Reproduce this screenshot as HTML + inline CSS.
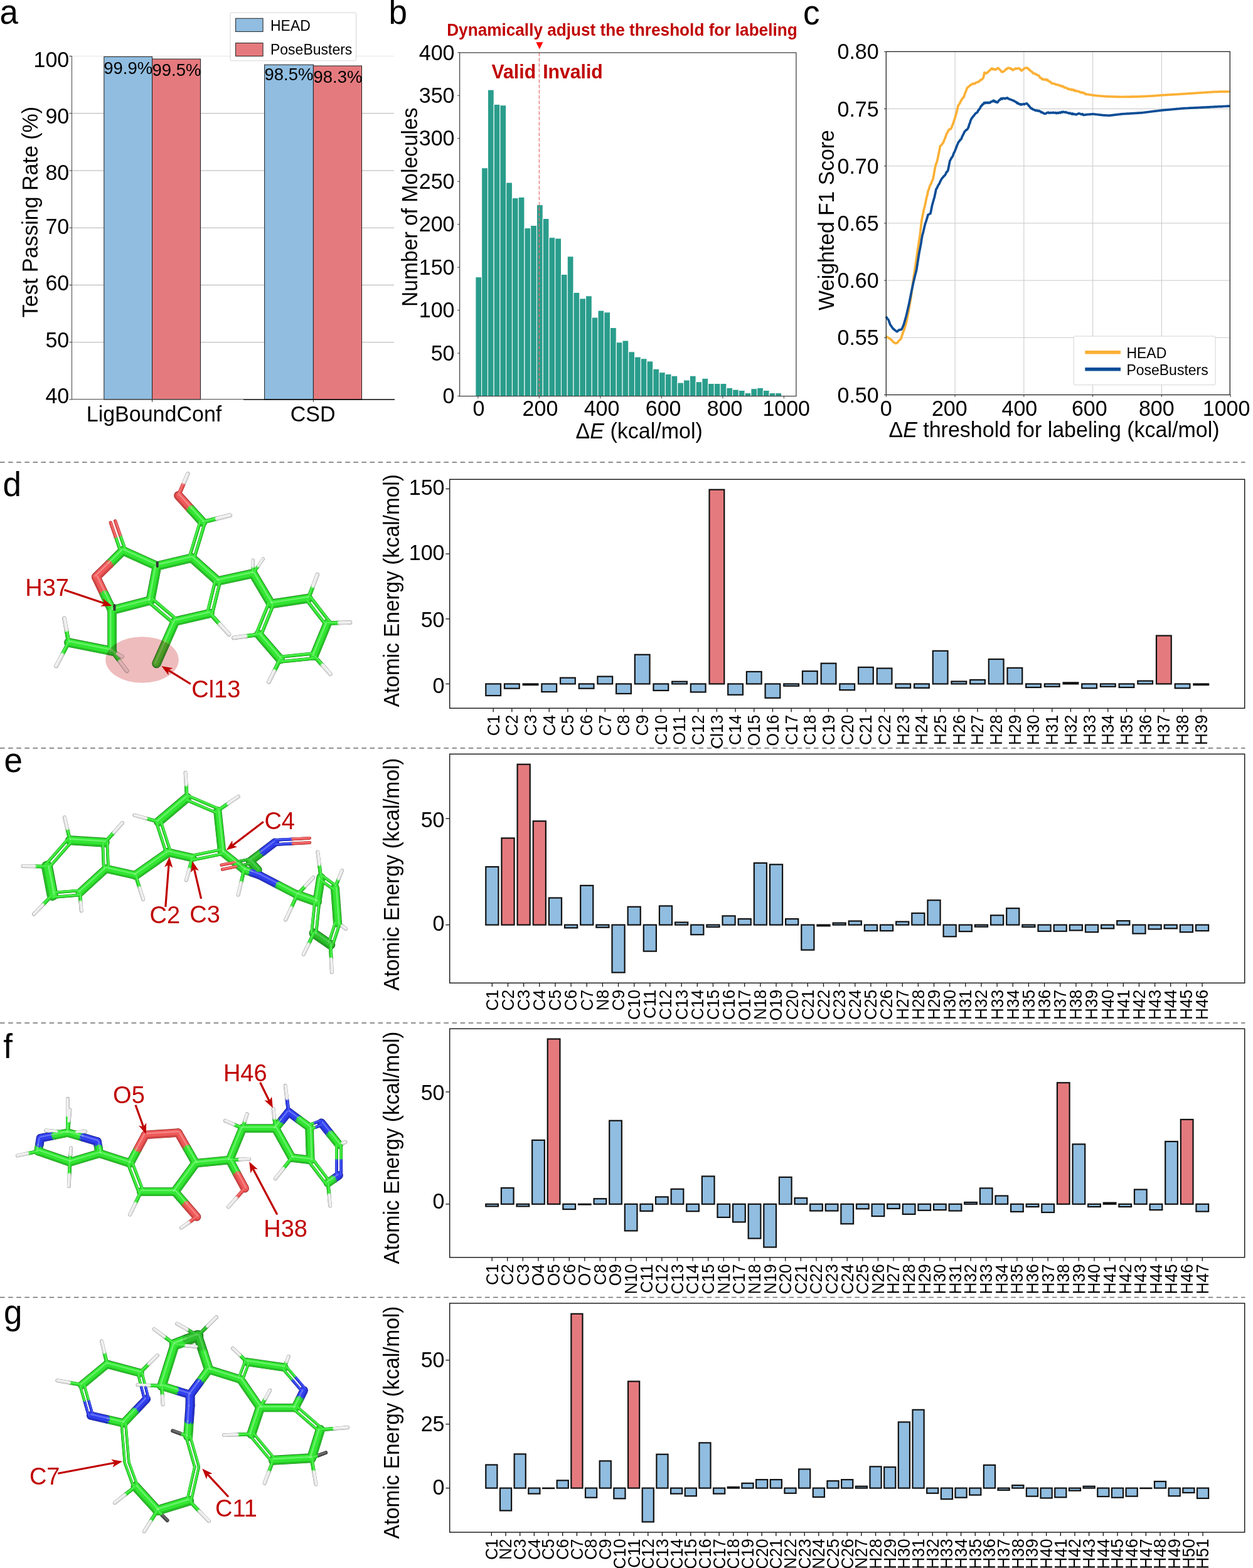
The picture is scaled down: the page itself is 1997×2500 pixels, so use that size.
<!DOCTYPE html>
<html><head><meta charset="utf-8"><style>html,body{margin:0;padding:0;background:#fff;overflow:hidden;}svg{display:block;}</style></head>
<body><svg width="1997" height="2500" viewBox="0 0 1997 2500" font-family='"Liberation Sans", Arial, sans-serif'>
<rect width="1997" height="2500" fill="#fff"/>
<g stroke-linecap="round" fill="none"><line x1="299.3" y1="755.5" x2="291.9" y2="772.9" stroke="#858585" stroke-width="6.5"/>
<line x1="291.9" y1="772.9" x2="284.4" y2="790.2" stroke="#9a2626" stroke-width="6.5"/>
<line x1="284.4" y1="790.2" x2="303.6" y2="811.4" stroke="#9a2626" stroke-width="14.5"/>
<line x1="303.6" y1="811.4" x2="322.9" y2="832.5" stroke="#137e13" stroke-width="14.5"/>
<line x1="322.9" y1="832.5" x2="344.9" y2="827.0" stroke="#137e13" stroke-width="6.5"/>
<line x1="344.9" y1="827.0" x2="366.8" y2="821.5" stroke="#858585" stroke-width="6.5"/>
<line x1="326.6" y1="833.6" x2="309.3" y2="890.6" stroke="#137e13" stroke-width="5.2"/>
<line x1="319.2" y1="831.4" x2="301.9" y2="888.4" stroke="#137e13" stroke-width="5.2"/>
<line x1="305.6" y1="889.5" x2="250.2" y2="902.5" stroke="#137e13" stroke-width="14.5"/>
<line x1="305.6" y1="889.5" x2="347.0" y2="926.5" stroke="#137e13" stroke-width="14.5"/>
<line x1="250.2" y1="902.5" x2="195.9" y2="878.0" stroke="#137e13" stroke-width="14.5"/>
<line x1="192.2" y1="879.3" x2="184.3" y2="856.3" stroke="#137e13" stroke-width="5.2"/>
<line x1="184.3" y1="856.3" x2="176.3" y2="833.3" stroke="#9a2626" stroke-width="5.2"/>
<line x1="199.6" y1="876.7" x2="191.6" y2="853.7" stroke="#137e13" stroke-width="5.2"/>
<line x1="191.6" y1="853.7" x2="183.7" y2="830.7" stroke="#9a2626" stroke-width="5.2"/>
<line x1="195.9" y1="878.0" x2="174.6" y2="899.0" stroke="#137e13" stroke-width="14.5"/>
<line x1="174.6" y1="899.0" x2="153.2" y2="920.0" stroke="#9a2626" stroke-width="14.5"/>
<line x1="153.2" y1="920.0" x2="165.8" y2="946.5" stroke="#9a2626" stroke-width="14.5"/>
<line x1="165.8" y1="946.5" x2="178.5" y2="973.0" stroke="#137e13" stroke-width="14.5"/>
<line x1="178.5" y1="973.0" x2="239.7" y2="957.3" stroke="#137e13" stroke-width="14.5"/>
<line x1="239.7" y1="957.3" x2="250.2" y2="902.5" stroke="#137e13" stroke-width="14.5"/>
<line x1="242.2" y1="954.3" x2="281.7" y2="987.8" stroke="#137e13" stroke-width="5.2"/>
<line x1="237.2" y1="960.3" x2="276.7" y2="993.8" stroke="#137e13" stroke-width="5.2"/>
<line x1="279.2" y1="990.8" x2="334.4" y2="978.0" stroke="#137e13" stroke-width="14.5"/>
<line x1="330.6" y1="977.1" x2="343.2" y2="925.6" stroke="#137e13" stroke-width="5.2"/>
<line x1="338.2" y1="978.9" x2="350.8" y2="927.4" stroke="#137e13" stroke-width="5.2"/>
<line x1="279.2" y1="990.8" x2="264.4" y2="1024.4" stroke="#137e13" stroke-width="14.5"/>
<line x1="264.4" y1="1024.4" x2="249.5" y2="1058.0" stroke="#1c6e12" stroke-width="14.5"/>
<line x1="178.5" y1="973.0" x2="178.5" y2="1038.2" stroke="#137e13" stroke-width="14.5"/>
<line x1="178.5" y1="1038.2" x2="109.4" y2="1024.4" stroke="#137e13" stroke-width="14.5"/>
<line x1="109.4" y1="1024.4" x2="105.9" y2="1005.2" stroke="#137e13" stroke-width="6.5"/>
<line x1="105.9" y1="1005.2" x2="102.4" y2="985.9" stroke="#858585" stroke-width="6.5"/>
<line x1="109.4" y1="1024.4" x2="99.5" y2="1043.2" stroke="#137e13" stroke-width="6.5"/>
<line x1="99.5" y1="1043.2" x2="89.6" y2="1061.9" stroke="#858585" stroke-width="6.5"/>
<line x1="178.5" y1="1038.2" x2="190.3" y2="1054.0" stroke="#137e13" stroke-width="6.5"/>
<line x1="190.3" y1="1054.0" x2="202.2" y2="1069.8" stroke="#858585" stroke-width="6.5"/>
<line x1="178.5" y1="1038.2" x2="186.4" y2="1042.7" stroke="#137e13" stroke-width="6.5"/>
<line x1="186.4" y1="1042.7" x2="194.3" y2="1047.1" stroke="#858585" stroke-width="6.5"/>
<line x1="334.4" y1="978.0" x2="349.7" y2="994.8" stroke="#137e13" stroke-width="6.5"/>
<line x1="349.7" y1="994.8" x2="365.0" y2="1011.5" stroke="#858585" stroke-width="6.5"/>
<line x1="347.0" y1="926.5" x2="403.2" y2="914.4" stroke="#137e13" stroke-width="14.5"/>
<line x1="403.2" y1="914.4" x2="403.2" y2="903.7" stroke="#137e13" stroke-width="5.0"/>
<line x1="403.2" y1="903.7" x2="403.2" y2="893.0" stroke="#858585" stroke-width="5.0"/>
<line x1="403.2" y1="914.4" x2="411.4" y2="902.7" stroke="#137e13" stroke-width="5.0"/>
<line x1="411.4" y1="902.7" x2="419.5" y2="891.0" stroke="#858585" stroke-width="5.0"/>
<line x1="403.2" y1="914.4" x2="432.0" y2="963.0" stroke="#137e13" stroke-width="14.5"/>
<line x1="432.0" y1="963.0" x2="491.5" y2="954.0" stroke="#137e13" stroke-width="14.5"/>
<line x1="494.6" y1="951.6" x2="525.1" y2="991.2" stroke="#137e13" stroke-width="5.2"/>
<line x1="488.4" y1="956.4" x2="518.9" y2="996.0" stroke="#137e13" stroke-width="5.2"/>
<line x1="522.0" y1="993.6" x2="500.5" y2="1045.8" stroke="#137e13" stroke-width="14.0"/>
<line x1="500.9" y1="1049.7" x2="446.9" y2="1055.1" stroke="#137e13" stroke-width="5.2"/>
<line x1="500.1" y1="1041.9" x2="446.1" y2="1047.3" stroke="#137e13" stroke-width="5.2"/>
<line x1="446.5" y1="1051.2" x2="412.3" y2="1011.6" stroke="#137e13" stroke-width="14.5"/>
<line x1="408.7" y1="1010.1" x2="428.4" y2="961.5" stroke="#137e13" stroke-width="5.2"/>
<line x1="415.9" y1="1013.1" x2="435.6" y2="964.5" stroke="#137e13" stroke-width="5.2"/>
<line x1="491.5" y1="954.0" x2="498.7" y2="935.1" stroke="#137e13" stroke-width="6.5"/>
<line x1="498.7" y1="935.1" x2="505.9" y2="916.2" stroke="#858585" stroke-width="6.5"/>
<line x1="522.0" y1="993.6" x2="540.0" y2="993.1" stroke="#137e13" stroke-width="6.5"/>
<line x1="540.0" y1="993.1" x2="558.0" y2="992.6" stroke="#858585" stroke-width="6.5"/>
<line x1="500.5" y1="1045.8" x2="513.5" y2="1060.2" stroke="#137e13" stroke-width="6.5"/>
<line x1="513.5" y1="1060.2" x2="526.4" y2="1074.6" stroke="#858585" stroke-width="6.5"/>
<line x1="446.5" y1="1051.2" x2="437.5" y2="1069.2" stroke="#137e13" stroke-width="6.5"/>
<line x1="437.5" y1="1069.2" x2="428.5" y2="1087.3" stroke="#858585" stroke-width="6.5"/>
<line x1="412.3" y1="1011.6" x2="392.5" y2="1014.3" stroke="#137e13" stroke-width="6.5"/>
<line x1="392.5" y1="1014.3" x2="372.6" y2="1017.0" stroke="#858585" stroke-width="6.5"/>
<line x1="299.4" y1="755.6" x2="292.0" y2="772.9" stroke="#cfcfcf" stroke-width="5.9"/>
<line x1="292.0" y1="772.9" x2="284.5" y2="790.3" stroke="#d04444" stroke-width="5.9"/>
<line x1="284.2" y1="790.4" x2="303.4" y2="811.5" stroke="#d04444" stroke-width="13.1"/>
<line x1="303.4" y1="811.5" x2="322.7" y2="832.7" stroke="#27c027" stroke-width="13.1"/>
<line x1="322.9" y1="832.6" x2="344.9" y2="827.1" stroke="#27c027" stroke-width="5.9"/>
<line x1="344.9" y1="827.1" x2="366.8" y2="821.6" stroke="#cfcfcf" stroke-width="5.9"/>
<line x1="326.7" y1="833.7" x2="309.4" y2="890.7" stroke="#27c027" stroke-width="4.7"/>
<line x1="319.3" y1="831.4" x2="302.0" y2="888.4" stroke="#27c027" stroke-width="4.7"/>
<line x1="305.7" y1="889.8" x2="250.3" y2="902.8" stroke="#27c027" stroke-width="13.1"/>
<line x1="305.4" y1="889.7" x2="346.8" y2="926.7" stroke="#27c027" stroke-width="13.1"/>
<line x1="250.1" y1="902.8" x2="195.8" y2="878.3" stroke="#27c027" stroke-width="13.1"/>
<line x1="192.1" y1="879.3" x2="184.2" y2="856.3" stroke="#27c027" stroke-width="4.7"/>
<line x1="184.2" y1="856.3" x2="176.2" y2="833.3" stroke="#d04444" stroke-width="4.7"/>
<line x1="199.5" y1="876.8" x2="191.5" y2="853.8" stroke="#27c027" stroke-width="4.7"/>
<line x1="191.5" y1="853.8" x2="183.6" y2="830.8" stroke="#d04444" stroke-width="4.7"/>
<line x1="196.1" y1="878.2" x2="174.8" y2="899.2" stroke="#27c027" stroke-width="13.1"/>
<line x1="174.8" y1="899.2" x2="153.4" y2="920.2" stroke="#d04444" stroke-width="13.1"/>
<line x1="152.9" y1="920.1" x2="165.6" y2="946.6" stroke="#d04444" stroke-width="13.1"/>
<line x1="165.6" y1="946.6" x2="178.2" y2="973.1" stroke="#27c027" stroke-width="13.1"/>
<line x1="178.6" y1="973.3" x2="239.8" y2="957.6" stroke="#27c027" stroke-width="13.1"/>
<line x1="240.0" y1="957.4" x2="250.5" y2="902.6" stroke="#27c027" stroke-width="13.1"/>
<line x1="242.2" y1="954.4" x2="281.7" y2="987.9" stroke="#27c027" stroke-width="4.7"/>
<line x1="237.1" y1="960.4" x2="276.6" y2="993.9" stroke="#27c027" stroke-width="4.7"/>
<line x1="279.3" y1="991.1" x2="334.5" y2="978.3" stroke="#27c027" stroke-width="13.1"/>
<line x1="330.7" y1="977.1" x2="343.3" y2="925.6" stroke="#27c027" stroke-width="4.7"/>
<line x1="338.3" y1="979.0" x2="350.9" y2="927.5" stroke="#27c027" stroke-width="4.7"/>
<line x1="279.5" y1="990.9" x2="264.6" y2="1024.5" stroke="#27c027" stroke-width="13.1"/>
<line x1="264.6" y1="1024.5" x2="249.8" y2="1058.1" stroke="#3cb02a" stroke-width="13.1"/>
<line x1="178.8" y1="973.0" x2="178.8" y2="1038.2" stroke="#27c027" stroke-width="13.1"/>
<line x1="178.4" y1="1038.5" x2="109.3" y2="1024.7" stroke="#27c027" stroke-width="13.1"/>
<line x1="109.3" y1="1024.4" x2="105.8" y2="1005.2" stroke="#27c027" stroke-width="5.9"/>
<line x1="105.8" y1="1005.2" x2="102.3" y2="985.9" stroke="#cfcfcf" stroke-width="5.9"/>
<line x1="109.5" y1="1024.5" x2="99.6" y2="1043.2" stroke="#27c027" stroke-width="5.9"/>
<line x1="99.6" y1="1043.2" x2="89.7" y2="1062.0" stroke="#cfcfcf" stroke-width="5.9"/>
<line x1="178.4" y1="1038.3" x2="190.2" y2="1054.1" stroke="#27c027" stroke-width="5.9"/>
<line x1="190.2" y1="1054.1" x2="202.1" y2="1069.9" stroke="#cfcfcf" stroke-width="5.9"/>
<line x1="178.4" y1="1038.3" x2="186.3" y2="1042.8" stroke="#27c027" stroke-width="5.9"/>
<line x1="186.3" y1="1042.8" x2="194.2" y2="1047.2" stroke="#cfcfcf" stroke-width="5.9"/>
<line x1="334.3" y1="978.1" x2="349.6" y2="994.8" stroke="#27c027" stroke-width="5.9"/>
<line x1="349.6" y1="994.8" x2="364.9" y2="1011.6" stroke="#cfcfcf" stroke-width="5.9"/>
<line x1="347.1" y1="926.8" x2="403.3" y2="914.7" stroke="#27c027" stroke-width="13.1"/>
<line x1="403.3" y1="914.4" x2="403.3" y2="903.7" stroke="#27c027" stroke-width="4.5"/>
<line x1="403.3" y1="903.7" x2="403.3" y2="893.0" stroke="#cfcfcf" stroke-width="4.5"/>
<line x1="403.3" y1="914.5" x2="411.4" y2="902.8" stroke="#27c027" stroke-width="4.5"/>
<line x1="411.4" y1="902.8" x2="419.6" y2="891.1" stroke="#cfcfcf" stroke-width="4.5"/>
<line x1="403.0" y1="914.5" x2="431.8" y2="963.1" stroke="#27c027" stroke-width="13.1"/>
<line x1="432.0" y1="963.3" x2="491.5" y2="954.3" stroke="#27c027" stroke-width="13.1"/>
<line x1="494.5" y1="951.7" x2="525.0" y2="991.3" stroke="#27c027" stroke-width="4.7"/>
<line x1="488.3" y1="956.4" x2="518.8" y2="996.0" stroke="#27c027" stroke-width="4.7"/>
<line x1="522.3" y1="993.7" x2="500.8" y2="1045.9" stroke="#27c027" stroke-width="12.6"/>
<line x1="500.9" y1="1049.8" x2="446.9" y2="1055.2" stroke="#27c027" stroke-width="4.7"/>
<line x1="500.1" y1="1042.0" x2="446.1" y2="1047.4" stroke="#27c027" stroke-width="4.7"/>
<line x1="446.3" y1="1051.4" x2="412.1" y2="1011.8" stroke="#27c027" stroke-width="13.1"/>
<line x1="408.8" y1="1010.2" x2="428.5" y2="961.6" stroke="#27c027" stroke-width="4.7"/>
<line x1="416.0" y1="1013.1" x2="435.7" y2="964.5" stroke="#27c027" stroke-width="4.7"/>
<line x1="491.6" y1="954.0" x2="498.8" y2="935.1" stroke="#27c027" stroke-width="5.9"/>
<line x1="498.8" y1="935.1" x2="506.0" y2="916.2" stroke="#cfcfcf" stroke-width="5.9"/>
<line x1="522.0" y1="993.7" x2="540.0" y2="993.2" stroke="#27c027" stroke-width="5.9"/>
<line x1="540.0" y1="993.2" x2="558.0" y2="992.7" stroke="#cfcfcf" stroke-width="5.9"/>
<line x1="500.4" y1="1045.9" x2="513.4" y2="1060.3" stroke="#27c027" stroke-width="5.9"/>
<line x1="513.4" y1="1060.3" x2="526.3" y2="1074.7" stroke="#cfcfcf" stroke-width="5.9"/>
<line x1="446.6" y1="1051.3" x2="437.6" y2="1069.3" stroke="#27c027" stroke-width="5.9"/>
<line x1="437.6" y1="1069.3" x2="428.6" y2="1087.4" stroke="#cfcfcf" stroke-width="5.9"/>
<line x1="412.3" y1="1011.7" x2="392.5" y2="1014.4" stroke="#27c027" stroke-width="5.9"/>
<line x1="392.5" y1="1014.4" x2="372.6" y2="1017.1" stroke="#cfcfcf" stroke-width="5.9"/>
<line x1="298.8" y1="755.3" x2="291.4" y2="772.6" stroke="#ececec" stroke-width="4.4"/>
<line x1="291.4" y1="772.6" x2="283.9" y2="790.0" stroke="#ee5a5a" stroke-width="4.4"/>
<line x1="285.3" y1="789.4" x2="304.5" y2="810.6" stroke="#ee5a5a" stroke-width="9.9"/>
<line x1="304.5" y1="810.6" x2="323.8" y2="831.7" stroke="#32e632" stroke-width="9.9"/>
<line x1="322.8" y1="832.0" x2="344.7" y2="826.5" stroke="#32e632" stroke-width="4.4"/>
<line x1="344.7" y1="826.5" x2="366.7" y2="821.0" stroke="#ececec" stroke-width="4.4"/>
<line x1="326.2" y1="833.5" x2="308.9" y2="890.5" stroke="#32e632" stroke-width="3.5"/>
<line x1="318.8" y1="831.2" x2="301.5" y2="888.2" stroke="#32e632" stroke-width="3.5"/>
<line x1="305.3" y1="888.4" x2="249.9" y2="901.4" stroke="#32e632" stroke-width="9.9"/>
<line x1="306.4" y1="888.6" x2="347.8" y2="925.6" stroke="#32e632" stroke-width="9.9"/>
<line x1="250.7" y1="901.4" x2="196.4" y2="876.9" stroke="#32e632" stroke-width="9.9"/>
<line x1="192.6" y1="879.1" x2="184.7" y2="856.1" stroke="#32e632" stroke-width="3.5"/>
<line x1="184.7" y1="856.1" x2="176.7" y2="833.1" stroke="#ee5a5a" stroke-width="3.5"/>
<line x1="200.0" y1="876.6" x2="192.0" y2="853.6" stroke="#32e632" stroke-width="3.5"/>
<line x1="192.0" y1="853.6" x2="184.1" y2="830.6" stroke="#ee5a5a" stroke-width="3.5"/>
<line x1="195.1" y1="877.2" x2="173.7" y2="898.2" stroke="#32e632" stroke-width="9.9"/>
<line x1="173.7" y1="898.2" x2="152.4" y2="919.2" stroke="#ee5a5a" stroke-width="9.9"/>
<line x1="154.2" y1="919.5" x2="166.9" y2="946.0" stroke="#ee5a5a" stroke-width="9.9"/>
<line x1="166.9" y1="946.0" x2="179.5" y2="972.5" stroke="#32e632" stroke-width="9.9"/>
<line x1="178.2" y1="971.9" x2="239.4" y2="956.2" stroke="#32e632" stroke-width="9.9"/>
<line x1="238.6" y1="957.1" x2="249.1" y2="902.3" stroke="#32e632" stroke-width="9.9"/>
<line x1="242.5" y1="954.0" x2="282.0" y2="987.5" stroke="#32e632" stroke-width="3.5"/>
<line x1="237.4" y1="960.0" x2="276.9" y2="993.5" stroke="#32e632" stroke-width="3.5"/>
<line x1="278.9" y1="989.7" x2="334.1" y2="976.9" stroke="#32e632" stroke-width="9.9"/>
<line x1="330.2" y1="977.0" x2="342.8" y2="925.5" stroke="#32e632" stroke-width="3.5"/>
<line x1="337.8" y1="978.8" x2="350.4" y2="927.3" stroke="#32e632" stroke-width="3.5"/>
<line x1="278.1" y1="990.3" x2="263.3" y2="1023.9" stroke="#32e632" stroke-width="9.9"/>
<line x1="263.3" y1="1023.9" x2="248.4" y2="1057.5" stroke="#50d233" stroke-width="9.9"/>
<line x1="177.3" y1="973.0" x2="177.3" y2="1038.2" stroke="#32e632" stroke-width="9.9"/>
<line x1="178.7" y1="1037.1" x2="109.6" y2="1023.3" stroke="#32e632" stroke-width="9.9"/>
<line x1="109.9" y1="1024.3" x2="106.4" y2="1005.1" stroke="#32e632" stroke-width="4.4"/>
<line x1="106.4" y1="1005.1" x2="102.9" y2="985.8" stroke="#ececec" stroke-width="4.4"/>
<line x1="108.9" y1="1024.2" x2="99.0" y2="1042.9" stroke="#32e632" stroke-width="4.4"/>
<line x1="99.0" y1="1042.9" x2="89.1" y2="1061.7" stroke="#ececec" stroke-width="4.4"/>
<line x1="178.9" y1="1037.9" x2="190.8" y2="1053.7" stroke="#32e632" stroke-width="4.4"/>
<line x1="190.8" y1="1053.7" x2="202.6" y2="1069.5" stroke="#ececec" stroke-width="4.4"/>
<line x1="178.8" y1="1037.7" x2="186.7" y2="1042.2" stroke="#32e632" stroke-width="4.4"/>
<line x1="186.7" y1="1042.2" x2="194.6" y2="1046.6" stroke="#ececec" stroke-width="4.4"/>
<line x1="334.8" y1="977.6" x2="350.1" y2="994.4" stroke="#32e632" stroke-width="4.4"/>
<line x1="350.1" y1="994.4" x2="365.4" y2="1011.1" stroke="#ececec" stroke-width="4.4"/>
<line x1="346.8" y1="925.4" x2="403.0" y2="913.3" stroke="#32e632" stroke-width="9.9"/>
<line x1="402.8" y1="914.4" x2="402.8" y2="903.7" stroke="#32e632" stroke-width="3.4"/>
<line x1="402.8" y1="903.7" x2="402.8" y2="893.0" stroke="#ececec" stroke-width="3.4"/>
<line x1="402.9" y1="914.2" x2="411.0" y2="902.5" stroke="#32e632" stroke-width="3.4"/>
<line x1="411.0" y1="902.5" x2="419.2" y2="890.8" stroke="#ececec" stroke-width="3.4"/>
<line x1="404.2" y1="913.8" x2="433.0" y2="962.4" stroke="#32e632" stroke-width="9.9"/>
<line x1="431.8" y1="961.9" x2="491.3" y2="952.9" stroke="#32e632" stroke-width="9.9"/>
<line x1="494.9" y1="951.4" x2="525.4" y2="991.0" stroke="#32e632" stroke-width="3.5"/>
<line x1="488.7" y1="956.1" x2="519.2" y2="995.7" stroke="#32e632" stroke-width="3.5"/>
<line x1="521.0" y1="993.2" x2="499.5" y2="1045.4" stroke="#32e632" stroke-width="9.5"/>
<line x1="500.8" y1="1049.3" x2="446.8" y2="1054.7" stroke="#32e632" stroke-width="3.5"/>
<line x1="500.1" y1="1041.5" x2="446.1" y2="1046.9" stroke="#32e632" stroke-width="3.5"/>
<line x1="447.4" y1="1050.4" x2="413.2" y2="1010.8" stroke="#32e632" stroke-width="9.9"/>
<line x1="408.3" y1="1010.0" x2="428.0" y2="961.4" stroke="#32e632" stroke-width="3.5"/>
<line x1="415.5" y1="1012.9" x2="435.2" y2="964.3" stroke="#32e632" stroke-width="3.5"/>
<line x1="491.0" y1="953.8" x2="498.2" y2="934.9" stroke="#32e632" stroke-width="4.4"/>
<line x1="498.2" y1="934.9" x2="505.4" y2="916.0" stroke="#ececec" stroke-width="4.4"/>
<line x1="522.0" y1="993.1" x2="540.0" y2="992.6" stroke="#32e632" stroke-width="4.4"/>
<line x1="540.0" y1="992.6" x2="558.0" y2="992.1" stroke="#ececec" stroke-width="4.4"/>
<line x1="500.9" y1="1045.5" x2="513.8" y2="1059.9" stroke="#32e632" stroke-width="4.4"/>
<line x1="513.8" y1="1059.9" x2="526.8" y2="1074.3" stroke="#ececec" stroke-width="4.4"/>
<line x1="446.0" y1="1051.0" x2="437.0" y2="1069.0" stroke="#32e632" stroke-width="4.4"/>
<line x1="437.0" y1="1069.0" x2="428.0" y2="1087.1" stroke="#ececec" stroke-width="4.4"/>
<line x1="412.2" y1="1011.1" x2="392.4" y2="1013.8" stroke="#32e632" stroke-width="4.4"/>
<line x1="392.4" y1="1013.8" x2="372.5" y2="1016.5" stroke="#ececec" stroke-width="4.4"/>
<line x1="298.4" y1="755.1" x2="291.0" y2="772.5" stroke="#ffffff" stroke-width="1.2" opacity="0.5"/>
<line x1="291.0" y1="772.5" x2="283.5" y2="789.8" stroke="#ffb0b0" stroke-width="1.2" opacity="0.5"/>
<line x1="286.0" y1="788.7" x2="305.3" y2="809.9" stroke="#ffb0b0" stroke-width="2.6" opacity="0.5"/>
<line x1="305.3" y1="809.9" x2="324.5" y2="831.0" stroke="#9cff9c" stroke-width="2.6" opacity="0.5"/>
<line x1="322.7" y1="831.6" x2="344.6" y2="826.1" stroke="#9cff9c" stroke-width="1.2" opacity="0.5"/>
<line x1="344.6" y1="826.1" x2="366.6" y2="820.6" stroke="#ffffff" stroke-width="1.2" opacity="0.5"/>
<line x1="325.9" y1="833.4" x2="308.6" y2="890.4" stroke="#9cff9c" stroke-width="0.9" opacity="0.5"/>
<line x1="318.4" y1="831.1" x2="301.1" y2="888.1" stroke="#9cff9c" stroke-width="0.9" opacity="0.5"/>
<line x1="305.1" y1="887.4" x2="249.7" y2="900.4" stroke="#9cff9c" stroke-width="2.6" opacity="0.5"/>
<line x1="307.0" y1="887.9" x2="348.4" y2="924.9" stroke="#9cff9c" stroke-width="2.6" opacity="0.5"/>
<line x1="251.1" y1="900.5" x2="196.8" y2="876.0" stroke="#9cff9c" stroke-width="2.6" opacity="0.5"/>
<line x1="193.0" y1="879.0" x2="185.0" y2="856.0" stroke="#9cff9c" stroke-width="0.9" opacity="0.5"/>
<line x1="185.0" y1="856.0" x2="177.1" y2="833.0" stroke="#ffb0b0" stroke-width="0.9" opacity="0.5"/>
<line x1="200.3" y1="876.5" x2="192.4" y2="853.5" stroke="#9cff9c" stroke-width="0.9" opacity="0.5"/>
<line x1="192.4" y1="853.5" x2="184.4" y2="830.5" stroke="#ffb0b0" stroke-width="0.9" opacity="0.5"/>
<line x1="194.4" y1="876.4" x2="173.0" y2="897.4" stroke="#9cff9c" stroke-width="2.6" opacity="0.5"/>
<line x1="173.0" y1="897.4" x2="151.7" y2="918.4" stroke="#ffb0b0" stroke-width="2.6" opacity="0.5"/>
<line x1="155.2" y1="919.1" x2="167.8" y2="945.6" stroke="#ffb0b0" stroke-width="2.6" opacity="0.5"/>
<line x1="167.8" y1="945.6" x2="180.5" y2="972.1" stroke="#9cff9c" stroke-width="2.6" opacity="0.5"/>
<line x1="178.0" y1="970.9" x2="239.2" y2="955.2" stroke="#9cff9c" stroke-width="2.6" opacity="0.5"/>
<line x1="237.6" y1="956.9" x2="248.1" y2="902.1" stroke="#9cff9c" stroke-width="2.6" opacity="0.5"/>
<line x1="242.7" y1="953.7" x2="282.2" y2="987.2" stroke="#9cff9c" stroke-width="0.9" opacity="0.5"/>
<line x1="237.7" y1="959.7" x2="277.2" y2="993.2" stroke="#9cff9c" stroke-width="0.9" opacity="0.5"/>
<line x1="278.7" y1="988.7" x2="333.9" y2="975.9" stroke="#9cff9c" stroke-width="2.6" opacity="0.5"/>
<line x1="329.9" y1="976.9" x2="342.5" y2="925.4" stroke="#9cff9c" stroke-width="0.9" opacity="0.5"/>
<line x1="337.4" y1="978.7" x2="350.0" y2="927.2" stroke="#9cff9c" stroke-width="0.9" opacity="0.5"/>
<line x1="277.2" y1="989.9" x2="262.4" y2="1023.5" stroke="#9cff9c" stroke-width="2.6" opacity="0.5"/>
<line x1="262.4" y1="1023.5" x2="247.5" y2="1057.1" stroke="#a0f090" stroke-width="2.6" opacity="0.5"/>
<line x1="176.3" y1="973.0" x2="176.3" y2="1038.2" stroke="#9cff9c" stroke-width="2.6" opacity="0.5"/>
<line x1="178.9" y1="1036.1" x2="109.8" y2="1022.3" stroke="#9cff9c" stroke-width="2.6" opacity="0.5"/>
<line x1="110.4" y1="1024.2" x2="106.9" y2="1005.0" stroke="#9cff9c" stroke-width="1.2" opacity="0.5"/>
<line x1="106.9" y1="1005.0" x2="103.4" y2="985.7" stroke="#ffffff" stroke-width="1.2" opacity="0.5"/>
<line x1="108.5" y1="1023.9" x2="98.6" y2="1042.7" stroke="#9cff9c" stroke-width="1.2" opacity="0.5"/>
<line x1="98.6" y1="1042.7" x2="88.7" y2="1061.4" stroke="#ffffff" stroke-width="1.2" opacity="0.5"/>
<line x1="179.3" y1="1037.6" x2="191.1" y2="1053.4" stroke="#9cff9c" stroke-width="1.2" opacity="0.5"/>
<line x1="191.1" y1="1053.4" x2="203.0" y2="1069.2" stroke="#ffffff" stroke-width="1.2" opacity="0.5"/>
<line x1="179.0" y1="1037.4" x2="186.9" y2="1041.8" stroke="#9cff9c" stroke-width="1.2" opacity="0.5"/>
<line x1="186.9" y1="1041.8" x2="194.8" y2="1046.3" stroke="#ffffff" stroke-width="1.2" opacity="0.5"/>
<line x1="335.1" y1="977.3" x2="350.4" y2="994.1" stroke="#9cff9c" stroke-width="1.2" opacity="0.5"/>
<line x1="350.4" y1="994.1" x2="365.7" y2="1010.8" stroke="#ffffff" stroke-width="1.2" opacity="0.5"/>
<line x1="346.5" y1="924.4" x2="402.7" y2="912.3" stroke="#9cff9c" stroke-width="2.6" opacity="0.5"/>
<line x1="402.4" y1="914.4" x2="402.4" y2="903.7" stroke="#9cff9c" stroke-width="0.9" opacity="0.5"/>
<line x1="402.4" y1="903.7" x2="402.4" y2="893.0" stroke="#ffffff" stroke-width="0.9" opacity="0.5"/>
<line x1="402.6" y1="914.0" x2="410.7" y2="902.3" stroke="#9cff9c" stroke-width="0.9" opacity="0.5"/>
<line x1="410.7" y1="902.3" x2="418.9" y2="890.6" stroke="#ffffff" stroke-width="0.9" opacity="0.5"/>
<line x1="405.1" y1="913.3" x2="433.9" y2="961.9" stroke="#9cff9c" stroke-width="2.6" opacity="0.5"/>
<line x1="431.7" y1="960.8" x2="491.2" y2="951.8" stroke="#9cff9c" stroke-width="2.6" opacity="0.5"/>
<line x1="495.2" y1="951.1" x2="525.7" y2="990.7" stroke="#9cff9c" stroke-width="0.9" opacity="0.5"/>
<line x1="489.0" y1="955.9" x2="519.5" y2="995.5" stroke="#9cff9c" stroke-width="0.9" opacity="0.5"/>
<line x1="520.1" y1="992.8" x2="498.6" y2="1045.0" stroke="#9cff9c" stroke-width="2.5" opacity="0.5"/>
<line x1="500.8" y1="1048.9" x2="446.8" y2="1054.3" stroke="#9cff9c" stroke-width="0.9" opacity="0.5"/>
<line x1="500.0" y1="1041.1" x2="446.0" y2="1046.5" stroke="#9cff9c" stroke-width="0.9" opacity="0.5"/>
<line x1="448.1" y1="1049.8" x2="413.9" y2="1010.2" stroke="#9cff9c" stroke-width="2.6" opacity="0.5"/>
<line x1="408.0" y1="1009.8" x2="427.7" y2="961.2" stroke="#9cff9c" stroke-width="0.9" opacity="0.5"/>
<line x1="415.2" y1="1012.8" x2="434.9" y2="964.2" stroke="#9cff9c" stroke-width="0.9" opacity="0.5"/>
<line x1="490.6" y1="953.7" x2="497.8" y2="934.8" stroke="#9cff9c" stroke-width="1.2" opacity="0.5"/>
<line x1="497.8" y1="934.8" x2="505.0" y2="915.9" stroke="#ffffff" stroke-width="1.2" opacity="0.5"/>
<line x1="522.0" y1="992.6" x2="540.0" y2="992.1" stroke="#9cff9c" stroke-width="1.2" opacity="0.5"/>
<line x1="540.0" y1="992.1" x2="558.0" y2="991.6" stroke="#ffffff" stroke-width="1.2" opacity="0.5"/>
<line x1="501.2" y1="1045.1" x2="514.2" y2="1059.5" stroke="#9cff9c" stroke-width="1.2" opacity="0.5"/>
<line x1="514.2" y1="1059.5" x2="527.1" y2="1073.9" stroke="#ffffff" stroke-width="1.2" opacity="0.5"/>
<line x1="445.6" y1="1050.8" x2="436.6" y2="1068.8" stroke="#9cff9c" stroke-width="1.2" opacity="0.5"/>
<line x1="436.6" y1="1068.8" x2="427.6" y2="1086.9" stroke="#ffffff" stroke-width="1.2" opacity="0.5"/>
<line x1="412.2" y1="1010.6" x2="392.3" y2="1013.3" stroke="#9cff9c" stroke-width="1.2" opacity="0.5"/>
<line x1="392.3" y1="1013.3" x2="372.5" y2="1016.0" stroke="#ffffff" stroke-width="1.2" opacity="0.5"/></g><g stroke-linecap="round"><line x1="182.4" y1="965" x2="182.4" y2="972" stroke="#333" stroke-width="4"/><line x1="250.7" y1="897" x2="250.7" y2="903" stroke="#333" stroke-width="4"/></g><ellipse cx="226.5" cy="1052" rx="58.3" ry="36.8" fill="#eebcbd" style="mix-blend-mode:multiply"/><text transform="translate(40.2,950.4) scale(1,1.035)" font-size="38" fill="#c00000">H37</text><line x1="102.4" y1="940.5" x2="166.4" y2="962.0" stroke="#c00000" stroke-width="3.2"/><polygon points="178.5,966.1 160.3,966.8 166.4,962.0 164.5,954.5" fill="#c00000"/><text transform="translate(305.2,1111.9) scale(1,1.035)" font-size="38" fill="#c00000">Cl13</text><line x1="303.8" y1="1090.5" x2="268.3" y2="1068.6" stroke="#c00000" stroke-width="3.2"/><polygon points="257.4,1061.9 275.3,1065.3 268.3,1068.6 268.5,1076.4" fill="#c00000"/><g stroke-linecap="round" fill="none"><line x1="111.5" y1="1339.8" x2="167.2" y2="1343.3" stroke="#137e13" stroke-width="15.0"/>
<line x1="170.8" y1="1343.1" x2="172.6" y2="1384.9" stroke="#137e13" stroke-width="4.8"/>
<line x1="163.6" y1="1343.5" x2="165.4" y2="1385.3" stroke="#137e13" stroke-width="4.8"/>
<line x1="169.0" y1="1385.1" x2="127.2" y2="1423.4" stroke="#137e13" stroke-width="13.2"/>
<line x1="127.5" y1="1427.0" x2="83.9" y2="1430.5" stroke="#137e13" stroke-width="4.8"/>
<line x1="126.9" y1="1419.8" x2="83.3" y2="1423.3" stroke="#137e13" stroke-width="4.8"/>
<line x1="83.6" y1="1426.9" x2="74.9" y2="1381.6" stroke="#137e13" stroke-width="18.0"/>
<line x1="72.2" y1="1379.2" x2="108.8" y2="1337.4" stroke="#137e13" stroke-width="4.8"/>
<line x1="77.6" y1="1384.0" x2="114.2" y2="1342.2" stroke="#137e13" stroke-width="4.8"/>
<line x1="111.5" y1="1339.8" x2="107.2" y2="1321.5" stroke="#137e13" stroke-width="5.8"/>
<line x1="107.2" y1="1321.5" x2="102.8" y2="1303.2" stroke="#858585" stroke-width="5.8"/>
<line x1="167.2" y1="1343.3" x2="181.1" y2="1327.7" stroke="#137e13" stroke-width="5.8"/>
<line x1="181.1" y1="1327.7" x2="195.1" y2="1312.0" stroke="#858585" stroke-width="5.8"/>
<line x1="74.9" y1="1381.6" x2="55.8" y2="1381.3" stroke="#137e13" stroke-width="5.8"/>
<line x1="55.8" y1="1381.3" x2="36.6" y2="1381.0" stroke="#858585" stroke-width="5.8"/>
<line x1="83.6" y1="1426.9" x2="68.8" y2="1442.2" stroke="#137e13" stroke-width="5.8"/>
<line x1="68.8" y1="1442.2" x2="54.0" y2="1457.6" stroke="#858585" stroke-width="5.8"/>
<line x1="127.2" y1="1423.4" x2="128.4" y2="1437.7" stroke="#137e13" stroke-width="5.8"/>
<line x1="128.4" y1="1437.7" x2="129.6" y2="1452.0" stroke="#858585" stroke-width="5.8"/>
<line x1="169.0" y1="1385.1" x2="216.0" y2="1395.6" stroke="#137e13" stroke-width="13.2"/>
<line x1="216.0" y1="1395.6" x2="222.1" y2="1414.8" stroke="#137e13" stroke-width="5.8"/>
<line x1="222.1" y1="1414.8" x2="228.2" y2="1434.0" stroke="#858585" stroke-width="5.8"/>
<line x1="216.0" y1="1395.6" x2="268.3" y2="1359.0" stroke="#137e13" stroke-width="14.5"/>
<line x1="264.9" y1="1360.1" x2="249.2" y2="1311.3" stroke="#137e13" stroke-width="4.8"/>
<line x1="271.7" y1="1357.9" x2="256.0" y2="1309.1" stroke="#137e13" stroke-width="4.8"/>
<line x1="252.6" y1="1310.2" x2="297.9" y2="1271.9" stroke="#137e13" stroke-width="15.0"/>
<line x1="299.3" y1="1268.6" x2="348.1" y2="1289.5" stroke="#137e13" stroke-width="4.8"/>
<line x1="296.5" y1="1275.2" x2="345.3" y2="1296.1" stroke="#137e13" stroke-width="4.8"/>
<line x1="346.7" y1="1292.8" x2="353.7" y2="1358.0" stroke="#137e13" stroke-width="13.2"/>
<line x1="354.4" y1="1361.5" x2="307.3" y2="1371.2" stroke="#137e13" stroke-width="4.8"/>
<line x1="353.0" y1="1354.5" x2="305.9" y2="1364.2" stroke="#137e13" stroke-width="4.8"/>
<line x1="306.6" y1="1367.7" x2="268.3" y2="1359.0" stroke="#137e13" stroke-width="13.2"/>
<line x1="252.6" y1="1310.2" x2="233.4" y2="1305.0" stroke="#137e13" stroke-width="5.8"/>
<line x1="233.4" y1="1305.0" x2="214.3" y2="1299.8" stroke="#858585" stroke-width="5.8"/>
<line x1="297.9" y1="1271.9" x2="296.7" y2="1251.8" stroke="#137e13" stroke-width="5.8"/>
<line x1="296.7" y1="1251.8" x2="295.5" y2="1231.8" stroke="#858585" stroke-width="5.8"/>
<line x1="346.7" y1="1292.8" x2="363.2" y2="1281.4" stroke="#137e13" stroke-width="5.8"/>
<line x1="363.2" y1="1281.4" x2="379.8" y2="1270.1" stroke="#858585" stroke-width="5.8"/>
<line x1="306.6" y1="1367.7" x2="301.8" y2="1385.5" stroke="#137e13" stroke-width="5.8"/>
<line x1="301.8" y1="1385.5" x2="296.9" y2="1403.2" stroke="#858585" stroke-width="5.8"/>
<line x1="353.7" y1="1358.0" x2="389.1" y2="1386.9" stroke="#137e13" stroke-width="13.2"/>
<line x1="389.1" y1="1386.9" x2="384.4" y2="1406.8" stroke="#137e13" stroke-width="5.8"/>
<line x1="384.4" y1="1406.8" x2="379.7" y2="1426.6" stroke="#858585" stroke-width="5.8"/>
<line x1="389.1" y1="1386.9" x2="401.1" y2="1391.1" stroke="#137e13" stroke-width="13.2"/>
<line x1="401.1" y1="1391.1" x2="413.2" y2="1395.3" stroke="#141a80" stroke-width="13.2"/>
<line x1="399.2" y1="1376.8" x2="376.8" y2="1381.5" stroke="#0f650f" stroke-width="4.8"/>
<line x1="376.8" y1="1381.5" x2="354.3" y2="1386.2" stroke="#9a2626" stroke-width="4.8"/>
<line x1="397.8" y1="1369.8" x2="375.3" y2="1374.5" stroke="#0f650f" stroke-width="4.8"/>
<line x1="375.3" y1="1374.5" x2="352.9" y2="1379.2" stroke="#9a2626" stroke-width="4.8"/>
<line x1="398.5" y1="1373.3" x2="418.4" y2="1358.2" stroke="#0f650f" stroke-width="13.2"/>
<line x1="418.4" y1="1358.2" x2="438.3" y2="1343.0" stroke="#141a80" stroke-width="13.2"/>
<line x1="438.1" y1="1339.4" x2="465.8" y2="1337.9" stroke="#141a80" stroke-width="4.8"/>
<line x1="465.8" y1="1337.9" x2="493.5" y2="1336.3" stroke="#9a2626" stroke-width="4.8"/>
<line x1="438.5" y1="1346.6" x2="466.2" y2="1345.0" stroke="#141a80" stroke-width="4.8"/>
<line x1="466.2" y1="1345.0" x2="493.9" y2="1343.5" stroke="#9a2626" stroke-width="4.8"/>
<line x1="398.5" y1="1373.3" x2="411.1" y2="1386.9" stroke="#0f650f" stroke-width="13.2"/>
<line x1="413.2" y1="1395.3" x2="443.4" y2="1411.0" stroke="#141a80" stroke-width="13.0"/>
<line x1="443.4" y1="1411.0" x2="473.7" y2="1426.7" stroke="#137e13" stroke-width="13.0"/>
<line x1="473.7" y1="1426.7" x2="486.4" y2="1413.0" stroke="#137e13" stroke-width="5.8"/>
<line x1="486.4" y1="1413.0" x2="499.2" y2="1399.2" stroke="#858585" stroke-width="5.8"/>
<line x1="473.7" y1="1426.7" x2="464.5" y2="1446.6" stroke="#137e13" stroke-width="5.8"/>
<line x1="464.5" y1="1446.6" x2="455.3" y2="1466.5" stroke="#858585" stroke-width="5.8"/>
<line x1="473.7" y1="1426.7" x2="505.3" y2="1438.0" stroke="#137e13" stroke-width="15.0"/>
<line x1="505.3" y1="1438.0" x2="511.4" y2="1399.2" stroke="#137e13" stroke-width="14.0"/>
<line x1="513.5" y1="1396.3" x2="536.0" y2="1412.6" stroke="#137e13" stroke-width="4.8"/>
<line x1="509.3" y1="1402.1" x2="531.8" y2="1418.4" stroke="#137e13" stroke-width="4.8"/>
<line x1="533.9" y1="1415.5" x2="538.0" y2="1471.6" stroke="#137e13" stroke-width="14.0"/>
<line x1="541.4" y1="1472.7" x2="530.1" y2="1507.4" stroke="#137e13" stroke-width="4.8"/>
<line x1="534.6" y1="1470.5" x2="523.3" y2="1505.2" stroke="#137e13" stroke-width="4.8"/>
<line x1="526.7" y1="1506.3" x2="500.2" y2="1488.0" stroke="#0f650f" stroke-width="15.0"/>
<line x1="496.6" y1="1487.6" x2="501.7" y2="1437.6" stroke="#137e13" stroke-width="4.8"/>
<line x1="503.8" y1="1488.4" x2="508.9" y2="1438.4" stroke="#137e13" stroke-width="4.8"/>
<line x1="511.4" y1="1399.2" x2="508.9" y2="1378.8" stroke="#137e13" stroke-width="5.8"/>
<line x1="508.9" y1="1378.8" x2="506.3" y2="1358.4" stroke="#858585" stroke-width="5.8"/>
<line x1="533.9" y1="1415.5" x2="539.5" y2="1401.8" stroke="#137e13" stroke-width="5.8"/>
<line x1="539.5" y1="1401.8" x2="545.1" y2="1388.0" stroke="#858585" stroke-width="5.8"/>
<line x1="538.0" y1="1471.6" x2="544.6" y2="1476.2" stroke="#137e13" stroke-width="5.8"/>
<line x1="544.6" y1="1476.2" x2="551.2" y2="1480.8" stroke="#858585" stroke-width="5.8"/>
<line x1="526.7" y1="1506.3" x2="527.8" y2="1528.2" stroke="#137e13" stroke-width="5.8"/>
<line x1="527.8" y1="1528.2" x2="528.8" y2="1550.2" stroke="#858585" stroke-width="5.8"/>
<line x1="500.2" y1="1488.0" x2="492.0" y2="1504.8" stroke="#137e13" stroke-width="5.8"/>
<line x1="492.0" y1="1504.8" x2="483.9" y2="1521.6" stroke="#858585" stroke-width="5.8"/>
<line x1="111.5" y1="1340.1" x2="167.2" y2="1343.6" stroke="#27c027" stroke-width="13.5"/>
<line x1="170.7" y1="1343.1" x2="172.5" y2="1384.9" stroke="#27c027" stroke-width="4.3"/>
<line x1="163.5" y1="1343.5" x2="165.3" y2="1385.3" stroke="#27c027" stroke-width="4.3"/>
<line x1="169.2" y1="1385.3" x2="127.4" y2="1423.6" stroke="#27c027" stroke-width="11.9"/>
<line x1="127.5" y1="1427.1" x2="83.9" y2="1430.6" stroke="#27c027" stroke-width="4.3"/>
<line x1="126.9" y1="1419.9" x2="83.3" y2="1423.4" stroke="#27c027" stroke-width="4.3"/>
<line x1="83.2" y1="1427.0" x2="74.5" y2="1381.7" stroke="#27c027" stroke-width="16.2"/>
<line x1="72.3" y1="1379.3" x2="108.9" y2="1337.5" stroke="#27c027" stroke-width="4.3"/>
<line x1="77.7" y1="1384.0" x2="114.3" y2="1342.2" stroke="#27c027" stroke-width="4.3"/>
<line x1="111.4" y1="1339.8" x2="107.0" y2="1321.5" stroke="#27c027" stroke-width="5.2"/>
<line x1="107.0" y1="1321.5" x2="102.7" y2="1303.2" stroke="#cfcfcf" stroke-width="5.2"/>
<line x1="167.3" y1="1343.4" x2="181.2" y2="1327.7" stroke="#27c027" stroke-width="5.2"/>
<line x1="181.2" y1="1327.7" x2="195.2" y2="1312.1" stroke="#cfcfcf" stroke-width="5.2"/>
<line x1="74.9" y1="1381.7" x2="55.7" y2="1381.4" stroke="#27c027" stroke-width="5.2"/>
<line x1="55.7" y1="1381.4" x2="36.6" y2="1381.1" stroke="#cfcfcf" stroke-width="5.2"/>
<line x1="83.7" y1="1427.0" x2="68.9" y2="1442.3" stroke="#27c027" stroke-width="5.2"/>
<line x1="68.9" y1="1442.3" x2="54.1" y2="1457.7" stroke="#cfcfcf" stroke-width="5.2"/>
<line x1="127.1" y1="1423.4" x2="128.3" y2="1437.7" stroke="#27c027" stroke-width="5.2"/>
<line x1="128.3" y1="1437.7" x2="129.5" y2="1452.0" stroke="#cfcfcf" stroke-width="5.2"/>
<line x1="168.9" y1="1385.4" x2="215.9" y2="1395.9" stroke="#27c027" stroke-width="11.9"/>
<line x1="215.9" y1="1395.6" x2="222.0" y2="1414.8" stroke="#27c027" stroke-width="5.2"/>
<line x1="222.0" y1="1414.8" x2="228.1" y2="1434.0" stroke="#cfcfcf" stroke-width="5.2"/>
<line x1="216.2" y1="1395.8" x2="268.5" y2="1359.2" stroke="#27c027" stroke-width="13.1"/>
<line x1="264.8" y1="1360.1" x2="249.1" y2="1311.3" stroke="#27c027" stroke-width="4.3"/>
<line x1="271.6" y1="1357.9" x2="255.9" y2="1309.1" stroke="#27c027" stroke-width="4.3"/>
<line x1="252.8" y1="1310.4" x2="298.1" y2="1272.1" stroke="#27c027" stroke-width="13.5"/>
<line x1="299.3" y1="1268.7" x2="348.1" y2="1289.6" stroke="#27c027" stroke-width="4.3"/>
<line x1="296.4" y1="1275.3" x2="345.2" y2="1296.2" stroke="#27c027" stroke-width="4.3"/>
<line x1="346.4" y1="1292.8" x2="353.4" y2="1358.0" stroke="#27c027" stroke-width="11.9"/>
<line x1="354.4" y1="1361.6" x2="307.3" y2="1371.3" stroke="#27c027" stroke-width="4.3"/>
<line x1="353.0" y1="1354.6" x2="305.9" y2="1364.3" stroke="#27c027" stroke-width="4.3"/>
<line x1="306.5" y1="1368.0" x2="268.2" y2="1359.3" stroke="#27c027" stroke-width="11.9"/>
<line x1="252.6" y1="1310.3" x2="233.4" y2="1305.1" stroke="#27c027" stroke-width="5.2"/>
<line x1="233.4" y1="1305.1" x2="214.3" y2="1299.9" stroke="#cfcfcf" stroke-width="5.2"/>
<line x1="297.8" y1="1271.9" x2="296.6" y2="1251.9" stroke="#27c027" stroke-width="5.2"/>
<line x1="296.6" y1="1251.9" x2="295.4" y2="1231.8" stroke="#cfcfcf" stroke-width="5.2"/>
<line x1="346.8" y1="1292.9" x2="363.3" y2="1281.5" stroke="#27c027" stroke-width="5.2"/>
<line x1="363.3" y1="1281.5" x2="379.9" y2="1270.2" stroke="#cfcfcf" stroke-width="5.2"/>
<line x1="306.7" y1="1367.7" x2="301.9" y2="1385.5" stroke="#27c027" stroke-width="5.2"/>
<line x1="301.9" y1="1385.5" x2="297.0" y2="1403.2" stroke="#cfcfcf" stroke-width="5.2"/>
<line x1="353.5" y1="1358.2" x2="388.9" y2="1387.1" stroke="#27c027" stroke-width="11.9"/>
<line x1="389.2" y1="1386.9" x2="384.5" y2="1406.8" stroke="#27c027" stroke-width="5.2"/>
<line x1="384.5" y1="1406.8" x2="379.8" y2="1426.6" stroke="#cfcfcf" stroke-width="5.2"/>
<line x1="389.0" y1="1387.1" x2="401.1" y2="1391.3" stroke="#27c027" stroke-width="11.9"/>
<line x1="401.1" y1="1391.3" x2="413.1" y2="1395.5" stroke="#2530c8" stroke-width="11.9"/>
<line x1="399.3" y1="1376.9" x2="376.8" y2="1381.6" stroke="#22a022" stroke-width="4.3"/>
<line x1="376.8" y1="1381.6" x2="354.4" y2="1386.3" stroke="#d04444" stroke-width="4.3"/>
<line x1="397.8" y1="1369.9" x2="375.3" y2="1374.6" stroke="#22a022" stroke-width="4.3"/>
<line x1="375.3" y1="1374.6" x2="352.9" y2="1379.3" stroke="#d04444" stroke-width="4.3"/>
<line x1="398.7" y1="1373.5" x2="418.6" y2="1358.4" stroke="#22a022" stroke-width="11.9"/>
<line x1="418.6" y1="1358.4" x2="438.5" y2="1343.2" stroke="#2530c8" stroke-width="11.9"/>
<line x1="438.1" y1="1339.5" x2="465.8" y2="1338.0" stroke="#2530c8" stroke-width="4.3"/>
<line x1="465.8" y1="1338.0" x2="493.5" y2="1336.4" stroke="#d04444" stroke-width="4.3"/>
<line x1="438.5" y1="1346.7" x2="466.2" y2="1345.1" stroke="#2530c8" stroke-width="4.3"/>
<line x1="466.2" y1="1345.1" x2="493.9" y2="1343.6" stroke="#d04444" stroke-width="4.3"/>
<line x1="398.3" y1="1373.5" x2="410.9" y2="1387.1" stroke="#22a022" stroke-width="11.9"/>
<line x1="413.1" y1="1395.5" x2="443.3" y2="1411.2" stroke="#2530c8" stroke-width="11.7"/>
<line x1="443.3" y1="1411.2" x2="473.6" y2="1426.9" stroke="#27c027" stroke-width="11.7"/>
<line x1="473.8" y1="1426.8" x2="486.5" y2="1413.0" stroke="#27c027" stroke-width="5.2"/>
<line x1="486.5" y1="1413.0" x2="499.3" y2="1399.3" stroke="#cfcfcf" stroke-width="5.2"/>
<line x1="473.8" y1="1426.7" x2="464.6" y2="1446.6" stroke="#27c027" stroke-width="5.2"/>
<line x1="464.6" y1="1446.6" x2="455.4" y2="1466.5" stroke="#cfcfcf" stroke-width="5.2"/>
<line x1="473.6" y1="1427.0" x2="505.2" y2="1438.3" stroke="#27c027" stroke-width="13.5"/>
<line x1="505.6" y1="1438.0" x2="511.7" y2="1399.2" stroke="#27c027" stroke-width="12.6"/>
<line x1="513.5" y1="1396.4" x2="536.0" y2="1412.7" stroke="#27c027" stroke-width="4.3"/>
<line x1="509.2" y1="1402.2" x2="531.7" y2="1418.5" stroke="#27c027" stroke-width="4.3"/>
<line x1="533.6" y1="1415.5" x2="537.7" y2="1471.6" stroke="#27c027" stroke-width="12.6"/>
<line x1="541.5" y1="1472.7" x2="530.2" y2="1507.4" stroke="#27c027" stroke-width="4.3"/>
<line x1="534.7" y1="1470.5" x2="523.4" y2="1505.2" stroke="#27c027" stroke-width="4.3"/>
<line x1="526.5" y1="1506.5" x2="500.0" y2="1488.2" stroke="#22a022" stroke-width="13.5"/>
<line x1="496.7" y1="1487.6" x2="501.8" y2="1437.6" stroke="#27c027" stroke-width="4.3"/>
<line x1="503.9" y1="1488.4" x2="509.0" y2="1438.4" stroke="#27c027" stroke-width="4.3"/>
<line x1="511.3" y1="1399.2" x2="508.7" y2="1378.8" stroke="#27c027" stroke-width="5.2"/>
<line x1="508.7" y1="1378.8" x2="506.2" y2="1358.4" stroke="#cfcfcf" stroke-width="5.2"/>
<line x1="534.0" y1="1415.5" x2="539.6" y2="1401.8" stroke="#27c027" stroke-width="5.2"/>
<line x1="539.6" y1="1401.8" x2="545.2" y2="1388.0" stroke="#cfcfcf" stroke-width="5.2"/>
<line x1="537.9" y1="1471.7" x2="544.5" y2="1476.3" stroke="#27c027" stroke-width="5.2"/>
<line x1="544.5" y1="1476.3" x2="551.1" y2="1480.9" stroke="#cfcfcf" stroke-width="5.2"/>
<line x1="526.6" y1="1506.3" x2="527.6" y2="1528.3" stroke="#27c027" stroke-width="5.2"/>
<line x1="527.6" y1="1528.3" x2="528.7" y2="1550.2" stroke="#cfcfcf" stroke-width="5.2"/>
<line x1="500.3" y1="1488.1" x2="492.2" y2="1504.9" stroke="#27c027" stroke-width="5.2"/>
<line x1="492.2" y1="1504.9" x2="484.0" y2="1521.7" stroke="#cfcfcf" stroke-width="5.2"/>
<line x1="111.6" y1="1338.6" x2="167.3" y2="1342.1" stroke="#32e632" stroke-width="10.2"/>
<line x1="171.2" y1="1343.1" x2="173.0" y2="1384.9" stroke="#32e632" stroke-width="3.3"/>
<line x1="164.0" y1="1343.4" x2="165.8" y2="1385.2" stroke="#32e632" stroke-width="3.3"/>
<line x1="168.3" y1="1384.3" x2="126.5" y2="1422.6" stroke="#32e632" stroke-width="9.0"/>
<line x1="127.5" y1="1426.6" x2="83.9" y2="1430.1" stroke="#32e632" stroke-width="3.3"/>
<line x1="126.9" y1="1419.4" x2="83.3" y2="1422.9" stroke="#32e632" stroke-width="3.3"/>
<line x1="85.0" y1="1426.6" x2="76.3" y2="1381.3" stroke="#32e632" stroke-width="12.2"/>
<line x1="71.9" y1="1379.0" x2="108.5" y2="1337.2" stroke="#32e632" stroke-width="3.3"/>
<line x1="77.3" y1="1383.7" x2="113.9" y2="1341.9" stroke="#32e632" stroke-width="3.3"/>
<line x1="112.0" y1="1339.7" x2="107.6" y2="1321.4" stroke="#32e632" stroke-width="3.9"/>
<line x1="107.6" y1="1321.4" x2="103.3" y2="1303.1" stroke="#ececec" stroke-width="3.9"/>
<line x1="166.9" y1="1343.0" x2="180.8" y2="1327.3" stroke="#32e632" stroke-width="3.9"/>
<line x1="180.8" y1="1327.3" x2="194.8" y2="1311.7" stroke="#ececec" stroke-width="3.9"/>
<line x1="74.9" y1="1381.1" x2="55.8" y2="1380.8" stroke="#32e632" stroke-width="3.9"/>
<line x1="55.8" y1="1380.8" x2="36.6" y2="1380.5" stroke="#ececec" stroke-width="3.9"/>
<line x1="83.3" y1="1426.6" x2="68.5" y2="1441.9" stroke="#32e632" stroke-width="3.9"/>
<line x1="68.5" y1="1441.9" x2="53.7" y2="1457.3" stroke="#ececec" stroke-width="3.9"/>
<line x1="127.7" y1="1423.4" x2="128.9" y2="1437.7" stroke="#32e632" stroke-width="3.9"/>
<line x1="128.9" y1="1437.7" x2="130.1" y2="1452.0" stroke="#ececec" stroke-width="3.9"/>
<line x1="169.2" y1="1384.1" x2="216.2" y2="1394.6" stroke="#32e632" stroke-width="9.0"/>
<line x1="216.4" y1="1395.5" x2="222.5" y2="1414.7" stroke="#32e632" stroke-width="3.9"/>
<line x1="222.5" y1="1414.7" x2="228.6" y2="1433.9" stroke="#ececec" stroke-width="3.9"/>
<line x1="215.3" y1="1394.6" x2="267.6" y2="1358.0" stroke="#32e632" stroke-width="9.9"/>
<line x1="265.2" y1="1360.0" x2="249.5" y2="1311.2" stroke="#32e632" stroke-width="3.3"/>
<line x1="272.1" y1="1357.8" x2="256.4" y2="1309.0" stroke="#32e632" stroke-width="3.3"/>
<line x1="251.8" y1="1309.3" x2="297.1" y2="1271.0" stroke="#32e632" stroke-width="10.2"/>
<line x1="299.5" y1="1268.2" x2="348.3" y2="1289.1" stroke="#32e632" stroke-width="3.3"/>
<line x1="296.6" y1="1274.9" x2="345.4" y2="1295.8" stroke="#32e632" stroke-width="3.3"/>
<line x1="347.7" y1="1292.7" x2="354.7" y2="1357.9" stroke="#32e632" stroke-width="9.0"/>
<line x1="354.3" y1="1361.1" x2="307.2" y2="1370.8" stroke="#32e632" stroke-width="3.3"/>
<line x1="352.9" y1="1354.1" x2="305.8" y2="1363.8" stroke="#32e632" stroke-width="3.3"/>
<line x1="306.8" y1="1366.7" x2="268.5" y2="1358.0" stroke="#32e632" stroke-width="9.0"/>
<line x1="252.7" y1="1309.8" x2="233.6" y2="1304.6" stroke="#32e632" stroke-width="3.9"/>
<line x1="233.6" y1="1304.6" x2="214.4" y2="1299.4" stroke="#ececec" stroke-width="3.9"/>
<line x1="298.4" y1="1271.9" x2="297.2" y2="1251.8" stroke="#32e632" stroke-width="3.9"/>
<line x1="297.2" y1="1251.8" x2="296.0" y2="1231.8" stroke="#ececec" stroke-width="3.9"/>
<line x1="346.4" y1="1292.4" x2="363.0" y2="1281.1" stroke="#32e632" stroke-width="3.9"/>
<line x1="363.0" y1="1281.1" x2="379.5" y2="1269.7" stroke="#ececec" stroke-width="3.9"/>
<line x1="306.2" y1="1367.6" x2="301.3" y2="1385.3" stroke="#32e632" stroke-width="3.9"/>
<line x1="301.3" y1="1385.3" x2="296.5" y2="1403.1" stroke="#ececec" stroke-width="3.9"/>
<line x1="354.4" y1="1357.2" x2="389.8" y2="1386.1" stroke="#32e632" stroke-width="9.0"/>
<line x1="388.6" y1="1386.8" x2="383.9" y2="1406.6" stroke="#32e632" stroke-width="3.9"/>
<line x1="383.9" y1="1406.6" x2="379.2" y2="1426.5" stroke="#ececec" stroke-width="3.9"/>
<line x1="389.4" y1="1385.9" x2="401.5" y2="1390.1" stroke="#32e632" stroke-width="9.0"/>
<line x1="401.5" y1="1390.1" x2="413.5" y2="1394.3" stroke="#3040ee" stroke-width="9.0"/>
<line x1="399.2" y1="1376.4" x2="376.7" y2="1381.1" stroke="#2cbf2c" stroke-width="3.3"/>
<line x1="376.7" y1="1381.1" x2="354.3" y2="1385.8" stroke="#ee5a5a" stroke-width="3.3"/>
<line x1="397.7" y1="1369.4" x2="375.2" y2="1374.1" stroke="#2cbf2c" stroke-width="3.3"/>
<line x1="375.2" y1="1374.1" x2="352.8" y2="1378.8" stroke="#ee5a5a" stroke-width="3.3"/>
<line x1="397.9" y1="1372.5" x2="417.8" y2="1357.3" stroke="#2cbf2c" stroke-width="9.0"/>
<line x1="417.8" y1="1357.3" x2="437.7" y2="1342.2" stroke="#3040ee" stroke-width="9.0"/>
<line x1="438.1" y1="1339.0" x2="465.8" y2="1337.5" stroke="#3040ee" stroke-width="3.3"/>
<line x1="465.8" y1="1337.5" x2="493.5" y2="1335.9" stroke="#ee5a5a" stroke-width="3.3"/>
<line x1="438.5" y1="1346.2" x2="466.2" y2="1344.7" stroke="#3040ee" stroke-width="3.3"/>
<line x1="466.2" y1="1344.7" x2="493.9" y2="1343.1" stroke="#ee5a5a" stroke-width="3.3"/>
<line x1="399.3" y1="1372.6" x2="411.9" y2="1386.2" stroke="#2cbf2c" stroke-width="9.0"/>
<line x1="413.7" y1="1394.4" x2="443.9" y2="1410.1" stroke="#3040ee" stroke-width="8.8"/>
<line x1="443.9" y1="1410.1" x2="474.2" y2="1425.8" stroke="#32e632" stroke-width="8.8"/>
<line x1="473.4" y1="1426.4" x2="486.1" y2="1412.6" stroke="#32e632" stroke-width="3.9"/>
<line x1="486.1" y1="1412.6" x2="498.9" y2="1398.9" stroke="#ececec" stroke-width="3.9"/>
<line x1="473.3" y1="1426.5" x2="464.1" y2="1446.4" stroke="#32e632" stroke-width="3.9"/>
<line x1="464.1" y1="1446.4" x2="454.9" y2="1466.3" stroke="#ececec" stroke-width="3.9"/>
<line x1="474.1" y1="1425.6" x2="505.7" y2="1436.9" stroke="#32e632" stroke-width="10.2"/>
<line x1="504.2" y1="1437.8" x2="510.3" y2="1399.0" stroke="#32e632" stroke-width="9.5"/>
<line x1="513.7" y1="1396.0" x2="536.2" y2="1412.3" stroke="#32e632" stroke-width="3.3"/>
<line x1="509.5" y1="1401.8" x2="532.0" y2="1418.1" stroke="#32e632" stroke-width="3.3"/>
<line x1="535.0" y1="1415.4" x2="539.1" y2="1471.5" stroke="#32e632" stroke-width="9.5"/>
<line x1="541.1" y1="1472.6" x2="529.8" y2="1507.3" stroke="#32e632" stroke-width="3.3"/>
<line x1="534.2" y1="1470.4" x2="522.9" y2="1505.1" stroke="#32e632" stroke-width="3.3"/>
<line x1="527.4" y1="1505.3" x2="500.9" y2="1487.0" stroke="#2cbf2c" stroke-width="10.2"/>
<line x1="496.2" y1="1487.6" x2="501.3" y2="1437.6" stroke="#32e632" stroke-width="3.3"/>
<line x1="503.4" y1="1488.3" x2="508.5" y2="1438.3" stroke="#32e632" stroke-width="3.3"/>
<line x1="511.9" y1="1399.1" x2="509.3" y2="1378.7" stroke="#32e632" stroke-width="3.9"/>
<line x1="509.3" y1="1378.7" x2="506.8" y2="1358.3" stroke="#ececec" stroke-width="3.9"/>
<line x1="533.5" y1="1415.3" x2="539.1" y2="1401.6" stroke="#32e632" stroke-width="3.9"/>
<line x1="539.1" y1="1401.6" x2="544.7" y2="1387.8" stroke="#ececec" stroke-width="3.9"/>
<line x1="538.3" y1="1471.2" x2="544.9" y2="1475.8" stroke="#32e632" stroke-width="3.9"/>
<line x1="544.9" y1="1475.8" x2="551.5" y2="1480.4" stroke="#ececec" stroke-width="3.9"/>
<line x1="527.2" y1="1506.3" x2="528.2" y2="1528.2" stroke="#32e632" stroke-width="3.9"/>
<line x1="528.2" y1="1528.2" x2="529.3" y2="1550.2" stroke="#ececec" stroke-width="3.9"/>
<line x1="499.8" y1="1487.8" x2="491.6" y2="1504.6" stroke="#32e632" stroke-width="3.9"/>
<line x1="491.6" y1="1504.6" x2="483.5" y2="1521.4" stroke="#ececec" stroke-width="3.9"/>
<line x1="111.6" y1="1337.6" x2="167.3" y2="1341.1" stroke="#9cff9c" stroke-width="2.7" opacity="0.5"/>
<line x1="171.5" y1="1343.1" x2="173.3" y2="1384.9" stroke="#9cff9c" stroke-width="0.9" opacity="0.5"/>
<line x1="164.3" y1="1343.4" x2="166.1" y2="1385.2" stroke="#9cff9c" stroke-width="0.9" opacity="0.5"/>
<line x1="167.7" y1="1383.6" x2="125.9" y2="1421.9" stroke="#9cff9c" stroke-width="2.4" opacity="0.5"/>
<line x1="127.4" y1="1426.3" x2="83.8" y2="1429.8" stroke="#9cff9c" stroke-width="0.9" opacity="0.5"/>
<line x1="126.9" y1="1419.1" x2="83.3" y2="1422.6" stroke="#9cff9c" stroke-width="0.9" opacity="0.5"/>
<line x1="86.3" y1="1426.4" x2="77.6" y2="1381.1" stroke="#9cff9c" stroke-width="3.2" opacity="0.5"/>
<line x1="71.6" y1="1378.8" x2="108.2" y2="1337.0" stroke="#9cff9c" stroke-width="0.9" opacity="0.5"/>
<line x1="77.1" y1="1383.5" x2="113.7" y2="1341.7" stroke="#9cff9c" stroke-width="0.9" opacity="0.5"/>
<line x1="112.3" y1="1339.6" x2="108.0" y2="1321.3" stroke="#9cff9c" stroke-width="1.0" opacity="0.5"/>
<line x1="108.0" y1="1321.3" x2="103.6" y2="1303.0" stroke="#ffffff" stroke-width="1.0" opacity="0.5"/>
<line x1="166.6" y1="1342.7" x2="180.5" y2="1327.1" stroke="#9cff9c" stroke-width="1.0" opacity="0.5"/>
<line x1="180.5" y1="1327.1" x2="194.5" y2="1311.4" stroke="#ffffff" stroke-width="1.0" opacity="0.5"/>
<line x1="74.9" y1="1380.7" x2="55.8" y2="1380.4" stroke="#9cff9c" stroke-width="1.0" opacity="0.5"/>
<line x1="55.8" y1="1380.4" x2="36.6" y2="1380.1" stroke="#ffffff" stroke-width="1.0" opacity="0.5"/>
<line x1="83.0" y1="1426.3" x2="68.2" y2="1441.6" stroke="#9cff9c" stroke-width="1.0" opacity="0.5"/>
<line x1="68.2" y1="1441.6" x2="53.4" y2="1457.0" stroke="#ffffff" stroke-width="1.0" opacity="0.5"/>
<line x1="128.1" y1="1423.3" x2="129.3" y2="1437.6" stroke="#9cff9c" stroke-width="1.0" opacity="0.5"/>
<line x1="129.3" y1="1437.6" x2="130.5" y2="1451.9" stroke="#ffffff" stroke-width="1.0" opacity="0.5"/>
<line x1="169.4" y1="1383.2" x2="216.4" y2="1393.7" stroke="#9cff9c" stroke-width="2.4" opacity="0.5"/>
<line x1="216.8" y1="1395.3" x2="222.9" y2="1414.5" stroke="#9cff9c" stroke-width="1.0" opacity="0.5"/>
<line x1="222.9" y1="1414.5" x2="229.0" y2="1433.7" stroke="#ffffff" stroke-width="1.0" opacity="0.5"/>
<line x1="214.8" y1="1393.8" x2="267.1" y2="1357.2" stroke="#9cff9c" stroke-width="2.6" opacity="0.5"/>
<line x1="265.6" y1="1359.9" x2="249.9" y2="1311.1" stroke="#9cff9c" stroke-width="0.9" opacity="0.5"/>
<line x1="272.4" y1="1357.7" x2="256.7" y2="1308.9" stroke="#9cff9c" stroke-width="0.9" opacity="0.5"/>
<line x1="251.1" y1="1308.5" x2="296.4" y2="1270.2" stroke="#9cff9c" stroke-width="2.7" opacity="0.5"/>
<line x1="299.6" y1="1267.9" x2="348.4" y2="1288.8" stroke="#9cff9c" stroke-width="0.9" opacity="0.5"/>
<line x1="296.8" y1="1274.5" x2="345.6" y2="1295.4" stroke="#9cff9c" stroke-width="0.9" opacity="0.5"/>
<line x1="348.7" y1="1292.6" x2="355.7" y2="1357.8" stroke="#9cff9c" stroke-width="2.4" opacity="0.5"/>
<line x1="354.3" y1="1360.8" x2="307.2" y2="1370.5" stroke="#9cff9c" stroke-width="0.9" opacity="0.5"/>
<line x1="352.8" y1="1353.8" x2="305.7" y2="1363.5" stroke="#9cff9c" stroke-width="0.9" opacity="0.5"/>
<line x1="307.0" y1="1365.8" x2="268.7" y2="1357.1" stroke="#9cff9c" stroke-width="2.4" opacity="0.5"/>
<line x1="252.8" y1="1309.4" x2="233.7" y2="1304.2" stroke="#9cff9c" stroke-width="1.0" opacity="0.5"/>
<line x1="233.7" y1="1304.2" x2="214.5" y2="1299.0" stroke="#ffffff" stroke-width="1.0" opacity="0.5"/>
<line x1="298.8" y1="1271.8" x2="297.6" y2="1251.8" stroke="#9cff9c" stroke-width="1.0" opacity="0.5"/>
<line x1="297.6" y1="1251.8" x2="296.4" y2="1231.7" stroke="#ffffff" stroke-width="1.0" opacity="0.5"/>
<line x1="346.2" y1="1292.1" x2="362.8" y2="1280.7" stroke="#9cff9c" stroke-width="1.0" opacity="0.5"/>
<line x1="362.8" y1="1280.7" x2="379.3" y2="1269.4" stroke="#ffffff" stroke-width="1.0" opacity="0.5"/>
<line x1="305.8" y1="1367.5" x2="300.9" y2="1385.2" stroke="#9cff9c" stroke-width="1.0" opacity="0.5"/>
<line x1="300.9" y1="1385.2" x2="296.1" y2="1403.0" stroke="#ffffff" stroke-width="1.0" opacity="0.5"/>
<line x1="355.0" y1="1356.5" x2="390.4" y2="1385.4" stroke="#9cff9c" stroke-width="2.4" opacity="0.5"/>
<line x1="388.3" y1="1386.7" x2="383.6" y2="1406.5" stroke="#9cff9c" stroke-width="1.0" opacity="0.5"/>
<line x1="383.6" y1="1406.5" x2="378.9" y2="1426.4" stroke="#ffffff" stroke-width="1.0" opacity="0.5"/>
<line x1="389.8" y1="1385.0" x2="401.8" y2="1389.2" stroke="#9cff9c" stroke-width="2.4" opacity="0.5"/>
<line x1="401.8" y1="1389.2" x2="413.9" y2="1393.4" stroke="#98a0ff" stroke-width="2.4" opacity="0.5"/>
<line x1="399.1" y1="1376.1" x2="376.6" y2="1380.8" stroke="#6fe06f" stroke-width="0.9" opacity="0.5"/>
<line x1="376.6" y1="1380.8" x2="354.2" y2="1385.5" stroke="#ffb0b0" stroke-width="0.9" opacity="0.5"/>
<line x1="397.6" y1="1369.1" x2="375.2" y2="1373.8" stroke="#6fe06f" stroke-width="0.9" opacity="0.5"/>
<line x1="375.2" y1="1373.8" x2="352.7" y2="1378.5" stroke="#ffb0b0" stroke-width="0.9" opacity="0.5"/>
<line x1="397.3" y1="1371.7" x2="417.2" y2="1356.6" stroke="#6fe06f" stroke-width="2.4" opacity="0.5"/>
<line x1="417.2" y1="1356.6" x2="437.1" y2="1341.4" stroke="#98a0ff" stroke-width="2.4" opacity="0.5"/>
<line x1="438.1" y1="1338.7" x2="465.8" y2="1337.1" stroke="#98a0ff" stroke-width="0.9" opacity="0.5"/>
<line x1="465.8" y1="1337.1" x2="493.5" y2="1335.6" stroke="#ffb0b0" stroke-width="0.9" opacity="0.5"/>
<line x1="438.5" y1="1345.9" x2="466.2" y2="1344.3" stroke="#98a0ff" stroke-width="0.9" opacity="0.5"/>
<line x1="466.2" y1="1344.3" x2="493.9" y2="1342.8" stroke="#ffb0b0" stroke-width="0.9" opacity="0.5"/>
<line x1="400.0" y1="1372.0" x2="412.6" y2="1385.6" stroke="#6fe06f" stroke-width="2.4" opacity="0.5"/>
<line x1="414.1" y1="1393.6" x2="444.3" y2="1409.3" stroke="#98a0ff" stroke-width="2.3" opacity="0.5"/>
<line x1="444.3" y1="1409.3" x2="474.6" y2="1425.0" stroke="#9cff9c" stroke-width="2.3" opacity="0.5"/>
<line x1="473.1" y1="1426.1" x2="485.8" y2="1412.4" stroke="#9cff9c" stroke-width="1.0" opacity="0.5"/>
<line x1="485.8" y1="1412.4" x2="498.6" y2="1398.6" stroke="#ffffff" stroke-width="1.0" opacity="0.5"/>
<line x1="472.9" y1="1426.3" x2="463.7" y2="1446.2" stroke="#9cff9c" stroke-width="1.0" opacity="0.5"/>
<line x1="463.7" y1="1446.2" x2="454.5" y2="1466.1" stroke="#ffffff" stroke-width="1.0" opacity="0.5"/>
<line x1="474.5" y1="1424.6" x2="506.1" y2="1435.9" stroke="#9cff9c" stroke-width="2.7" opacity="0.5"/>
<line x1="503.2" y1="1437.7" x2="509.3" y2="1398.9" stroke="#9cff9c" stroke-width="2.5" opacity="0.5"/>
<line x1="513.9" y1="1395.7" x2="536.4" y2="1412.0" stroke="#9cff9c" stroke-width="0.9" opacity="0.5"/>
<line x1="509.7" y1="1401.5" x2="532.2" y2="1417.8" stroke="#9cff9c" stroke-width="0.9" opacity="0.5"/>
<line x1="536.0" y1="1415.3" x2="540.1" y2="1471.4" stroke="#9cff9c" stroke-width="2.5" opacity="0.5"/>
<line x1="540.7" y1="1472.5" x2="529.4" y2="1507.2" stroke="#9cff9c" stroke-width="0.9" opacity="0.5"/>
<line x1="533.9" y1="1470.3" x2="522.6" y2="1505.0" stroke="#9cff9c" stroke-width="0.9" opacity="0.5"/>
<line x1="528.0" y1="1504.4" x2="501.5" y2="1486.1" stroke="#6fe06f" stroke-width="2.7" opacity="0.5"/>
<line x1="495.9" y1="1487.6" x2="501.0" y2="1437.6" stroke="#9cff9c" stroke-width="0.9" opacity="0.5"/>
<line x1="503.1" y1="1488.3" x2="508.2" y2="1438.3" stroke="#9cff9c" stroke-width="0.9" opacity="0.5"/>
<line x1="512.3" y1="1399.1" x2="509.7" y2="1378.7" stroke="#9cff9c" stroke-width="1.0" opacity="0.5"/>
<line x1="509.7" y1="1378.7" x2="507.2" y2="1358.3" stroke="#ffffff" stroke-width="1.0" opacity="0.5"/>
<line x1="533.1" y1="1415.2" x2="538.7" y2="1401.4" stroke="#9cff9c" stroke-width="1.0" opacity="0.5"/>
<line x1="538.7" y1="1401.4" x2="544.3" y2="1387.7" stroke="#ffffff" stroke-width="1.0" opacity="0.5"/>
<line x1="538.5" y1="1470.9" x2="545.1" y2="1475.5" stroke="#9cff9c" stroke-width="1.0" opacity="0.5"/>
<line x1="545.1" y1="1475.5" x2="551.7" y2="1480.1" stroke="#ffffff" stroke-width="1.0" opacity="0.5"/>
<line x1="527.6" y1="1506.3" x2="528.6" y2="1528.2" stroke="#9cff9c" stroke-width="1.0" opacity="0.5"/>
<line x1="528.6" y1="1528.2" x2="529.7" y2="1550.2" stroke="#ffffff" stroke-width="1.0" opacity="0.5"/>
<line x1="499.4" y1="1487.6" x2="491.3" y2="1504.4" stroke="#9cff9c" stroke-width="1.0" opacity="0.5"/>
<line x1="491.3" y1="1504.4" x2="483.1" y2="1521.2" stroke="#ffffff" stroke-width="1.0" opacity="0.5"/></g><text transform="translate(421.4,1321.7) scale(1,1.035)" font-size="38" fill="#c00000">C4</text><line x1="419.9" y1="1310.2" x2="370.7" y2="1347.8" stroke="#c00000" stroke-width="3.2"/><polygon points="360.6,1355.5 370.2,1340.0 370.7,1347.8 378.1,1350.3" fill="#c00000"/><text transform="translate(238.5,1472.2) scale(1,1.035)" font-size="38" fill="#c00000">C2</text><line x1="263.8" y1="1446.0" x2="269.0" y2="1378.7" stroke="#c00000" stroke-width="3.2"/><polygon points="270.0,1366.0 275.2,1383.5 269.0,1378.7 262.2,1382.4" fill="#c00000"/><text transform="translate(302.3,1470.5) scale(1,1.035)" font-size="38" fill="#c00000">C3</text><line x1="320.6" y1="1432.9" x2="309.5" y2="1385.4" stroke="#c00000" stroke-width="3.2"/><polygon points="306.6,1373.0 316.8,1388.1 309.5,1385.4 304.1,1391.0" fill="#c00000"/><g stroke-linecap="round" fill="none"><line x1="64.5" y1="1814.7" x2="86.2" y2="1810.3" stroke="#141a80" stroke-width="13.5"/>
<line x1="86.2" y1="1810.3" x2="108.0" y2="1806.0" stroke="#137e13" stroke-width="13.5"/>
<line x1="108.0" y1="1806.0" x2="131.5" y2="1813.0" stroke="#137e13" stroke-width="13.5"/>
<line x1="131.5" y1="1813.0" x2="155.0" y2="1819.9" stroke="#141a80" stroke-width="13.5"/>
<line x1="155.0" y1="1819.9" x2="156.8" y2="1829.5" stroke="#141a80" stroke-width="13.5"/>
<line x1="156.8" y1="1829.5" x2="158.5" y2="1839.0" stroke="#137e13" stroke-width="13.5"/>
<line x1="158.5" y1="1839.0" x2="111.5" y2="1853.0" stroke="#137e13" stroke-width="13.5"/>
<line x1="111.5" y1="1853.0" x2="61.0" y2="1835.6" stroke="#137e13" stroke-width="13.5"/>
<line x1="61.0" y1="1835.6" x2="62.8" y2="1825.2" stroke="#137e13" stroke-width="13.5"/>
<line x1="62.8" y1="1825.2" x2="64.5" y2="1814.7" stroke="#141a80" stroke-width="13.5"/>
<line x1="108.0" y1="1806.0" x2="108.0" y2="1779.0" stroke="#137e13" stroke-width="5.8"/>
<line x1="108.0" y1="1779.0" x2="108.0" y2="1752.0" stroke="#858585" stroke-width="5.8"/>
<line x1="108.0" y1="1806.0" x2="109.8" y2="1787.7" stroke="#137e13" stroke-width="5.8"/>
<line x1="109.8" y1="1787.7" x2="111.5" y2="1769.4" stroke="#858585" stroke-width="5.8"/>
<line x1="108.0" y1="1806.0" x2="90.6" y2="1804.2" stroke="#137e13" stroke-width="5.8"/>
<line x1="90.6" y1="1804.2" x2="73.2" y2="1802.5" stroke="#858585" stroke-width="5.8"/>
<line x1="108.0" y1="1806.0" x2="122.0" y2="1805.1" stroke="#137e13" stroke-width="5.8"/>
<line x1="122.0" y1="1805.1" x2="135.9" y2="1804.2" stroke="#858585" stroke-width="5.8"/>
<line x1="111.5" y1="1853.0" x2="110.7" y2="1872.2" stroke="#137e13" stroke-width="5.8"/>
<line x1="110.7" y1="1872.2" x2="109.8" y2="1891.3" stroke="#858585" stroke-width="5.8"/>
<line x1="111.5" y1="1853.0" x2="112.3" y2="1841.7" stroke="#137e13" stroke-width="5.8"/>
<line x1="112.3" y1="1841.7" x2="113.2" y2="1830.3" stroke="#858585" stroke-width="5.8"/>
<line x1="61.0" y1="1835.6" x2="44.5" y2="1839.0" stroke="#137e13" stroke-width="5.8"/>
<line x1="44.5" y1="1839.0" x2="27.9" y2="1842.5" stroke="#858585" stroke-width="5.8"/>
<line x1="158.5" y1="1839.0" x2="207.3" y2="1854.7" stroke="#137e13" stroke-width="13.5"/>
<line x1="207.3" y1="1854.7" x2="219.5" y2="1832.1" stroke="#137e13" stroke-width="13.5"/>
<line x1="219.5" y1="1832.1" x2="231.7" y2="1809.4" stroke="#9a2626" stroke-width="13.5"/>
<line x1="231.7" y1="1809.4" x2="284.0" y2="1806.0" stroke="#9a2626" stroke-width="13.5"/>
<line x1="284.0" y1="1806.0" x2="297.9" y2="1830.3" stroke="#9a2626" stroke-width="13.5"/>
<line x1="297.9" y1="1830.3" x2="311.8" y2="1854.7" stroke="#137e13" stroke-width="13.5"/>
<line x1="311.8" y1="1854.7" x2="278.7" y2="1900.0" stroke="#137e13" stroke-width="14.5"/>
<line x1="278.7" y1="1900.0" x2="224.7" y2="1900.0" stroke="#137e13" stroke-width="13.5"/>
<line x1="221.3" y1="1901.3" x2="203.9" y2="1856.0" stroke="#137e13" stroke-width="4.8"/>
<line x1="228.1" y1="1898.7" x2="210.7" y2="1853.4" stroke="#137e13" stroke-width="4.8"/>
<line x1="224.7" y1="1900.0" x2="216.0" y2="1918.3" stroke="#137e13" stroke-width="5.8"/>
<line x1="216.0" y1="1918.3" x2="207.3" y2="1936.6" stroke="#858585" stroke-width="5.8"/>
<line x1="278.7" y1="1900.0" x2="296.1" y2="1920.0" stroke="#137e13" stroke-width="13.5"/>
<line x1="296.1" y1="1920.0" x2="313.6" y2="1940.1" stroke="#9a2626" stroke-width="13.5"/>
<line x1="313.6" y1="1940.1" x2="301.4" y2="1948.8" stroke="#9a2626" stroke-width="5.8"/>
<line x1="301.4" y1="1948.8" x2="289.2" y2="1957.5" stroke="#858585" stroke-width="5.8"/>
<line x1="311.8" y1="1854.7" x2="365.9" y2="1849.5" stroke="#137e13" stroke-width="13.5"/>
<line x1="365.9" y1="1849.5" x2="378.0" y2="1872.2" stroke="#137e13" stroke-width="13.5"/>
<line x1="378.0" y1="1872.2" x2="390.2" y2="1894.8" stroke="#9a2626" stroke-width="13.5"/>
<line x1="390.2" y1="1894.8" x2="377.1" y2="1909.6" stroke="#9a2626" stroke-width="5.8"/>
<line x1="377.1" y1="1909.6" x2="364.1" y2="1924.4" stroke="#858585" stroke-width="5.8"/>
<line x1="365.9" y1="1849.5" x2="381.5" y2="1848.7" stroke="#137e13" stroke-width="5.8"/>
<line x1="381.5" y1="1848.7" x2="397.2" y2="1847.8" stroke="#858585" stroke-width="5.8"/>
<line x1="365.9" y1="1849.5" x2="386.8" y2="1799.0" stroke="#137e13" stroke-width="13.5"/>
<line x1="386.8" y1="1799.0" x2="372.9" y2="1792.9" stroke="#137e13" stroke-width="5.8"/>
<line x1="372.9" y1="1792.9" x2="358.9" y2="1786.8" stroke="#858585" stroke-width="5.8"/>
<line x1="386.8" y1="1799.0" x2="390.2" y2="1787.7" stroke="#137e13" stroke-width="5.8"/>
<line x1="390.2" y1="1787.7" x2="393.7" y2="1776.3" stroke="#858585" stroke-width="5.8"/>
<line x1="386.8" y1="1799.0" x2="439.0" y2="1799.0" stroke="#137e13" stroke-width="13.5"/>
<line x1="439.0" y1="1799.0" x2="437.2" y2="1783.3" stroke="#137e13" stroke-width="5.8"/>
<line x1="437.2" y1="1783.3" x2="435.5" y2="1767.6" stroke="#858585" stroke-width="5.8"/>
<line x1="439.0" y1="1799.0" x2="449.4" y2="1786.0" stroke="#137e13" stroke-width="13.5"/>
<line x1="449.4" y1="1786.0" x2="459.9" y2="1772.9" stroke="#141a80" stroke-width="13.5"/>
<line x1="459.9" y1="1772.9" x2="457.3" y2="1752.0" stroke="#141a80" stroke-width="5.8"/>
<line x1="457.3" y1="1752.0" x2="454.7" y2="1731.0" stroke="#858585" stroke-width="5.8"/>
<line x1="459.9" y1="1772.9" x2="476.4" y2="1785.1" stroke="#141a80" stroke-width="13.5"/>
<line x1="476.4" y1="1785.1" x2="493.0" y2="1797.2" stroke="#137e13" stroke-width="13.5"/>
<line x1="439.0" y1="1799.0" x2="465.2" y2="1846.0" stroke="#137e13" stroke-width="13.5"/>
<line x1="465.2" y1="1846.0" x2="452.1" y2="1862.5" stroke="#137e13" stroke-width="5.8"/>
<line x1="452.1" y1="1862.5" x2="439.0" y2="1879.1" stroke="#858585" stroke-width="5.8"/>
<line x1="465.2" y1="1846.0" x2="494.8" y2="1849.5" stroke="#137e13" stroke-width="13.5"/>
<line x1="493.0" y1="1797.2" x2="494.8" y2="1849.5" stroke="#137e13" stroke-width="13.5"/>
<line x1="491.8" y1="1793.8" x2="501.4" y2="1790.4" stroke="#137e13" stroke-width="4.8"/>
<line x1="501.4" y1="1790.4" x2="511.0" y2="1786.9" stroke="#141a80" stroke-width="4.8"/>
<line x1="494.2" y1="1800.6" x2="503.8" y2="1797.1" stroke="#137e13" stroke-width="4.8"/>
<line x1="503.8" y1="1797.1" x2="513.4" y2="1793.7" stroke="#141a80" stroke-width="4.8"/>
<line x1="512.2" y1="1790.3" x2="526.2" y2="1807.7" stroke="#141a80" stroke-width="13.5"/>
<line x1="526.2" y1="1807.7" x2="540.1" y2="1825.1" stroke="#137e13" stroke-width="13.5"/>
<line x1="540.1" y1="1825.1" x2="545.3" y2="1823.0" stroke="#137e13" stroke-width="5.8"/>
<line x1="545.3" y1="1823.0" x2="550.5" y2="1821.0" stroke="#858585" stroke-width="5.8"/>
<line x1="543.7" y1="1825.1" x2="543.7" y2="1849.5" stroke="#137e13" stroke-width="4.8"/>
<line x1="543.7" y1="1849.5" x2="543.7" y2="1873.9" stroke="#141a80" stroke-width="4.8"/>
<line x1="536.5" y1="1825.1" x2="536.5" y2="1849.5" stroke="#137e13" stroke-width="4.8"/>
<line x1="536.5" y1="1849.5" x2="536.5" y2="1873.9" stroke="#141a80" stroke-width="4.8"/>
<line x1="540.1" y1="1873.9" x2="531.4" y2="1880.0" stroke="#141a80" stroke-width="13.5"/>
<line x1="531.4" y1="1880.0" x2="522.6" y2="1886.1" stroke="#137e13" stroke-width="13.5"/>
<line x1="522.6" y1="1886.1" x2="524.4" y2="1904.4" stroke="#137e13" stroke-width="5.8"/>
<line x1="524.4" y1="1904.4" x2="526.1" y2="1922.7" stroke="#858585" stroke-width="5.8"/>
<line x1="519.7" y1="1888.3" x2="491.9" y2="1851.7" stroke="#137e13" stroke-width="4.8"/>
<line x1="525.5" y1="1883.9" x2="497.7" y2="1847.3" stroke="#137e13" stroke-width="4.8"/>
<line x1="64.6" y1="1815.0" x2="86.3" y2="1810.6" stroke="#2530c8" stroke-width="12.2"/>
<line x1="86.3" y1="1810.6" x2="108.1" y2="1806.3" stroke="#27c027" stroke-width="12.2"/>
<line x1="107.9" y1="1806.3" x2="131.4" y2="1813.2" stroke="#27c027" stroke-width="12.2"/>
<line x1="131.4" y1="1813.2" x2="154.9" y2="1820.2" stroke="#2530c8" stroke-width="12.2"/>
<line x1="154.7" y1="1819.9" x2="156.5" y2="1829.5" stroke="#2530c8" stroke-width="12.2"/>
<line x1="156.5" y1="1829.5" x2="158.2" y2="1839.0" stroke="#27c027" stroke-width="12.2"/>
<line x1="158.6" y1="1839.3" x2="111.6" y2="1853.3" stroke="#27c027" stroke-width="12.2"/>
<line x1="111.4" y1="1853.3" x2="60.9" y2="1835.9" stroke="#27c027" stroke-width="12.2"/>
<line x1="61.3" y1="1835.6" x2="63.0" y2="1825.2" stroke="#27c027" stroke-width="12.2"/>
<line x1="63.0" y1="1825.2" x2="64.8" y2="1814.7" stroke="#2530c8" stroke-width="12.2"/>
<line x1="108.1" y1="1806.0" x2="108.1" y2="1779.0" stroke="#27c027" stroke-width="5.2"/>
<line x1="108.1" y1="1779.0" x2="108.1" y2="1752.0" stroke="#cfcfcf" stroke-width="5.2"/>
<line x1="108.1" y1="1806.0" x2="109.9" y2="1787.7" stroke="#27c027" stroke-width="5.2"/>
<line x1="109.9" y1="1787.7" x2="111.6" y2="1769.4" stroke="#cfcfcf" stroke-width="5.2"/>
<line x1="108.0" y1="1806.1" x2="90.6" y2="1804.4" stroke="#27c027" stroke-width="5.2"/>
<line x1="90.6" y1="1804.4" x2="73.2" y2="1802.6" stroke="#cfcfcf" stroke-width="5.2"/>
<line x1="108.0" y1="1806.1" x2="122.0" y2="1805.2" stroke="#27c027" stroke-width="5.2"/>
<line x1="122.0" y1="1805.2" x2="135.9" y2="1804.3" stroke="#cfcfcf" stroke-width="5.2"/>
<line x1="111.6" y1="1853.0" x2="110.8" y2="1872.2" stroke="#27c027" stroke-width="5.2"/>
<line x1="110.8" y1="1872.2" x2="109.9" y2="1891.3" stroke="#cfcfcf" stroke-width="5.2"/>
<line x1="111.6" y1="1853.0" x2="112.5" y2="1841.7" stroke="#27c027" stroke-width="5.2"/>
<line x1="112.5" y1="1841.7" x2="113.3" y2="1830.3" stroke="#cfcfcf" stroke-width="5.2"/>
<line x1="61.0" y1="1835.7" x2="44.5" y2="1839.2" stroke="#27c027" stroke-width="5.2"/>
<line x1="44.5" y1="1839.2" x2="27.9" y2="1842.6" stroke="#cfcfcf" stroke-width="5.2"/>
<line x1="158.4" y1="1839.3" x2="207.2" y2="1855.0" stroke="#27c027" stroke-width="12.2"/>
<line x1="207.5" y1="1854.8" x2="219.7" y2="1832.2" stroke="#27c027" stroke-width="12.2"/>
<line x1="219.7" y1="1832.2" x2="231.9" y2="1809.5" stroke="#d04444" stroke-width="12.2"/>
<line x1="231.7" y1="1809.7" x2="284.0" y2="1806.3" stroke="#d04444" stroke-width="12.2"/>
<line x1="283.8" y1="1806.1" x2="297.7" y2="1830.5" stroke="#d04444" stroke-width="12.2"/>
<line x1="297.7" y1="1830.5" x2="311.6" y2="1854.8" stroke="#27c027" stroke-width="12.2"/>
<line x1="312.0" y1="1854.9" x2="278.9" y2="1900.2" stroke="#27c027" stroke-width="13.1"/>
<line x1="278.7" y1="1900.3" x2="224.7" y2="1900.3" stroke="#27c027" stroke-width="12.2"/>
<line x1="221.2" y1="1901.3" x2="203.8" y2="1856.0" stroke="#27c027" stroke-width="4.3"/>
<line x1="228.0" y1="1898.7" x2="210.6" y2="1853.4" stroke="#27c027" stroke-width="4.3"/>
<line x1="224.8" y1="1900.0" x2="216.1" y2="1918.3" stroke="#27c027" stroke-width="5.2"/>
<line x1="216.1" y1="1918.3" x2="207.4" y2="1936.6" stroke="#cfcfcf" stroke-width="5.2"/>
<line x1="278.5" y1="1900.2" x2="295.9" y2="1920.2" stroke="#27c027" stroke-width="12.2"/>
<line x1="295.9" y1="1920.2" x2="313.4" y2="1940.3" stroke="#d04444" stroke-width="12.2"/>
<line x1="313.7" y1="1940.2" x2="301.5" y2="1948.9" stroke="#d04444" stroke-width="5.2"/>
<line x1="301.5" y1="1948.9" x2="289.3" y2="1957.6" stroke="#cfcfcf" stroke-width="5.2"/>
<line x1="311.8" y1="1855.0" x2="365.9" y2="1849.8" stroke="#27c027" stroke-width="12.2"/>
<line x1="365.7" y1="1849.6" x2="377.8" y2="1872.3" stroke="#27c027" stroke-width="12.2"/>
<line x1="377.8" y1="1872.3" x2="390.0" y2="1894.9" stroke="#d04444" stroke-width="12.2"/>
<line x1="390.3" y1="1894.9" x2="377.2" y2="1909.7" stroke="#d04444" stroke-width="5.2"/>
<line x1="377.2" y1="1909.7" x2="364.2" y2="1924.5" stroke="#cfcfcf" stroke-width="5.2"/>
<line x1="365.9" y1="1849.6" x2="381.6" y2="1848.8" stroke="#27c027" stroke-width="5.2"/>
<line x1="381.6" y1="1848.8" x2="397.2" y2="1847.9" stroke="#cfcfcf" stroke-width="5.2"/>
<line x1="366.1" y1="1849.6" x2="387.0" y2="1799.1" stroke="#27c027" stroke-width="12.2"/>
<line x1="386.8" y1="1799.1" x2="372.8" y2="1793.0" stroke="#27c027" stroke-width="5.2"/>
<line x1="372.8" y1="1793.0" x2="358.9" y2="1786.9" stroke="#cfcfcf" stroke-width="5.2"/>
<line x1="386.9" y1="1799.0" x2="390.4" y2="1787.7" stroke="#27c027" stroke-width="5.2"/>
<line x1="390.4" y1="1787.7" x2="393.8" y2="1776.3" stroke="#cfcfcf" stroke-width="5.2"/>
<line x1="386.8" y1="1799.3" x2="439.0" y2="1799.3" stroke="#27c027" stroke-width="12.2"/>
<line x1="438.9" y1="1799.0" x2="437.1" y2="1783.3" stroke="#27c027" stroke-width="5.2"/>
<line x1="437.1" y1="1783.3" x2="435.4" y2="1767.6" stroke="#cfcfcf" stroke-width="5.2"/>
<line x1="439.2" y1="1799.2" x2="449.7" y2="1786.1" stroke="#27c027" stroke-width="12.2"/>
<line x1="449.7" y1="1786.1" x2="460.1" y2="1773.1" stroke="#2530c8" stroke-width="12.2"/>
<line x1="459.8" y1="1772.9" x2="457.2" y2="1752.0" stroke="#2530c8" stroke-width="5.2"/>
<line x1="457.2" y1="1752.0" x2="454.6" y2="1731.0" stroke="#cfcfcf" stroke-width="5.2"/>
<line x1="459.7" y1="1773.1" x2="476.3" y2="1785.3" stroke="#2530c8" stroke-width="12.2"/>
<line x1="476.3" y1="1785.3" x2="492.8" y2="1797.4" stroke="#27c027" stroke-width="12.2"/>
<line x1="438.8" y1="1799.1" x2="465.0" y2="1846.1" stroke="#27c027" stroke-width="12.2"/>
<line x1="465.3" y1="1846.1" x2="452.2" y2="1862.6" stroke="#27c027" stroke-width="5.2"/>
<line x1="452.2" y1="1862.6" x2="439.1" y2="1879.2" stroke="#cfcfcf" stroke-width="5.2"/>
<line x1="465.2" y1="1846.3" x2="494.8" y2="1849.8" stroke="#27c027" stroke-width="12.2"/>
<line x1="492.7" y1="1797.2" x2="494.5" y2="1849.5" stroke="#27c027" stroke-width="12.2"/>
<line x1="491.8" y1="1793.9" x2="501.4" y2="1790.5" stroke="#27c027" stroke-width="4.3"/>
<line x1="501.4" y1="1790.5" x2="511.0" y2="1787.0" stroke="#2530c8" stroke-width="4.3"/>
<line x1="494.2" y1="1800.7" x2="503.8" y2="1797.2" stroke="#27c027" stroke-width="4.3"/>
<line x1="503.8" y1="1797.2" x2="513.4" y2="1793.8" stroke="#2530c8" stroke-width="4.3"/>
<line x1="512.0" y1="1790.5" x2="525.9" y2="1807.9" stroke="#2530c8" stroke-width="12.2"/>
<line x1="525.9" y1="1807.9" x2="539.9" y2="1825.3" stroke="#27c027" stroke-width="12.2"/>
<line x1="540.1" y1="1825.2" x2="545.3" y2="1823.2" stroke="#27c027" stroke-width="5.2"/>
<line x1="545.3" y1="1823.2" x2="550.5" y2="1821.1" stroke="#cfcfcf" stroke-width="5.2"/>
<line x1="543.8" y1="1825.1" x2="543.8" y2="1849.5" stroke="#27c027" stroke-width="4.3"/>
<line x1="543.8" y1="1849.5" x2="543.8" y2="1873.9" stroke="#2530c8" stroke-width="4.3"/>
<line x1="536.6" y1="1825.1" x2="536.6" y2="1849.5" stroke="#27c027" stroke-width="4.3"/>
<line x1="536.6" y1="1849.5" x2="536.6" y2="1873.9" stroke="#2530c8" stroke-width="4.3"/>
<line x1="540.3" y1="1874.1" x2="531.5" y2="1880.2" stroke="#2530c8" stroke-width="12.2"/>
<line x1="531.5" y1="1880.2" x2="522.8" y2="1886.3" stroke="#27c027" stroke-width="12.2"/>
<line x1="522.5" y1="1886.1" x2="524.2" y2="1904.4" stroke="#27c027" stroke-width="5.2"/>
<line x1="524.2" y1="1904.4" x2="526.0" y2="1922.7" stroke="#cfcfcf" stroke-width="5.2"/>
<line x1="519.7" y1="1888.3" x2="491.9" y2="1851.7" stroke="#27c027" stroke-width="4.3"/>
<line x1="525.4" y1="1884.0" x2="497.6" y2="1847.4" stroke="#27c027" stroke-width="4.3"/>
<line x1="64.3" y1="1813.6" x2="86.0" y2="1809.3" stroke="#3040ee" stroke-width="9.2"/>
<line x1="86.0" y1="1809.3" x2="107.8" y2="1804.9" stroke="#32e632" stroke-width="9.2"/>
<line x1="108.3" y1="1805.0" x2="131.8" y2="1811.9" stroke="#32e632" stroke-width="9.2"/>
<line x1="131.8" y1="1811.9" x2="155.3" y2="1818.9" stroke="#3040ee" stroke-width="9.2"/>
<line x1="156.1" y1="1819.7" x2="157.8" y2="1829.3" stroke="#3040ee" stroke-width="9.2"/>
<line x1="157.8" y1="1829.3" x2="159.6" y2="1838.8" stroke="#32e632" stroke-width="9.2"/>
<line x1="158.2" y1="1838.0" x2="111.2" y2="1852.0" stroke="#32e632" stroke-width="9.2"/>
<line x1="111.9" y1="1852.0" x2="61.4" y2="1834.6" stroke="#32e632" stroke-width="9.2"/>
<line x1="59.9" y1="1835.4" x2="61.7" y2="1825.0" stroke="#32e632" stroke-width="9.2"/>
<line x1="61.7" y1="1825.0" x2="63.4" y2="1814.5" stroke="#3040ee" stroke-width="9.2"/>
<line x1="107.5" y1="1806.0" x2="107.5" y2="1779.0" stroke="#32e632" stroke-width="3.9"/>
<line x1="107.5" y1="1779.0" x2="107.5" y2="1752.0" stroke="#ececec" stroke-width="3.9"/>
<line x1="107.5" y1="1806.0" x2="109.3" y2="1787.7" stroke="#32e632" stroke-width="3.9"/>
<line x1="109.3" y1="1787.7" x2="111.0" y2="1769.4" stroke="#ececec" stroke-width="3.9"/>
<line x1="108.0" y1="1805.5" x2="90.6" y2="1803.8" stroke="#32e632" stroke-width="3.9"/>
<line x1="90.6" y1="1803.8" x2="73.2" y2="1802.0" stroke="#ececec" stroke-width="3.9"/>
<line x1="108.0" y1="1805.5" x2="121.9" y2="1804.6" stroke="#32e632" stroke-width="3.9"/>
<line x1="121.9" y1="1804.6" x2="135.9" y2="1803.7" stroke="#ececec" stroke-width="3.9"/>
<line x1="111.0" y1="1853.0" x2="110.2" y2="1872.1" stroke="#32e632" stroke-width="3.9"/>
<line x1="110.2" y1="1872.1" x2="109.3" y2="1891.3" stroke="#ececec" stroke-width="3.9"/>
<line x1="111.0" y1="1853.0" x2="111.9" y2="1841.6" stroke="#32e632" stroke-width="3.9"/>
<line x1="111.9" y1="1841.6" x2="112.7" y2="1830.3" stroke="#ececec" stroke-width="3.9"/>
<line x1="60.9" y1="1835.1" x2="44.4" y2="1838.6" stroke="#32e632" stroke-width="3.9"/>
<line x1="44.4" y1="1838.6" x2="27.8" y2="1842.0" stroke="#ececec" stroke-width="3.9"/>
<line x1="158.8" y1="1838.0" x2="207.6" y2="1853.7" stroke="#32e632" stroke-width="9.2"/>
<line x1="206.3" y1="1854.2" x2="218.5" y2="1831.5" stroke="#32e632" stroke-width="9.2"/>
<line x1="218.5" y1="1831.5" x2="230.7" y2="1808.9" stroke="#ee5a5a" stroke-width="9.2"/>
<line x1="231.6" y1="1808.3" x2="283.9" y2="1804.9" stroke="#ee5a5a" stroke-width="9.2"/>
<line x1="284.9" y1="1805.5" x2="298.8" y2="1829.8" stroke="#ee5a5a" stroke-width="9.2"/>
<line x1="298.8" y1="1829.8" x2="312.7" y2="1854.2" stroke="#32e632" stroke-width="9.2"/>
<line x1="310.9" y1="1854.0" x2="277.8" y2="1899.3" stroke="#32e632" stroke-width="9.9"/>
<line x1="278.7" y1="1898.9" x2="224.7" y2="1898.9" stroke="#32e632" stroke-width="9.2"/>
<line x1="221.7" y1="1901.2" x2="204.3" y2="1855.9" stroke="#32e632" stroke-width="3.3"/>
<line x1="228.4" y1="1898.6" x2="211.0" y2="1853.3" stroke="#32e632" stroke-width="3.3"/>
<line x1="224.3" y1="1899.8" x2="215.6" y2="1918.1" stroke="#32e632" stroke-width="3.9"/>
<line x1="215.6" y1="1918.1" x2="206.9" y2="1936.4" stroke="#ececec" stroke-width="3.9"/>
<line x1="279.5" y1="1899.3" x2="297.0" y2="1919.3" stroke="#32e632" stroke-width="9.2"/>
<line x1="297.0" y1="1919.3" x2="314.4" y2="1939.4" stroke="#ee5a5a" stroke-width="9.2"/>
<line x1="313.3" y1="1939.7" x2="301.1" y2="1948.4" stroke="#ee5a5a" stroke-width="3.9"/>
<line x1="301.1" y1="1948.4" x2="288.9" y2="1957.1" stroke="#ececec" stroke-width="3.9"/>
<line x1="311.7" y1="1853.6" x2="365.8" y2="1848.4" stroke="#32e632" stroke-width="9.2"/>
<line x1="366.9" y1="1849.0" x2="379.0" y2="1871.6" stroke="#32e632" stroke-width="9.2"/>
<line x1="379.0" y1="1871.6" x2="391.2" y2="1894.3" stroke="#ee5a5a" stroke-width="9.2"/>
<line x1="389.9" y1="1894.5" x2="376.8" y2="1909.3" stroke="#ee5a5a" stroke-width="3.9"/>
<line x1="376.8" y1="1909.3" x2="363.8" y2="1924.1" stroke="#ececec" stroke-width="3.9"/>
<line x1="365.9" y1="1849.0" x2="381.5" y2="1848.2" stroke="#32e632" stroke-width="3.9"/>
<line x1="381.5" y1="1848.2" x2="397.2" y2="1847.3" stroke="#ececec" stroke-width="3.9"/>
<line x1="364.9" y1="1849.1" x2="385.8" y2="1798.6" stroke="#32e632" stroke-width="9.2"/>
<line x1="387.0" y1="1798.6" x2="373.0" y2="1792.5" stroke="#32e632" stroke-width="3.9"/>
<line x1="373.0" y1="1792.5" x2="359.1" y2="1786.4" stroke="#ececec" stroke-width="3.9"/>
<line x1="386.4" y1="1798.9" x2="389.8" y2="1787.5" stroke="#32e632" stroke-width="3.9"/>
<line x1="389.8" y1="1787.5" x2="393.3" y2="1776.2" stroke="#ececec" stroke-width="3.9"/>
<line x1="386.8" y1="1797.9" x2="439.0" y2="1797.9" stroke="#32e632" stroke-width="9.2"/>
<line x1="439.5" y1="1798.9" x2="437.7" y2="1783.2" stroke="#32e632" stroke-width="3.9"/>
<line x1="437.7" y1="1783.2" x2="436.0" y2="1767.5" stroke="#ececec" stroke-width="3.9"/>
<line x1="438.2" y1="1798.3" x2="448.6" y2="1785.3" stroke="#32e632" stroke-width="9.2"/>
<line x1="448.6" y1="1785.3" x2="459.1" y2="1772.2" stroke="#3040ee" stroke-width="9.2"/>
<line x1="460.4" y1="1772.8" x2="457.8" y2="1751.9" stroke="#3040ee" stroke-width="3.9"/>
<line x1="457.8" y1="1751.9" x2="455.2" y2="1730.9" stroke="#ececec" stroke-width="3.9"/>
<line x1="460.5" y1="1772.0" x2="477.1" y2="1784.2" stroke="#3040ee" stroke-width="9.2"/>
<line x1="477.1" y1="1784.2" x2="493.6" y2="1796.3" stroke="#32e632" stroke-width="9.2"/>
<line x1="439.9" y1="1798.5" x2="466.1" y2="1845.5" stroke="#32e632" stroke-width="9.2"/>
<line x1="464.8" y1="1845.7" x2="451.7" y2="1862.3" stroke="#32e632" stroke-width="3.9"/>
<line x1="451.7" y1="1862.3" x2="438.6" y2="1878.8" stroke="#ececec" stroke-width="3.9"/>
<line x1="465.3" y1="1844.9" x2="494.9" y2="1848.4" stroke="#32e632" stroke-width="9.2"/>
<line x1="494.1" y1="1797.2" x2="495.9" y2="1849.5" stroke="#32e632" stroke-width="9.2"/>
<line x1="491.7" y1="1793.5" x2="501.3" y2="1790.0" stroke="#32e632" stroke-width="3.3"/>
<line x1="501.3" y1="1790.0" x2="510.9" y2="1786.6" stroke="#3040ee" stroke-width="3.3"/>
<line x1="494.1" y1="1800.2" x2="503.7" y2="1796.8" stroke="#32e632" stroke-width="3.3"/>
<line x1="503.7" y1="1796.8" x2="513.3" y2="1793.3" stroke="#3040ee" stroke-width="3.3"/>
<line x1="513.0" y1="1789.6" x2="527.0" y2="1807.0" stroke="#3040ee" stroke-width="9.2"/>
<line x1="527.0" y1="1807.0" x2="540.9" y2="1824.4" stroke="#32e632" stroke-width="9.2"/>
<line x1="539.9" y1="1824.7" x2="545.1" y2="1822.6" stroke="#32e632" stroke-width="3.9"/>
<line x1="545.1" y1="1822.6" x2="550.3" y2="1820.6" stroke="#ececec" stroke-width="3.9"/>
<line x1="543.3" y1="1825.1" x2="543.3" y2="1849.5" stroke="#32e632" stroke-width="3.3"/>
<line x1="543.3" y1="1849.5" x2="543.3" y2="1873.9" stroke="#3040ee" stroke-width="3.3"/>
<line x1="536.1" y1="1825.1" x2="536.1" y2="1849.5" stroke="#32e632" stroke-width="3.3"/>
<line x1="536.1" y1="1849.5" x2="536.1" y2="1873.9" stroke="#3040ee" stroke-width="3.3"/>
<line x1="539.5" y1="1873.0" x2="530.7" y2="1879.1" stroke="#3040ee" stroke-width="9.2"/>
<line x1="530.7" y1="1879.1" x2="522.0" y2="1885.2" stroke="#32e632" stroke-width="9.2"/>
<line x1="523.1" y1="1886.1" x2="524.8" y2="1904.4" stroke="#32e632" stroke-width="3.9"/>
<line x1="524.8" y1="1904.4" x2="526.6" y2="1922.7" stroke="#ececec" stroke-width="3.9"/>
<line x1="520.0" y1="1888.0" x2="492.2" y2="1851.4" stroke="#32e632" stroke-width="3.3"/>
<line x1="525.8" y1="1883.7" x2="498.0" y2="1847.1" stroke="#32e632" stroke-width="3.3"/>
<line x1="64.1" y1="1812.7" x2="85.9" y2="1808.4" stroke="#98a0ff" stroke-width="2.4" opacity="0.5"/>
<line x1="85.9" y1="1808.4" x2="107.6" y2="1804.0" stroke="#9cff9c" stroke-width="2.4" opacity="0.5"/>
<line x1="108.6" y1="1804.1" x2="132.1" y2="1811.0" stroke="#9cff9c" stroke-width="2.4" opacity="0.5"/>
<line x1="132.1" y1="1811.0" x2="155.6" y2="1818.0" stroke="#98a0ff" stroke-width="2.4" opacity="0.5"/>
<line x1="157.0" y1="1819.5" x2="158.7" y2="1829.1" stroke="#98a0ff" stroke-width="2.4" opacity="0.5"/>
<line x1="158.7" y1="1829.1" x2="160.5" y2="1838.6" stroke="#9cff9c" stroke-width="2.4" opacity="0.5"/>
<line x1="157.9" y1="1837.1" x2="110.9" y2="1851.1" stroke="#9cff9c" stroke-width="2.4" opacity="0.5"/>
<line x1="112.2" y1="1851.1" x2="61.7" y2="1833.7" stroke="#9cff9c" stroke-width="2.4" opacity="0.5"/>
<line x1="59.0" y1="1835.3" x2="60.8" y2="1824.8" stroke="#9cff9c" stroke-width="2.4" opacity="0.5"/>
<line x1="60.8" y1="1824.8" x2="62.5" y2="1814.4" stroke="#98a0ff" stroke-width="2.4" opacity="0.5"/>
<line x1="107.1" y1="1806.0" x2="107.1" y2="1779.0" stroke="#9cff9c" stroke-width="1.0" opacity="0.5"/>
<line x1="107.1" y1="1779.0" x2="107.1" y2="1752.0" stroke="#ffffff" stroke-width="1.0" opacity="0.5"/>
<line x1="107.1" y1="1805.9" x2="108.9" y2="1787.6" stroke="#9cff9c" stroke-width="1.0" opacity="0.5"/>
<line x1="108.9" y1="1787.6" x2="110.6" y2="1769.3" stroke="#ffffff" stroke-width="1.0" opacity="0.5"/>
<line x1="108.1" y1="1805.1" x2="90.7" y2="1803.4" stroke="#9cff9c" stroke-width="1.0" opacity="0.5"/>
<line x1="90.7" y1="1803.4" x2="73.3" y2="1801.6" stroke="#ffffff" stroke-width="1.0" opacity="0.5"/>
<line x1="107.9" y1="1805.1" x2="121.9" y2="1804.2" stroke="#9cff9c" stroke-width="1.0" opacity="0.5"/>
<line x1="121.9" y1="1804.2" x2="135.8" y2="1803.3" stroke="#ffffff" stroke-width="1.0" opacity="0.5"/>
<line x1="110.6" y1="1853.0" x2="109.8" y2="1872.1" stroke="#9cff9c" stroke-width="1.0" opacity="0.5"/>
<line x1="109.8" y1="1872.1" x2="108.9" y2="1891.3" stroke="#ffffff" stroke-width="1.0" opacity="0.5"/>
<line x1="110.6" y1="1852.9" x2="111.5" y2="1841.6" stroke="#9cff9c" stroke-width="1.0" opacity="0.5"/>
<line x1="111.5" y1="1841.6" x2="112.3" y2="1830.2" stroke="#ffffff" stroke-width="1.0" opacity="0.5"/>
<line x1="60.8" y1="1834.7" x2="44.3" y2="1838.2" stroke="#9cff9c" stroke-width="1.0" opacity="0.5"/>
<line x1="44.3" y1="1838.2" x2="27.7" y2="1841.6" stroke="#ffffff" stroke-width="1.0" opacity="0.5"/>
<line x1="159.1" y1="1837.1" x2="207.9" y2="1852.8" stroke="#9cff9c" stroke-width="2.4" opacity="0.5"/>
<line x1="205.5" y1="1853.7" x2="217.7" y2="1831.1" stroke="#9cff9c" stroke-width="2.4" opacity="0.5"/>
<line x1="217.7" y1="1831.1" x2="229.9" y2="1808.4" stroke="#ffb0b0" stroke-width="2.4" opacity="0.5"/>
<line x1="231.6" y1="1807.4" x2="283.9" y2="1804.0" stroke="#ffb0b0" stroke-width="2.4" opacity="0.5"/>
<line x1="285.8" y1="1805.0" x2="299.7" y2="1829.3" stroke="#ffb0b0" stroke-width="2.4" opacity="0.5"/>
<line x1="299.7" y1="1829.3" x2="313.6" y2="1853.7" stroke="#9cff9c" stroke-width="2.4" opacity="0.5"/>
<line x1="310.0" y1="1853.4" x2="276.9" y2="1898.7" stroke="#9cff9c" stroke-width="2.6" opacity="0.5"/>
<line x1="278.7" y1="1898.0" x2="224.7" y2="1898.0" stroke="#9cff9c" stroke-width="2.4" opacity="0.5"/>
<line x1="222.0" y1="1901.0" x2="204.6" y2="1855.7" stroke="#9cff9c" stroke-width="0.9" opacity="0.5"/>
<line x1="228.7" y1="1898.5" x2="211.3" y2="1853.2" stroke="#9cff9c" stroke-width="0.9" opacity="0.5"/>
<line x1="223.9" y1="1899.6" x2="215.2" y2="1917.9" stroke="#9cff9c" stroke-width="1.0" opacity="0.5"/>
<line x1="215.2" y1="1917.9" x2="206.5" y2="1936.2" stroke="#ffffff" stroke-width="1.0" opacity="0.5"/>
<line x1="280.2" y1="1898.7" x2="297.7" y2="1918.7" stroke="#9cff9c" stroke-width="2.4" opacity="0.5"/>
<line x1="297.7" y1="1918.7" x2="315.1" y2="1938.8" stroke="#ffb0b0" stroke-width="2.4" opacity="0.5"/>
<line x1="313.1" y1="1939.4" x2="300.9" y2="1948.1" stroke="#ffb0b0" stroke-width="1.0" opacity="0.5"/>
<line x1="300.9" y1="1948.1" x2="288.7" y2="1956.8" stroke="#ffffff" stroke-width="1.0" opacity="0.5"/>
<line x1="311.6" y1="1852.7" x2="365.7" y2="1847.5" stroke="#9cff9c" stroke-width="2.4" opacity="0.5"/>
<line x1="367.7" y1="1848.5" x2="379.8" y2="1871.2" stroke="#9cff9c" stroke-width="2.4" opacity="0.5"/>
<line x1="379.8" y1="1871.2" x2="392.0" y2="1893.8" stroke="#ffb0b0" stroke-width="2.4" opacity="0.5"/>
<line x1="389.5" y1="1894.2" x2="376.5" y2="1909.0" stroke="#ffb0b0" stroke-width="1.0" opacity="0.5"/>
<line x1="376.5" y1="1909.0" x2="363.4" y2="1923.8" stroke="#ffffff" stroke-width="1.0" opacity="0.5"/>
<line x1="365.9" y1="1848.6" x2="381.5" y2="1847.8" stroke="#9cff9c" stroke-width="1.0" opacity="0.5"/>
<line x1="381.5" y1="1847.8" x2="397.2" y2="1846.9" stroke="#ffffff" stroke-width="1.0" opacity="0.5"/>
<line x1="364.0" y1="1848.7" x2="384.9" y2="1798.2" stroke="#9cff9c" stroke-width="2.4" opacity="0.5"/>
<line x1="387.1" y1="1798.2" x2="373.2" y2="1792.1" stroke="#9cff9c" stroke-width="1.0" opacity="0.5"/>
<line x1="373.2" y1="1792.1" x2="359.2" y2="1786.0" stroke="#ffffff" stroke-width="1.0" opacity="0.5"/>
<line x1="386.0" y1="1798.7" x2="389.4" y2="1787.4" stroke="#9cff9c" stroke-width="1.0" opacity="0.5"/>
<line x1="389.4" y1="1787.4" x2="392.9" y2="1776.0" stroke="#ffffff" stroke-width="1.0" opacity="0.5"/>
<line x1="386.8" y1="1797.0" x2="439.0" y2="1797.0" stroke="#9cff9c" stroke-width="2.4" opacity="0.5"/>
<line x1="439.9" y1="1798.9" x2="438.1" y2="1783.2" stroke="#9cff9c" stroke-width="1.0" opacity="0.5"/>
<line x1="438.1" y1="1783.2" x2="436.4" y2="1767.5" stroke="#ffffff" stroke-width="1.0" opacity="0.5"/>
<line x1="437.4" y1="1797.7" x2="447.9" y2="1784.7" stroke="#9cff9c" stroke-width="2.4" opacity="0.5"/>
<line x1="447.9" y1="1784.7" x2="458.3" y2="1771.6" stroke="#98a0ff" stroke-width="2.4" opacity="0.5"/>
<line x1="460.8" y1="1772.8" x2="458.2" y2="1751.8" stroke="#98a0ff" stroke-width="1.0" opacity="0.5"/>
<line x1="458.2" y1="1751.8" x2="455.6" y2="1730.9" stroke="#ffffff" stroke-width="1.0" opacity="0.5"/>
<line x1="461.1" y1="1771.3" x2="477.6" y2="1783.4" stroke="#98a0ff" stroke-width="2.4" opacity="0.5"/>
<line x1="477.6" y1="1783.4" x2="494.2" y2="1795.6" stroke="#9cff9c" stroke-width="2.4" opacity="0.5"/>
<line x1="440.8" y1="1798.0" x2="467.0" y2="1845.0" stroke="#9cff9c" stroke-width="2.4" opacity="0.5"/>
<line x1="464.5" y1="1845.5" x2="451.4" y2="1862.0" stroke="#9cff9c" stroke-width="1.0" opacity="0.5"/>
<line x1="451.4" y1="1862.0" x2="438.3" y2="1878.6" stroke="#ffffff" stroke-width="1.0" opacity="0.5"/>
<line x1="465.4" y1="1844.0" x2="495.0" y2="1847.5" stroke="#9cff9c" stroke-width="2.4" opacity="0.5"/>
<line x1="495.0" y1="1797.1" x2="496.8" y2="1849.4" stroke="#9cff9c" stroke-width="2.4" opacity="0.5"/>
<line x1="491.5" y1="1793.1" x2="501.1" y2="1789.7" stroke="#9cff9c" stroke-width="0.9" opacity="0.5"/>
<line x1="501.1" y1="1789.7" x2="510.7" y2="1786.2" stroke="#98a0ff" stroke-width="0.9" opacity="0.5"/>
<line x1="494.0" y1="1799.9" x2="503.6" y2="1796.5" stroke="#9cff9c" stroke-width="0.9" opacity="0.5"/>
<line x1="503.6" y1="1796.5" x2="513.2" y2="1793.0" stroke="#98a0ff" stroke-width="0.9" opacity="0.5"/>
<line x1="513.8" y1="1789.0" x2="527.7" y2="1806.4" stroke="#98a0ff" stroke-width="2.4" opacity="0.5"/>
<line x1="527.7" y1="1806.4" x2="541.7" y2="1823.8" stroke="#9cff9c" stroke-width="2.4" opacity="0.5"/>
<line x1="539.8" y1="1824.3" x2="545.0" y2="1822.2" stroke="#9cff9c" stroke-width="1.0" opacity="0.5"/>
<line x1="545.0" y1="1822.2" x2="550.2" y2="1820.2" stroke="#ffffff" stroke-width="1.0" opacity="0.5"/>
<line x1="543.0" y1="1825.1" x2="543.0" y2="1849.5" stroke="#9cff9c" stroke-width="0.9" opacity="0.5"/>
<line x1="543.0" y1="1849.5" x2="543.0" y2="1873.9" stroke="#98a0ff" stroke-width="0.9" opacity="0.5"/>
<line x1="535.8" y1="1825.1" x2="535.8" y2="1849.5" stroke="#9cff9c" stroke-width="0.9" opacity="0.5"/>
<line x1="535.8" y1="1849.5" x2="535.8" y2="1873.9" stroke="#98a0ff" stroke-width="0.9" opacity="0.5"/>
<line x1="538.9" y1="1872.2" x2="530.2" y2="1878.3" stroke="#98a0ff" stroke-width="2.4" opacity="0.5"/>
<line x1="530.2" y1="1878.3" x2="521.4" y2="1884.4" stroke="#9cff9c" stroke-width="2.4" opacity="0.5"/>
<line x1="523.5" y1="1886.0" x2="525.2" y2="1904.3" stroke="#9cff9c" stroke-width="1.0" opacity="0.5"/>
<line x1="525.2" y1="1904.3" x2="527.0" y2="1922.6" stroke="#ffffff" stroke-width="1.0" opacity="0.5"/>
<line x1="520.3" y1="1887.8" x2="492.5" y2="1851.2" stroke="#9cff9c" stroke-width="0.9" opacity="0.5"/>
<line x1="526.0" y1="1883.5" x2="498.2" y2="1846.9" stroke="#9cff9c" stroke-width="0.9" opacity="0.5"/></g><text transform="translate(180.1,1758.9) scale(1,1.035)" font-size="38" fill="#c00000">O5</text><line x1="216.0" y1="1761.7" x2="228.5" y2="1796.4" stroke="#c00000" stroke-width="3.2"/><polygon points="232.8,1808.4 220.9,1794.6 228.5,1796.4 233.2,1790.2" fill="#c00000"/><text transform="translate(355.9,1724.1) scale(1,1.035)" font-size="38" fill="#c00000">H46</text><line x1="414.6" y1="1725.8" x2="429.1" y2="1755.2" stroke="#c00000" stroke-width="3.2"/><polygon points="434.8,1766.6 421.4,1754.2 429.1,1755.2 433.1,1748.5" fill="#c00000"/><text transform="translate(420.3,1971.5) scale(1,1.035)" font-size="38" fill="#c00000">H38</text><line x1="441.8" y1="1936.6" x2="403.2" y2="1863.6" stroke="#c00000" stroke-width="3.2"/><polygon points="397.2,1852.3 410.9,1864.3 403.2,1863.6 399.4,1870.4" fill="#c00000"/><g stroke-linecap="round" fill="none"><line x1="170.7" y1="2175.0" x2="223.0" y2="2188.9" stroke="#137e13" stroke-width="13.3"/>
<line x1="226.2" y1="2188.1" x2="231.4" y2="2209.0" stroke="#137e13" stroke-width="4.4"/>
<line x1="231.4" y1="2209.0" x2="236.6" y2="2229.9" stroke="#141a80" stroke-width="4.4"/>
<line x1="219.8" y1="2189.7" x2="225.0" y2="2210.6" stroke="#137e13" stroke-width="4.4"/>
<line x1="225.0" y1="2210.6" x2="230.2" y2="2231.5" stroke="#141a80" stroke-width="4.4"/>
<line x1="233.4" y1="2230.7" x2="215.2" y2="2249.9" stroke="#141a80" stroke-width="13.3"/>
<line x1="215.2" y1="2249.9" x2="196.9" y2="2269.1" stroke="#137e13" stroke-width="13.3"/>
<line x1="196.9" y1="2269.1" x2="170.8" y2="2263.0" stroke="#137e13" stroke-width="13.3"/>
<line x1="170.8" y1="2263.0" x2="144.6" y2="2256.9" stroke="#141a80" stroke-width="13.3"/>
<line x1="141.4" y1="2257.8" x2="134.5" y2="2233.4" stroke="#141a80" stroke-width="4.4"/>
<line x1="134.5" y1="2233.4" x2="127.5" y2="2209.0" stroke="#137e13" stroke-width="4.4"/>
<line x1="147.8" y1="2256.0" x2="140.8" y2="2231.6" stroke="#141a80" stroke-width="4.4"/>
<line x1="140.8" y1="2231.6" x2="133.9" y2="2207.2" stroke="#137e13" stroke-width="4.4"/>
<line x1="130.7" y1="2208.1" x2="170.7" y2="2175.0" stroke="#137e13" stroke-width="13.3"/>
<line x1="170.7" y1="2175.0" x2="166.3" y2="2156.7" stroke="#137e13" stroke-width="5.8"/>
<line x1="166.3" y1="2156.7" x2="162.0" y2="2138.4" stroke="#858585" stroke-width="5.8"/>
<line x1="223.0" y1="2188.9" x2="236.9" y2="2174.9" stroke="#137e13" stroke-width="5.8"/>
<line x1="236.9" y1="2174.9" x2="250.9" y2="2161.0" stroke="#858585" stroke-width="5.8"/>
<line x1="130.7" y1="2208.1" x2="111.0" y2="2204.6" stroke="#137e13" stroke-width="5.8"/>
<line x1="111.0" y1="2204.6" x2="91.3" y2="2201.1" stroke="#858585" stroke-width="5.8"/>
<line x1="200.2" y1="2268.8" x2="205.4" y2="2331.5" stroke="#137e13" stroke-width="4.4"/>
<line x1="193.6" y1="2269.4" x2="198.8" y2="2332.1" stroke="#137e13" stroke-width="4.4"/>
<line x1="205.2" y1="2330.7" x2="219.1" y2="2369.0" stroke="#137e13" stroke-width="4.4"/>
<line x1="199.0" y1="2332.9" x2="212.9" y2="2371.2" stroke="#137e13" stroke-width="4.4"/>
<line x1="216.0" y1="2370.1" x2="250.9" y2="2408.4" stroke="#137e13" stroke-width="15.0"/>
<line x1="250.9" y1="2408.4" x2="301.4" y2="2392.8" stroke="#137e13" stroke-width="15.5"/>
<line x1="298.2" y1="2392.1" x2="310.4" y2="2338.0" stroke="#137e13" stroke-width="4.4"/>
<line x1="304.6" y1="2393.5" x2="316.8" y2="2339.4" stroke="#137e13" stroke-width="4.4"/>
<line x1="310.4" y1="2339.6" x2="296.5" y2="2290.9" stroke="#137e13" stroke-width="4.4"/>
<line x1="316.8" y1="2337.8" x2="302.9" y2="2289.1" stroke="#137e13" stroke-width="4.4"/>
<line x1="299.7" y1="2290.0" x2="301.4" y2="2265.6" stroke="#137e13" stroke-width="15.0"/>
<line x1="301.4" y1="2265.6" x2="303.1" y2="2241.2" stroke="#141a80" stroke-width="15.0"/>
<line x1="299.7" y1="2290.0" x2="287.5" y2="2285.7" stroke="#137e13" stroke-width="5.8"/>
<line x1="287.5" y1="2285.7" x2="275.3" y2="2281.3" stroke="#1c1c1c" stroke-width="5.8"/>
<line x1="216.0" y1="2370.1" x2="199.4" y2="2383.1" stroke="#137e13" stroke-width="5.8"/>
<line x1="199.4" y1="2383.1" x2="182.9" y2="2396.2" stroke="#858585" stroke-width="5.8"/>
<line x1="250.9" y1="2408.4" x2="240.4" y2="2424.9" stroke="#137e13" stroke-width="5.8"/>
<line x1="240.4" y1="2424.9" x2="230.0" y2="2441.5" stroke="#858585" stroke-width="5.8"/>
<line x1="250.9" y1="2408.4" x2="258.8" y2="2416.2" stroke="#137e13" stroke-width="5.8"/>
<line x1="258.8" y1="2416.2" x2="266.6" y2="2424.1" stroke="#1c1c1c" stroke-width="5.8"/>
<line x1="301.4" y1="2392.8" x2="317.1" y2="2409.0" stroke="#137e13" stroke-width="5.8"/>
<line x1="317.1" y1="2409.0" x2="332.8" y2="2425.2" stroke="#858585" stroke-width="5.8"/>
<line x1="303.1" y1="2223.8" x2="303.1" y2="2241.2" stroke="#141a80" stroke-width="15.0"/>
<line x1="303.1" y1="2223.8" x2="280.5" y2="2216.8" stroke="#141a80" stroke-width="13.3"/>
<line x1="280.5" y1="2216.8" x2="257.8" y2="2209.8" stroke="#137e13" stroke-width="13.3"/>
<line x1="257.8" y1="2209.8" x2="238.7" y2="2208.9" stroke="#137e13" stroke-width="5.8"/>
<line x1="238.7" y1="2208.9" x2="219.5" y2="2208.1" stroke="#858585" stroke-width="5.8"/>
<line x1="257.8" y1="2209.8" x2="258.7" y2="2224.6" stroke="#137e13" stroke-width="5.8"/>
<line x1="258.7" y1="2224.6" x2="259.6" y2="2239.4" stroke="#858585" stroke-width="5.8"/>
<line x1="257.8" y1="2209.8" x2="278.7" y2="2143.6" stroke="#137e13" stroke-width="15.0"/>
<line x1="278.7" y1="2143.6" x2="262.1" y2="2131.4" stroke="#137e13" stroke-width="5.8"/>
<line x1="262.1" y1="2131.4" x2="245.6" y2="2119.2" stroke="#858585" stroke-width="5.8"/>
<line x1="278.7" y1="2143.6" x2="297.0" y2="2136.6" stroke="#137e13" stroke-width="18.0"/>
<line x1="297.0" y1="2136.6" x2="315.3" y2="2129.7" stroke="#0f650f" stroke-width="18.0"/>
<line x1="315.3" y1="2129.7" x2="298.8" y2="2120.1" stroke="#0f650f" stroke-width="5.8"/>
<line x1="298.8" y1="2120.1" x2="282.2" y2="2110.5" stroke="#858585" stroke-width="5.8"/>
<line x1="315.3" y1="2129.7" x2="330.1" y2="2114.9" stroke="#0f650f" stroke-width="5.8"/>
<line x1="330.1" y1="2114.9" x2="345.0" y2="2100.1" stroke="#858585" stroke-width="5.8"/>
<line x1="278.7" y1="2143.6" x2="296.1" y2="2145.3" stroke="#137e13" stroke-width="5.8"/>
<line x1="296.1" y1="2145.3" x2="313.6" y2="2147.1" stroke="#858585" stroke-width="5.8"/>
<line x1="315.3" y1="2129.7" x2="324.1" y2="2156.7" stroke="#0f650f" stroke-width="15.0"/>
<line x1="324.1" y1="2156.7" x2="332.8" y2="2183.7" stroke="#137e13" stroke-width="15.0"/>
<line x1="332.8" y1="2183.7" x2="318.0" y2="2203.8" stroke="#137e13" stroke-width="14.0"/>
<line x1="318.0" y1="2203.8" x2="303.1" y2="2223.8" stroke="#141a80" stroke-width="14.0"/>
<line x1="332.8" y1="2183.7" x2="383.3" y2="2199.4" stroke="#137e13" stroke-width="13.3"/>
<line x1="383.3" y1="2199.4" x2="414.6" y2="2244.7" stroke="#137e13" stroke-width="13.3"/>
<line x1="380.2" y1="2198.2" x2="390.6" y2="2170.3" stroke="#137e13" stroke-width="4.4"/>
<line x1="386.4" y1="2200.6" x2="396.8" y2="2172.7" stroke="#137e13" stroke-width="4.4"/>
<line x1="393.7" y1="2171.5" x2="382.4" y2="2160.7" stroke="#137e13" stroke-width="5.8"/>
<line x1="382.4" y1="2160.7" x2="371.1" y2="2149.9" stroke="#858585" stroke-width="5.8"/>
<line x1="393.7" y1="2171.5" x2="453.0" y2="2180.2" stroke="#137e13" stroke-width="13.3"/>
<line x1="453.0" y1="2180.2" x2="456.4" y2="2171.5" stroke="#137e13" stroke-width="5.8"/>
<line x1="456.4" y1="2171.5" x2="459.9" y2="2162.8" stroke="#858585" stroke-width="5.8"/>
<line x1="455.5" y1="2178.1" x2="471.2" y2="2196.4" stroke="#137e13" stroke-width="4.4"/>
<line x1="471.2" y1="2196.4" x2="486.8" y2="2214.7" stroke="#141a80" stroke-width="4.4"/>
<line x1="450.5" y1="2182.3" x2="466.1" y2="2200.6" stroke="#137e13" stroke-width="4.4"/>
<line x1="466.1" y1="2200.6" x2="481.8" y2="2218.9" stroke="#141a80" stroke-width="4.4"/>
<line x1="484.3" y1="2216.8" x2="477.4" y2="2230.8" stroke="#141a80" stroke-width="13.3"/>
<line x1="477.4" y1="2230.8" x2="470.4" y2="2244.7" stroke="#137e13" stroke-width="13.3"/>
<line x1="470.4" y1="2244.7" x2="414.6" y2="2244.7" stroke="#137e13" stroke-width="13.3"/>
<line x1="472.6" y1="2242.2" x2="512.7" y2="2277.0" stroke="#137e13" stroke-width="4.4"/>
<line x1="468.2" y1="2247.2" x2="508.3" y2="2282.0" stroke="#137e13" stroke-width="4.4"/>
<line x1="510.5" y1="2279.5" x2="532.2" y2="2277.8" stroke="#137e13" stroke-width="5.8"/>
<line x1="532.2" y1="2277.8" x2="554.0" y2="2276.0" stroke="#858585" stroke-width="5.8"/>
<line x1="510.5" y1="2279.5" x2="496.5" y2="2324.8" stroke="#137e13" stroke-width="15.0"/>
<line x1="496.5" y1="2324.8" x2="507.9" y2="2320.4" stroke="#137e13" stroke-width="5.8"/>
<line x1="507.9" y1="2320.4" x2="519.2" y2="2316.1" stroke="#1c1c1c" stroke-width="5.8"/>
<line x1="496.5" y1="2324.8" x2="500.0" y2="2345.7" stroke="#137e13" stroke-width="5.8"/>
<line x1="500.0" y1="2345.7" x2="503.5" y2="2366.6" stroke="#858585" stroke-width="5.8"/>
<line x1="496.5" y1="2324.8" x2="435.5" y2="2328.3" stroke="#137e13" stroke-width="15.0"/>
<line x1="435.5" y1="2328.3" x2="428.6" y2="2346.6" stroke="#137e13" stroke-width="5.8"/>
<line x1="428.6" y1="2346.6" x2="421.6" y2="2364.9" stroke="#858585" stroke-width="5.8"/>
<line x1="433.0" y1="2330.4" x2="398.2" y2="2288.6" stroke="#137e13" stroke-width="4.4"/>
<line x1="438.0" y1="2326.2" x2="403.2" y2="2284.4" stroke="#137e13" stroke-width="4.4"/>
<line x1="400.7" y1="2286.5" x2="378.9" y2="2287.3" stroke="#137e13" stroke-width="5.8"/>
<line x1="378.9" y1="2287.3" x2="357.1" y2="2288.2" stroke="#858585" stroke-width="5.8"/>
<line x1="400.7" y1="2286.5" x2="414.6" y2="2244.7" stroke="#137e13" stroke-width="15.0"/>
<line x1="414.6" y1="2244.7" x2="422.5" y2="2230.8" stroke="#137e13" stroke-width="5.8"/>
<line x1="422.5" y1="2230.8" x2="430.3" y2="2216.8" stroke="#858585" stroke-width="5.8"/>
<line x1="170.6" y1="2175.3" x2="222.9" y2="2189.2" stroke="#27c027" stroke-width="12.0"/>
<line x1="226.1" y1="2188.1" x2="231.3" y2="2209.0" stroke="#27c027" stroke-width="4.0"/>
<line x1="231.3" y1="2209.0" x2="236.5" y2="2229.9" stroke="#2530c8" stroke-width="4.0"/>
<line x1="219.7" y1="2189.7" x2="224.9" y2="2210.6" stroke="#27c027" stroke-width="4.0"/>
<line x1="224.9" y1="2210.6" x2="230.1" y2="2231.5" stroke="#2530c8" stroke-width="4.0"/>
<line x1="233.6" y1="2230.9" x2="215.3" y2="2250.1" stroke="#2530c8" stroke-width="12.0"/>
<line x1="215.3" y1="2250.1" x2="197.1" y2="2269.3" stroke="#27c027" stroke-width="12.0"/>
<line x1="196.8" y1="2269.4" x2="170.7" y2="2263.3" stroke="#27c027" stroke-width="12.0"/>
<line x1="170.7" y1="2263.3" x2="144.5" y2="2257.2" stroke="#2530c8" stroke-width="12.0"/>
<line x1="141.3" y1="2257.8" x2="134.4" y2="2233.4" stroke="#2530c8" stroke-width="4.0"/>
<line x1="134.4" y1="2233.4" x2="127.4" y2="2209.0" stroke="#27c027" stroke-width="4.0"/>
<line x1="147.7" y1="2256.0" x2="140.7" y2="2231.6" stroke="#2530c8" stroke-width="4.0"/>
<line x1="140.7" y1="2231.6" x2="133.8" y2="2207.2" stroke="#27c027" stroke-width="4.0"/>
<line x1="130.9" y1="2208.3" x2="170.9" y2="2175.2" stroke="#27c027" stroke-width="12.0"/>
<line x1="170.6" y1="2175.0" x2="166.2" y2="2156.7" stroke="#27c027" stroke-width="5.2"/>
<line x1="166.2" y1="2156.7" x2="161.9" y2="2138.4" stroke="#cfcfcf" stroke-width="5.2"/>
<line x1="223.1" y1="2189.0" x2="237.0" y2="2175.0" stroke="#27c027" stroke-width="5.2"/>
<line x1="237.0" y1="2175.0" x2="251.0" y2="2161.1" stroke="#cfcfcf" stroke-width="5.2"/>
<line x1="130.7" y1="2208.2" x2="111.0" y2="2204.7" stroke="#27c027" stroke-width="5.2"/>
<line x1="111.0" y1="2204.7" x2="91.3" y2="2201.2" stroke="#cfcfcf" stroke-width="5.2"/>
<line x1="200.1" y1="2268.8" x2="205.3" y2="2331.5" stroke="#27c027" stroke-width="4.0"/>
<line x1="193.5" y1="2269.4" x2="198.7" y2="2332.1" stroke="#27c027" stroke-width="4.0"/>
<line x1="205.1" y1="2330.7" x2="219.0" y2="2369.0" stroke="#27c027" stroke-width="4.0"/>
<line x1="198.9" y1="2333.0" x2="212.8" y2="2371.3" stroke="#27c027" stroke-width="4.0"/>
<line x1="215.8" y1="2370.3" x2="250.7" y2="2408.6" stroke="#27c027" stroke-width="13.5"/>
<line x1="251.0" y1="2408.7" x2="301.5" y2="2393.1" stroke="#27c027" stroke-width="14.0"/>
<line x1="298.3" y1="2392.1" x2="310.5" y2="2338.0" stroke="#27c027" stroke-width="4.0"/>
<line x1="304.7" y1="2393.5" x2="316.9" y2="2339.4" stroke="#27c027" stroke-width="4.0"/>
<line x1="310.3" y1="2339.6" x2="296.4" y2="2290.9" stroke="#27c027" stroke-width="4.0"/>
<line x1="316.7" y1="2337.8" x2="302.8" y2="2289.1" stroke="#27c027" stroke-width="4.0"/>
<line x1="300.0" y1="2290.0" x2="301.7" y2="2265.6" stroke="#27c027" stroke-width="13.5"/>
<line x1="301.7" y1="2265.6" x2="303.4" y2="2241.2" stroke="#2530c8" stroke-width="13.5"/>
<line x1="299.7" y1="2290.1" x2="287.5" y2="2285.8" stroke="#27c027" stroke-width="5.2"/>
<line x1="287.5" y1="2285.8" x2="275.3" y2="2281.4" stroke="#404040" stroke-width="5.2"/>
<line x1="216.1" y1="2370.2" x2="199.5" y2="2383.2" stroke="#27c027" stroke-width="5.2"/>
<line x1="199.5" y1="2383.2" x2="183.0" y2="2396.3" stroke="#cfcfcf" stroke-width="5.2"/>
<line x1="251.0" y1="2408.5" x2="240.5" y2="2425.0" stroke="#27c027" stroke-width="5.2"/>
<line x1="240.5" y1="2425.0" x2="230.1" y2="2441.6" stroke="#cfcfcf" stroke-width="5.2"/>
<line x1="250.8" y1="2408.5" x2="258.7" y2="2416.3" stroke="#27c027" stroke-width="5.2"/>
<line x1="258.7" y1="2416.3" x2="266.5" y2="2424.2" stroke="#404040" stroke-width="5.2"/>
<line x1="301.3" y1="2392.9" x2="317.0" y2="2409.1" stroke="#27c027" stroke-width="5.2"/>
<line x1="317.0" y1="2409.1" x2="332.7" y2="2425.3" stroke="#cfcfcf" stroke-width="5.2"/>
<line x1="303.4" y1="2223.8" x2="303.4" y2="2241.2" stroke="#2530c8" stroke-width="13.5"/>
<line x1="303.0" y1="2224.1" x2="280.4" y2="2217.1" stroke="#2530c8" stroke-width="12.0"/>
<line x1="280.4" y1="2217.1" x2="257.7" y2="2210.1" stroke="#27c027" stroke-width="12.0"/>
<line x1="257.8" y1="2209.9" x2="238.6" y2="2209.1" stroke="#27c027" stroke-width="5.2"/>
<line x1="238.6" y1="2209.1" x2="219.5" y2="2208.2" stroke="#cfcfcf" stroke-width="5.2"/>
<line x1="257.7" y1="2209.8" x2="258.6" y2="2224.6" stroke="#27c027" stroke-width="5.2"/>
<line x1="258.6" y1="2224.6" x2="259.5" y2="2239.4" stroke="#cfcfcf" stroke-width="5.2"/>
<line x1="258.1" y1="2209.9" x2="279.0" y2="2143.7" stroke="#27c027" stroke-width="13.5"/>
<line x1="278.6" y1="2143.7" x2="262.1" y2="2131.5" stroke="#27c027" stroke-width="5.2"/>
<line x1="262.1" y1="2131.5" x2="245.5" y2="2119.3" stroke="#cfcfcf" stroke-width="5.2"/>
<line x1="278.8" y1="2143.9" x2="297.1" y2="2137.0" stroke="#27c027" stroke-width="16.2"/>
<line x1="297.1" y1="2137.0" x2="315.4" y2="2130.0" stroke="#22a022" stroke-width="16.2"/>
<line x1="315.2" y1="2129.8" x2="298.7" y2="2120.2" stroke="#22a022" stroke-width="5.2"/>
<line x1="298.7" y1="2120.2" x2="282.1" y2="2110.6" stroke="#cfcfcf" stroke-width="5.2"/>
<line x1="315.4" y1="2129.8" x2="330.2" y2="2115.0" stroke="#22a022" stroke-width="5.2"/>
<line x1="330.2" y1="2115.0" x2="345.1" y2="2100.2" stroke="#cfcfcf" stroke-width="5.2"/>
<line x1="278.7" y1="2143.7" x2="296.1" y2="2145.5" stroke="#27c027" stroke-width="5.2"/>
<line x1="296.1" y1="2145.5" x2="313.6" y2="2147.2" stroke="#cfcfcf" stroke-width="5.2"/>
<line x1="315.0" y1="2129.8" x2="323.8" y2="2156.8" stroke="#22a022" stroke-width="13.5"/>
<line x1="323.8" y1="2156.8" x2="332.5" y2="2183.8" stroke="#27c027" stroke-width="13.5"/>
<line x1="333.0" y1="2183.9" x2="318.2" y2="2203.9" stroke="#27c027" stroke-width="12.6"/>
<line x1="318.2" y1="2203.9" x2="303.3" y2="2224.0" stroke="#2530c8" stroke-width="12.6"/>
<line x1="332.7" y1="2184.0" x2="383.2" y2="2199.7" stroke="#27c027" stroke-width="12.0"/>
<line x1="383.1" y1="2199.6" x2="414.4" y2="2244.9" stroke="#27c027" stroke-width="12.0"/>
<line x1="380.3" y1="2198.3" x2="390.7" y2="2170.4" stroke="#27c027" stroke-width="4.0"/>
<line x1="386.5" y1="2200.6" x2="396.9" y2="2172.7" stroke="#27c027" stroke-width="4.0"/>
<line x1="393.6" y1="2171.6" x2="382.3" y2="2160.8" stroke="#27c027" stroke-width="5.2"/>
<line x1="382.3" y1="2160.8" x2="371.0" y2="2150.0" stroke="#cfcfcf" stroke-width="5.2"/>
<line x1="393.7" y1="2171.8" x2="453.0" y2="2180.5" stroke="#27c027" stroke-width="12.0"/>
<line x1="453.1" y1="2180.2" x2="456.6" y2="2171.5" stroke="#27c027" stroke-width="5.2"/>
<line x1="456.6" y1="2171.5" x2="460.0" y2="2162.8" stroke="#cfcfcf" stroke-width="5.2"/>
<line x1="455.4" y1="2178.1" x2="471.1" y2="2196.4" stroke="#27c027" stroke-width="4.0"/>
<line x1="471.1" y1="2196.4" x2="486.7" y2="2214.7" stroke="#2530c8" stroke-width="4.0"/>
<line x1="450.4" y1="2182.4" x2="466.1" y2="2200.7" stroke="#27c027" stroke-width="4.0"/>
<line x1="466.1" y1="2200.7" x2="481.7" y2="2219.0" stroke="#2530c8" stroke-width="4.0"/>
<line x1="484.5" y1="2216.9" x2="477.6" y2="2230.9" stroke="#2530c8" stroke-width="12.0"/>
<line x1="477.6" y1="2230.9" x2="470.6" y2="2244.8" stroke="#27c027" stroke-width="12.0"/>
<line x1="470.4" y1="2245.0" x2="414.6" y2="2245.0" stroke="#27c027" stroke-width="12.0"/>
<line x1="472.5" y1="2242.3" x2="512.6" y2="2277.1" stroke="#27c027" stroke-width="4.0"/>
<line x1="468.2" y1="2247.3" x2="508.3" y2="2282.1" stroke="#27c027" stroke-width="4.0"/>
<line x1="510.5" y1="2279.6" x2="532.3" y2="2277.9" stroke="#27c027" stroke-width="5.2"/>
<line x1="532.3" y1="2277.9" x2="554.0" y2="2276.1" stroke="#cfcfcf" stroke-width="5.2"/>
<line x1="510.8" y1="2279.6" x2="496.8" y2="2324.9" stroke="#27c027" stroke-width="13.5"/>
<line x1="496.5" y1="2324.9" x2="507.9" y2="2320.6" stroke="#27c027" stroke-width="5.2"/>
<line x1="507.9" y1="2320.6" x2="519.2" y2="2316.2" stroke="#404040" stroke-width="5.2"/>
<line x1="496.4" y1="2324.8" x2="499.9" y2="2345.7" stroke="#27c027" stroke-width="5.2"/>
<line x1="499.9" y1="2345.7" x2="503.4" y2="2366.6" stroke="#cfcfcf" stroke-width="5.2"/>
<line x1="496.5" y1="2325.1" x2="435.5" y2="2328.6" stroke="#27c027" stroke-width="13.5"/>
<line x1="435.6" y1="2328.3" x2="428.7" y2="2346.6" stroke="#27c027" stroke-width="5.2"/>
<line x1="428.7" y1="2346.6" x2="421.7" y2="2364.9" stroke="#cfcfcf" stroke-width="5.2"/>
<line x1="432.9" y1="2330.5" x2="398.1" y2="2288.7" stroke="#27c027" stroke-width="4.0"/>
<line x1="438.0" y1="2326.2" x2="403.2" y2="2284.4" stroke="#27c027" stroke-width="4.0"/>
<line x1="400.7" y1="2286.6" x2="378.9" y2="2287.5" stroke="#27c027" stroke-width="5.2"/>
<line x1="378.9" y1="2287.5" x2="357.1" y2="2288.3" stroke="#cfcfcf" stroke-width="5.2"/>
<line x1="401.0" y1="2286.6" x2="414.9" y2="2244.8" stroke="#27c027" stroke-width="13.5"/>
<line x1="414.7" y1="2244.8" x2="422.6" y2="2230.8" stroke="#27c027" stroke-width="5.2"/>
<line x1="422.6" y1="2230.8" x2="430.4" y2="2216.9" stroke="#cfcfcf" stroke-width="5.2"/>
<line x1="171.0" y1="2174.0" x2="223.3" y2="2187.9" stroke="#32e632" stroke-width="9.0"/>
<line x1="226.5" y1="2188.0" x2="231.7" y2="2208.9" stroke="#32e632" stroke-width="3.0"/>
<line x1="231.7" y1="2208.9" x2="236.9" y2="2229.8" stroke="#3040ee" stroke-width="3.0"/>
<line x1="220.1" y1="2189.6" x2="225.3" y2="2210.5" stroke="#32e632" stroke-width="3.0"/>
<line x1="225.3" y1="2210.5" x2="230.5" y2="2231.4" stroke="#3040ee" stroke-width="3.0"/>
<line x1="232.6" y1="2230.0" x2="214.4" y2="2249.2" stroke="#3040ee" stroke-width="9.0"/>
<line x1="214.4" y1="2249.2" x2="196.1" y2="2268.4" stroke="#32e632" stroke-width="9.0"/>
<line x1="197.1" y1="2268.1" x2="171.0" y2="2262.0" stroke="#32e632" stroke-width="9.0"/>
<line x1="171.0" y1="2262.0" x2="144.8" y2="2255.9" stroke="#3040ee" stroke-width="9.0"/>
<line x1="141.8" y1="2257.7" x2="134.8" y2="2233.3" stroke="#3040ee" stroke-width="3.0"/>
<line x1="134.8" y1="2233.3" x2="127.9" y2="2208.9" stroke="#32e632" stroke-width="3.0"/>
<line x1="148.1" y1="2255.9" x2="141.2" y2="2231.5" stroke="#3040ee" stroke-width="3.0"/>
<line x1="141.2" y1="2231.5" x2="134.2" y2="2207.1" stroke="#32e632" stroke-width="3.0"/>
<line x1="130.0" y1="2207.3" x2="170.0" y2="2174.2" stroke="#32e632" stroke-width="9.0"/>
<line x1="171.2" y1="2174.9" x2="166.8" y2="2156.6" stroke="#32e632" stroke-width="3.9"/>
<line x1="166.8" y1="2156.6" x2="162.5" y2="2138.3" stroke="#ececec" stroke-width="3.9"/>
<line x1="222.7" y1="2188.6" x2="236.6" y2="2174.6" stroke="#32e632" stroke-width="3.9"/>
<line x1="236.6" y1="2174.6" x2="250.6" y2="2160.7" stroke="#ececec" stroke-width="3.9"/>
<line x1="130.8" y1="2207.6" x2="111.1" y2="2204.1" stroke="#32e632" stroke-width="3.9"/>
<line x1="111.1" y1="2204.1" x2="91.4" y2="2200.6" stroke="#ececec" stroke-width="3.9"/>
<line x1="200.5" y1="2268.8" x2="205.7" y2="2331.5" stroke="#32e632" stroke-width="3.0"/>
<line x1="194.0" y1="2269.3" x2="199.2" y2="2332.0" stroke="#32e632" stroke-width="3.0"/>
<line x1="205.5" y1="2330.6" x2="219.4" y2="2368.9" stroke="#32e632" stroke-width="3.0"/>
<line x1="199.3" y1="2332.8" x2="213.2" y2="2371.1" stroke="#32e632" stroke-width="3.0"/>
<line x1="216.9" y1="2369.3" x2="251.8" y2="2407.6" stroke="#32e632" stroke-width="10.2"/>
<line x1="250.5" y1="2407.2" x2="301.0" y2="2391.6" stroke="#32e632" stroke-width="10.5"/>
<line x1="297.8" y1="2392.0" x2="310.0" y2="2337.9" stroke="#32e632" stroke-width="3.0"/>
<line x1="304.3" y1="2393.4" x2="316.5" y2="2339.3" stroke="#32e632" stroke-width="3.0"/>
<line x1="310.8" y1="2339.5" x2="296.9" y2="2290.8" stroke="#32e632" stroke-width="3.0"/>
<line x1="317.1" y1="2337.7" x2="303.2" y2="2289.0" stroke="#32e632" stroke-width="3.0"/>
<line x1="298.5" y1="2289.9" x2="300.2" y2="2265.5" stroke="#32e632" stroke-width="10.2"/>
<line x1="300.2" y1="2265.5" x2="301.9" y2="2241.1" stroke="#3040ee" stroke-width="10.2"/>
<line x1="299.9" y1="2289.6" x2="287.7" y2="2285.2" stroke="#32e632" stroke-width="3.9"/>
<line x1="287.7" y1="2285.2" x2="275.5" y2="2280.9" stroke="#5a5a5a" stroke-width="3.9"/>
<line x1="215.7" y1="2369.7" x2="199.2" y2="2382.8" stroke="#32e632" stroke-width="3.9"/>
<line x1="199.2" y1="2382.8" x2="182.6" y2="2395.8" stroke="#ececec" stroke-width="3.9"/>
<line x1="250.5" y1="2408.2" x2="240.1" y2="2424.7" stroke="#32e632" stroke-width="3.9"/>
<line x1="240.1" y1="2424.7" x2="229.6" y2="2441.3" stroke="#ececec" stroke-width="3.9"/>
<line x1="251.2" y1="2408.1" x2="259.1" y2="2415.9" stroke="#32e632" stroke-width="3.9"/>
<line x1="259.1" y1="2415.9" x2="266.9" y2="2423.8" stroke="#5a5a5a" stroke-width="3.9"/>
<line x1="301.7" y1="2392.5" x2="317.4" y2="2408.7" stroke="#32e632" stroke-width="3.9"/>
<line x1="317.4" y1="2408.7" x2="333.1" y2="2424.9" stroke="#ececec" stroke-width="3.9"/>
<line x1="301.9" y1="2223.8" x2="301.9" y2="2241.2" stroke="#3040ee" stroke-width="10.2"/>
<line x1="303.4" y1="2222.8" x2="280.8" y2="2215.8" stroke="#3040ee" stroke-width="9.0"/>
<line x1="280.8" y1="2215.8" x2="258.1" y2="2208.8" stroke="#32e632" stroke-width="9.0"/>
<line x1="257.8" y1="2209.3" x2="238.7" y2="2208.5" stroke="#32e632" stroke-width="3.9"/>
<line x1="238.7" y1="2208.5" x2="219.5" y2="2207.6" stroke="#ececec" stroke-width="3.9"/>
<line x1="258.3" y1="2209.8" x2="259.2" y2="2224.6" stroke="#32e632" stroke-width="3.9"/>
<line x1="259.2" y1="2224.6" x2="260.1" y2="2239.4" stroke="#ececec" stroke-width="3.9"/>
<line x1="256.7" y1="2209.4" x2="277.6" y2="2143.2" stroke="#32e632" stroke-width="10.2"/>
<line x1="279.0" y1="2143.2" x2="262.4" y2="2131.0" stroke="#32e632" stroke-width="3.9"/>
<line x1="262.4" y1="2131.0" x2="245.9" y2="2118.8" stroke="#ececec" stroke-width="3.9"/>
<line x1="278.2" y1="2142.3" x2="296.5" y2="2135.3" stroke="#32e632" stroke-width="12.2"/>
<line x1="296.5" y1="2135.3" x2="314.8" y2="2128.4" stroke="#2cbf2c" stroke-width="12.2"/>
<line x1="315.5" y1="2129.3" x2="299.0" y2="2119.7" stroke="#2cbf2c" stroke-width="3.9"/>
<line x1="299.0" y1="2119.7" x2="282.4" y2="2110.1" stroke="#ececec" stroke-width="3.9"/>
<line x1="315.0" y1="2129.4" x2="329.8" y2="2114.6" stroke="#2cbf2c" stroke-width="3.9"/>
<line x1="329.8" y1="2114.6" x2="344.7" y2="2099.8" stroke="#ececec" stroke-width="3.9"/>
<line x1="278.7" y1="2143.1" x2="296.2" y2="2144.9" stroke="#32e632" stroke-width="3.9"/>
<line x1="296.2" y1="2144.9" x2="313.6" y2="2146.6" stroke="#ececec" stroke-width="3.9"/>
<line x1="316.4" y1="2129.3" x2="325.2" y2="2156.3" stroke="#2cbf2c" stroke-width="10.2"/>
<line x1="325.2" y1="2156.3" x2="333.9" y2="2183.3" stroke="#32e632" stroke-width="10.2"/>
<line x1="331.9" y1="2183.0" x2="317.0" y2="2203.1" stroke="#32e632" stroke-width="9.5"/>
<line x1="317.0" y1="2203.1" x2="302.2" y2="2223.1" stroke="#3040ee" stroke-width="9.5"/>
<line x1="333.1" y1="2182.7" x2="383.6" y2="2198.4" stroke="#32e632" stroke-width="9.0"/>
<line x1="384.2" y1="2198.8" x2="415.5" y2="2244.1" stroke="#32e632" stroke-width="9.0"/>
<line x1="379.9" y1="2198.1" x2="390.3" y2="2170.2" stroke="#32e632" stroke-width="3.0"/>
<line x1="386.1" y1="2200.4" x2="396.5" y2="2172.5" stroke="#32e632" stroke-width="3.0"/>
<line x1="394.0" y1="2171.2" x2="382.7" y2="2160.4" stroke="#32e632" stroke-width="3.9"/>
<line x1="382.7" y1="2160.4" x2="371.4" y2="2149.6" stroke="#ececec" stroke-width="3.9"/>
<line x1="393.9" y1="2170.4" x2="453.2" y2="2179.1" stroke="#32e632" stroke-width="9.0"/>
<line x1="452.6" y1="2180.0" x2="456.0" y2="2171.3" stroke="#32e632" stroke-width="3.9"/>
<line x1="456.0" y1="2171.3" x2="459.5" y2="2162.6" stroke="#ececec" stroke-width="3.9"/>
<line x1="455.8" y1="2177.8" x2="471.4" y2="2196.1" stroke="#32e632" stroke-width="3.0"/>
<line x1="471.4" y1="2196.1" x2="487.1" y2="2214.4" stroke="#3040ee" stroke-width="3.0"/>
<line x1="450.8" y1="2182.1" x2="466.4" y2="2200.4" stroke="#32e632" stroke-width="3.0"/>
<line x1="466.4" y1="2200.4" x2="482.1" y2="2218.7" stroke="#3040ee" stroke-width="3.0"/>
<line x1="483.3" y1="2216.3" x2="476.4" y2="2230.3" stroke="#3040ee" stroke-width="9.0"/>
<line x1="476.4" y1="2230.3" x2="469.4" y2="2244.2" stroke="#32e632" stroke-width="9.0"/>
<line x1="470.4" y1="2243.6" x2="414.6" y2="2243.6" stroke="#32e632" stroke-width="9.0"/>
<line x1="472.8" y1="2241.9" x2="512.9" y2="2276.7" stroke="#32e632" stroke-width="3.0"/>
<line x1="468.5" y1="2246.9" x2="508.6" y2="2281.7" stroke="#32e632" stroke-width="3.0"/>
<line x1="510.5" y1="2279.0" x2="532.2" y2="2277.3" stroke="#32e632" stroke-width="3.9"/>
<line x1="532.2" y1="2277.3" x2="554.0" y2="2275.5" stroke="#ececec" stroke-width="3.9"/>
<line x1="509.4" y1="2279.1" x2="495.4" y2="2324.4" stroke="#32e632" stroke-width="10.2"/>
<line x1="496.3" y1="2324.4" x2="507.7" y2="2320.0" stroke="#32e632" stroke-width="3.9"/>
<line x1="507.7" y1="2320.0" x2="519.0" y2="2315.7" stroke="#5a5a5a" stroke-width="3.9"/>
<line x1="497.0" y1="2324.7" x2="500.5" y2="2345.6" stroke="#32e632" stroke-width="3.9"/>
<line x1="500.5" y1="2345.6" x2="504.0" y2="2366.5" stroke="#ececec" stroke-width="3.9"/>
<line x1="496.4" y1="2323.6" x2="435.4" y2="2327.1" stroke="#32e632" stroke-width="10.2"/>
<line x1="435.1" y1="2328.1" x2="428.1" y2="2346.4" stroke="#32e632" stroke-width="3.9"/>
<line x1="428.1" y1="2346.4" x2="421.2" y2="2364.7" stroke="#ececec" stroke-width="3.9"/>
<line x1="433.2" y1="2330.2" x2="398.4" y2="2288.4" stroke="#32e632" stroke-width="3.0"/>
<line x1="438.3" y1="2326.0" x2="403.5" y2="2284.2" stroke="#32e632" stroke-width="3.0"/>
<line x1="400.7" y1="2286.0" x2="378.9" y2="2286.9" stroke="#32e632" stroke-width="3.9"/>
<line x1="378.9" y1="2286.9" x2="357.1" y2="2287.7" stroke="#ececec" stroke-width="3.9"/>
<line x1="399.6" y1="2286.1" x2="413.5" y2="2244.3" stroke="#32e632" stroke-width="10.2"/>
<line x1="414.2" y1="2244.5" x2="422.0" y2="2230.5" stroke="#32e632" stroke-width="3.9"/>
<line x1="422.0" y1="2230.5" x2="429.9" y2="2216.6" stroke="#ececec" stroke-width="3.9"/>
<line x1="171.2" y1="2173.1" x2="223.5" y2="2187.0" stroke="#9cff9c" stroke-width="2.4" opacity="0.5"/>
<line x1="226.8" y1="2187.9" x2="232.0" y2="2208.8" stroke="#9cff9c" stroke-width="0.8" opacity="0.5"/>
<line x1="232.0" y1="2208.8" x2="237.2" y2="2229.7" stroke="#98a0ff" stroke-width="0.8" opacity="0.5"/>
<line x1="220.4" y1="2189.5" x2="225.6" y2="2210.4" stroke="#9cff9c" stroke-width="0.8" opacity="0.5"/>
<line x1="225.6" y1="2210.4" x2="230.8" y2="2231.3" stroke="#98a0ff" stroke-width="0.8" opacity="0.5"/>
<line x1="232.0" y1="2229.3" x2="213.7" y2="2248.5" stroke="#98a0ff" stroke-width="2.4" opacity="0.5"/>
<line x1="213.7" y1="2248.5" x2="195.5" y2="2267.7" stroke="#9cff9c" stroke-width="2.4" opacity="0.5"/>
<line x1="197.4" y1="2267.2" x2="171.2" y2="2261.1" stroke="#9cff9c" stroke-width="2.4" opacity="0.5"/>
<line x1="171.2" y1="2261.1" x2="145.1" y2="2255.0" stroke="#98a0ff" stroke-width="2.4" opacity="0.5"/>
<line x1="142.1" y1="2257.6" x2="135.1" y2="2233.2" stroke="#98a0ff" stroke-width="0.8" opacity="0.5"/>
<line x1="135.1" y1="2233.2" x2="128.2" y2="2208.8" stroke="#9cff9c" stroke-width="0.8" opacity="0.5"/>
<line x1="148.4" y1="2255.8" x2="141.5" y2="2231.4" stroke="#98a0ff" stroke-width="0.8" opacity="0.5"/>
<line x1="141.5" y1="2231.4" x2="134.5" y2="2207.0" stroke="#9cff9c" stroke-width="0.8" opacity="0.5"/>
<line x1="129.4" y1="2206.6" x2="169.4" y2="2173.5" stroke="#9cff9c" stroke-width="2.4" opacity="0.5"/>
<line x1="171.5" y1="2174.8" x2="167.2" y2="2156.5" stroke="#9cff9c" stroke-width="1.0" opacity="0.5"/>
<line x1="167.2" y1="2156.5" x2="162.8" y2="2138.2" stroke="#ffffff" stroke-width="1.0" opacity="0.5"/>
<line x1="222.4" y1="2188.3" x2="236.3" y2="2174.3" stroke="#9cff9c" stroke-width="1.0" opacity="0.5"/>
<line x1="236.3" y1="2174.3" x2="250.3" y2="2160.4" stroke="#ffffff" stroke-width="1.0" opacity="0.5"/>
<line x1="130.9" y1="2207.2" x2="111.2" y2="2203.7" stroke="#9cff9c" stroke-width="1.0" opacity="0.5"/>
<line x1="111.2" y1="2203.7" x2="91.5" y2="2200.2" stroke="#ffffff" stroke-width="1.0" opacity="0.5"/>
<line x1="200.8" y1="2268.8" x2="206.0" y2="2331.5" stroke="#9cff9c" stroke-width="0.8" opacity="0.5"/>
<line x1="194.3" y1="2269.3" x2="199.5" y2="2332.0" stroke="#9cff9c" stroke-width="0.8" opacity="0.5"/>
<line x1="205.8" y1="2330.4" x2="219.7" y2="2368.7" stroke="#9cff9c" stroke-width="0.8" opacity="0.5"/>
<line x1="199.6" y1="2332.7" x2="213.5" y2="2371.0" stroke="#9cff9c" stroke-width="0.8" opacity="0.5"/>
<line x1="217.7" y1="2368.6" x2="252.6" y2="2406.9" stroke="#9cff9c" stroke-width="2.7" opacity="0.5"/>
<line x1="250.2" y1="2406.2" x2="300.7" y2="2390.6" stroke="#9cff9c" stroke-width="2.8" opacity="0.5"/>
<line x1="297.5" y1="2391.9" x2="309.7" y2="2337.8" stroke="#9cff9c" stroke-width="0.8" opacity="0.5"/>
<line x1="304.0" y1="2393.4" x2="316.2" y2="2339.3" stroke="#9cff9c" stroke-width="0.8" opacity="0.5"/>
<line x1="311.1" y1="2339.4" x2="297.2" y2="2290.7" stroke="#9cff9c" stroke-width="0.8" opacity="0.5"/>
<line x1="317.4" y1="2337.6" x2="303.5" y2="2288.9" stroke="#9cff9c" stroke-width="0.8" opacity="0.5"/>
<line x1="297.5" y1="2289.8" x2="299.2" y2="2265.4" stroke="#9cff9c" stroke-width="2.7" opacity="0.5"/>
<line x1="299.2" y1="2265.4" x2="300.9" y2="2241.0" stroke="#98a0ff" stroke-width="2.7" opacity="0.5"/>
<line x1="300.0" y1="2289.2" x2="287.8" y2="2284.8" stroke="#9cff9c" stroke-width="1.0" opacity="0.5"/>
<line x1="287.8" y1="2284.8" x2="275.6" y2="2280.5" stroke="#b0b0b0" stroke-width="1.0" opacity="0.5"/>
<line x1="215.5" y1="2369.4" x2="198.9" y2="2382.5" stroke="#9cff9c" stroke-width="1.0" opacity="0.5"/>
<line x1="198.9" y1="2382.5" x2="182.4" y2="2395.5" stroke="#ffffff" stroke-width="1.0" opacity="0.5"/>
<line x1="250.2" y1="2407.9" x2="239.7" y2="2424.5" stroke="#9cff9c" stroke-width="1.0" opacity="0.5"/>
<line x1="239.7" y1="2424.5" x2="229.3" y2="2441.0" stroke="#ffffff" stroke-width="1.0" opacity="0.5"/>
<line x1="251.5" y1="2407.8" x2="259.4" y2="2415.6" stroke="#9cff9c" stroke-width="1.0" opacity="0.5"/>
<line x1="259.4" y1="2415.6" x2="267.2" y2="2423.5" stroke="#b0b0b0" stroke-width="1.0" opacity="0.5"/>
<line x1="302.0" y1="2392.2" x2="317.7" y2="2408.4" stroke="#9cff9c" stroke-width="1.0" opacity="0.5"/>
<line x1="317.7" y1="2408.4" x2="333.4" y2="2424.6" stroke="#ffffff" stroke-width="1.0" opacity="0.5"/>
<line x1="300.9" y1="2223.8" x2="300.9" y2="2241.2" stroke="#98a0ff" stroke-width="2.7" opacity="0.5"/>
<line x1="303.7" y1="2221.9" x2="281.0" y2="2214.9" stroke="#98a0ff" stroke-width="2.4" opacity="0.5"/>
<line x1="281.0" y1="2214.9" x2="258.4" y2="2207.9" stroke="#9cff9c" stroke-width="2.4" opacity="0.5"/>
<line x1="257.8" y1="2208.9" x2="238.7" y2="2208.1" stroke="#9cff9c" stroke-width="1.0" opacity="0.5"/>
<line x1="238.7" y1="2208.1" x2="219.5" y2="2207.2" stroke="#ffffff" stroke-width="1.0" opacity="0.5"/>
<line x1="258.7" y1="2209.7" x2="259.6" y2="2224.5" stroke="#9cff9c" stroke-width="1.0" opacity="0.5"/>
<line x1="259.6" y1="2224.5" x2="260.5" y2="2239.3" stroke="#ffffff" stroke-width="1.0" opacity="0.5"/>
<line x1="255.7" y1="2209.1" x2="276.6" y2="2142.9" stroke="#9cff9c" stroke-width="2.7" opacity="0.5"/>
<line x1="279.2" y1="2142.9" x2="262.7" y2="2130.7" stroke="#9cff9c" stroke-width="1.0" opacity="0.5"/>
<line x1="262.7" y1="2130.7" x2="246.1" y2="2118.5" stroke="#ffffff" stroke-width="1.0" opacity="0.5"/>
<line x1="277.7" y1="2141.1" x2="296.0" y2="2134.1" stroke="#9cff9c" stroke-width="3.2" opacity="0.5"/>
<line x1="296.0" y1="2134.1" x2="314.3" y2="2127.2" stroke="#6fe06f" stroke-width="3.2" opacity="0.5"/>
<line x1="315.7" y1="2128.9" x2="299.2" y2="2119.3" stroke="#6fe06f" stroke-width="1.0" opacity="0.5"/>
<line x1="299.2" y1="2119.3" x2="282.6" y2="2109.7" stroke="#ffffff" stroke-width="1.0" opacity="0.5"/>
<line x1="314.7" y1="2129.1" x2="329.5" y2="2114.3" stroke="#6fe06f" stroke-width="1.0" opacity="0.5"/>
<line x1="329.5" y1="2114.3" x2="344.4" y2="2099.5" stroke="#ffffff" stroke-width="1.0" opacity="0.5"/>
<line x1="278.8" y1="2142.7" x2="296.2" y2="2144.5" stroke="#9cff9c" stroke-width="1.0" opacity="0.5"/>
<line x1="296.2" y1="2144.5" x2="313.7" y2="2146.2" stroke="#ffffff" stroke-width="1.0" opacity="0.5"/>
<line x1="317.4" y1="2129.0" x2="326.2" y2="2156.0" stroke="#6fe06f" stroke-width="2.7" opacity="0.5"/>
<line x1="326.2" y1="2156.0" x2="334.9" y2="2183.0" stroke="#9cff9c" stroke-width="2.7" opacity="0.5"/>
<line x1="331.1" y1="2182.5" x2="316.3" y2="2202.5" stroke="#9cff9c" stroke-width="2.5" opacity="0.5"/>
<line x1="316.3" y1="2202.5" x2="301.4" y2="2222.6" stroke="#98a0ff" stroke-width="2.5" opacity="0.5"/>
<line x1="333.4" y1="2181.8" x2="383.9" y2="2197.5" stroke="#9cff9c" stroke-width="2.4" opacity="0.5"/>
<line x1="384.9" y1="2198.3" x2="416.2" y2="2243.6" stroke="#9cff9c" stroke-width="2.4" opacity="0.5"/>
<line x1="379.6" y1="2198.0" x2="390.0" y2="2170.1" stroke="#9cff9c" stroke-width="0.8" opacity="0.5"/>
<line x1="385.8" y1="2200.3" x2="396.2" y2="2172.4" stroke="#9cff9c" stroke-width="0.8" opacity="0.5"/>
<line x1="394.3" y1="2170.9" x2="383.0" y2="2160.1" stroke="#9cff9c" stroke-width="1.0" opacity="0.5"/>
<line x1="383.0" y1="2160.1" x2="371.7" y2="2149.3" stroke="#ffffff" stroke-width="1.0" opacity="0.5"/>
<line x1="394.0" y1="2169.5" x2="453.3" y2="2178.2" stroke="#9cff9c" stroke-width="2.4" opacity="0.5"/>
<line x1="452.2" y1="2179.9" x2="455.6" y2="2171.2" stroke="#9cff9c" stroke-width="1.0" opacity="0.5"/>
<line x1="455.6" y1="2171.2" x2="459.1" y2="2162.5" stroke="#ffffff" stroke-width="1.0" opacity="0.5"/>
<line x1="456.0" y1="2177.6" x2="471.7" y2="2195.9" stroke="#9cff9c" stroke-width="0.8" opacity="0.5"/>
<line x1="471.7" y1="2195.9" x2="487.3" y2="2214.2" stroke="#98a0ff" stroke-width="0.8" opacity="0.5"/>
<line x1="451.0" y1="2181.9" x2="466.6" y2="2200.2" stroke="#9cff9c" stroke-width="0.8" opacity="0.5"/>
<line x1="466.6" y1="2200.2" x2="482.3" y2="2218.5" stroke="#98a0ff" stroke-width="0.8" opacity="0.5"/>
<line x1="482.5" y1="2215.9" x2="475.6" y2="2229.9" stroke="#98a0ff" stroke-width="2.4" opacity="0.5"/>
<line x1="475.6" y1="2229.9" x2="468.6" y2="2243.8" stroke="#9cff9c" stroke-width="2.4" opacity="0.5"/>
<line x1="470.4" y1="2242.7" x2="414.6" y2="2242.7" stroke="#9cff9c" stroke-width="2.4" opacity="0.5"/>
<line x1="473.0" y1="2241.7" x2="513.1" y2="2276.5" stroke="#9cff9c" stroke-width="0.8" opacity="0.5"/>
<line x1="468.7" y1="2246.7" x2="508.8" y2="2281.5" stroke="#9cff9c" stroke-width="0.8" opacity="0.5"/>
<line x1="510.4" y1="2278.6" x2="532.2" y2="2276.9" stroke="#9cff9c" stroke-width="1.0" opacity="0.5"/>
<line x1="532.2" y1="2276.9" x2="553.9" y2="2275.1" stroke="#ffffff" stroke-width="1.0" opacity="0.5"/>
<line x1="508.4" y1="2278.8" x2="494.4" y2="2324.1" stroke="#9cff9c" stroke-width="2.7" opacity="0.5"/>
<line x1="496.2" y1="2324.0" x2="507.5" y2="2319.6" stroke="#9cff9c" stroke-width="1.0" opacity="0.5"/>
<line x1="507.5" y1="2319.6" x2="518.9" y2="2315.3" stroke="#b0b0b0" stroke-width="1.0" opacity="0.5"/>
<line x1="497.4" y1="2324.7" x2="500.9" y2="2345.6" stroke="#9cff9c" stroke-width="1.0" opacity="0.5"/>
<line x1="500.9" y1="2345.6" x2="504.4" y2="2366.5" stroke="#ffffff" stroke-width="1.0" opacity="0.5"/>
<line x1="496.4" y1="2322.6" x2="435.4" y2="2326.1" stroke="#9cff9c" stroke-width="2.7" opacity="0.5"/>
<line x1="434.7" y1="2328.0" x2="427.7" y2="2346.3" stroke="#9cff9c" stroke-width="1.0" opacity="0.5"/>
<line x1="427.7" y1="2346.3" x2="420.8" y2="2364.6" stroke="#ffffff" stroke-width="1.0" opacity="0.5"/>
<line x1="433.5" y1="2330.0" x2="398.7" y2="2288.2" stroke="#9cff9c" stroke-width="0.8" opacity="0.5"/>
<line x1="438.5" y1="2325.8" x2="403.7" y2="2284.0" stroke="#9cff9c" stroke-width="0.8" opacity="0.5"/>
<line x1="400.7" y1="2285.6" x2="378.9" y2="2286.5" stroke="#9cff9c" stroke-width="1.0" opacity="0.5"/>
<line x1="378.9" y1="2286.5" x2="357.1" y2="2287.3" stroke="#ffffff" stroke-width="1.0" opacity="0.5"/>
<line x1="398.6" y1="2285.8" x2="412.5" y2="2244.0" stroke="#9cff9c" stroke-width="2.7" opacity="0.5"/>
<line x1="413.8" y1="2244.3" x2="421.7" y2="2230.3" stroke="#9cff9c" stroke-width="1.0" opacity="0.5"/>
<line x1="421.7" y1="2230.3" x2="429.5" y2="2216.4" stroke="#ffffff" stroke-width="1.0" opacity="0.5"/></g><text transform="translate(46.9,2366.6) scale(1,1.035)" font-size="38" fill="#c00000">C7</text><line x1="92.3" y1="2349.2" x2="182.6" y2="2332.3" stroke="#c00000" stroke-width="3.2"/><polygon points="195.1,2330.0 179.6,2339.5 182.6,2332.3 177.2,2326.7" fill="#c00000"/><text transform="translate(343.1,2418.2) scale(1,1.035)" font-size="38" fill="#c00000">C11</text><line x1="364.1" y1="2386.5" x2="331.0" y2="2350.8" stroke="#c00000" stroke-width="3.2"/><polygon points="322.3,2341.5 338.6,2349.5 331.0,2350.8 329.1,2358.4" fill="#c00000"/>
<text transform="translate(-0.5,37.5) scale(1,1.035)" font-size="53" >a</text>
<text transform="translate(619.5,37.5) scale(1,1.035)" font-size="53" >b</text>
<text transform="translate(1280,38.5) scale(1,1.035)" font-size="53" >c</text>
<text transform="translate(4.5,791) scale(1,1.035)" font-size="53" >d</text>
<text transform="translate(6.5,1230.5) scale(1,1.035)" font-size="53" >e</text>
<text transform="translate(5.3,1687) scale(1,1.035)" font-size="53" >f</text>
<text transform="translate(6,2111) scale(1,1.035)" font-size="53" >g</text>
<line x1="114.5" y1="180.75" x2="628" y2="180.75" stroke="#b0b0b0" stroke-width="1" />
<line x1="114.5" y1="272" x2="628" y2="272" stroke="#b0b0b0" stroke-width="1" />
<line x1="114.5" y1="363.25" x2="628" y2="363.25" stroke="#b0b0b0" stroke-width="1" />
<line x1="114.5" y1="454.5" x2="628" y2="454.5" stroke="#b0b0b0" stroke-width="1" />
<line x1="114.5" y1="545.75" x2="628" y2="545.75" stroke="#b0b0b0" stroke-width="1" />
<line x1="114.5" y1="89.5" x2="628" y2="89.5" stroke="#e6e6e6" stroke-width="1" />
<line x1="110.5" y1="89.5" x2="114.5" y2="89.5" stroke="#333" stroke-width="1" />
<text transform="translate(110.2,106.5) scale(1,1.035)" font-size="34" text-anchor="end" >100</text>
<line x1="110.5" y1="180.75" x2="114.5" y2="180.75" stroke="#333" stroke-width="1" />
<text transform="translate(110.2,197) scale(1,1.035)" font-size="34" text-anchor="end" >90</text>
<line x1="110.5" y1="272" x2="114.5" y2="272" stroke="#333" stroke-width="1" />
<text transform="translate(110.2,286.6) scale(1,1.035)" font-size="34" text-anchor="end" >80</text>
<line x1="110.5" y1="363.25" x2="114.5" y2="363.25" stroke="#333" stroke-width="1" />
<text transform="translate(110.2,373) scale(1,1.035)" font-size="34" text-anchor="end" >70</text>
<line x1="110.5" y1="454.5" x2="114.5" y2="454.5" stroke="#333" stroke-width="1" />
<text transform="translate(110.2,462.5) scale(1,1.035)" font-size="34" text-anchor="end" >60</text>
<line x1="110.5" y1="545.75" x2="114.5" y2="545.75" stroke="#333" stroke-width="1" />
<text transform="translate(110.2,554.4) scale(1,1.035)" font-size="34" text-anchor="end" >50</text>
<line x1="110.5" y1="637" x2="114.5" y2="637" stroke="#333" stroke-width="1" />
<text transform="translate(110.2,642.6) scale(1,1.035)" font-size="34" text-anchor="end" >40</text>
<rect x="165.8" y="90.41" width="76.8" height="546.59" fill="#90bde0" stroke="#222" stroke-width="1" />
<rect x="242.6" y="94.06" width="76.9" height="542.94" fill="#e57a7e" stroke="#222" stroke-width="1" />
<rect x="421.6" y="103.19" width="77.8" height="533.81" fill="#90bde0" stroke="#222" stroke-width="1" />
<rect x="499.4" y="105.01" width="77.1" height="531.99" fill="#e57a7e" stroke="#222" stroke-width="1" />
<line x1="114.5" y1="89.3" x2="114.5" y2="637" stroke="#444" stroke-width="1" />
<line x1="114.5" y1="636.6" x2="388" y2="636.6" stroke="#444" stroke-width="1" />
<line x1="388" y1="637" x2="629" y2="637" stroke="#000" stroke-width="1.6" />
<line x1="242.6" y1="637" x2="242.6" y2="641" stroke="#333" stroke-width="1" />
<line x1="499.4" y1="637" x2="499.4" y2="641" stroke="#333" stroke-width="1" />
<text transform="translate(204.2,117.6) scale(1,1.035)" font-size="27.5" text-anchor="middle" >99.9%</text>
<text transform="translate(281.5,121.2) scale(1,1.035)" font-size="27.5" text-anchor="middle" >99.5%</text>
<text transform="translate(460.5,128.2) scale(1,1.035)" font-size="27.5" text-anchor="middle" >98.5%</text>
<text transform="translate(538.5,132.2) scale(1,1.035)" font-size="27.5" text-anchor="middle" >98.3%</text>
<text transform="translate(245.5,672.3) scale(1,1.035)" font-size="34" text-anchor="middle" >LigBoundConf</text>
<text transform="translate(498.6,672.3) scale(1,1.035)" font-size="34" text-anchor="middle" >CSD</text>
<text transform="translate(59.5,338) rotate(-90) scale(1,1.035)" font-size="34" text-anchor="middle" >Test Passing Rate (%)</text>
<rect x="367" y="20.1" width="200.6" height="76.7" rx="2" fill="#fff" stroke="#d4d4d4" stroke-width="1"/>
<rect x="375.6" y="29.3" width="43.5" height="21.1" fill="#90bde0" stroke="#222" stroke-width="1" />
<rect x="375.6" y="68.6" width="43.5" height="20.9" fill="#e57a7e" stroke="#222" stroke-width="1" />
<text transform="translate(431,49.4) scale(1,1.035)" font-size="23" >HEAD</text>
<text transform="translate(431,87.2) scale(1,1.035)" font-size="23" >PoseBusters</text>
<rect x="757.9" y="441.65" width="9.76" height="189.95" fill="#2a9d8c" stroke="#fff" stroke-width="1" />
<rect x="767.65" y="267.72" width="9.76" height="363.88" fill="#2a9d8c" stroke="#fff" stroke-width="1" />
<rect x="777.41" y="143.1" width="9.76" height="488.5" fill="#2a9d8c" stroke="#fff" stroke-width="1" />
<rect x="787.16" y="166.38" width="9.76" height="465.22" fill="#2a9d8c" stroke="#fff" stroke-width="1" />
<rect x="796.92" y="167.75" width="9.76" height="463.85" fill="#2a9d8c" stroke="#fff" stroke-width="1" />
<rect x="806.67" y="291.01" width="9.76" height="340.59" fill="#2a9d8c" stroke="#fff" stroke-width="1" />
<rect x="816.43" y="315.66" width="9.76" height="315.94" fill="#2a9d8c" stroke="#fff" stroke-width="1" />
<rect x="826.18" y="314.29" width="9.76" height="317.31" fill="#2a9d8c" stroke="#fff" stroke-width="1" />
<rect x="835.94" y="363.59" width="9.76" height="268.01" fill="#2a9d8c" stroke="#fff" stroke-width="1" />
<rect x="845.69" y="359.48" width="9.76" height="272.12" fill="#2a9d8c" stroke="#fff" stroke-width="1" />
<rect x="855.45" y="326.61" width="9.76" height="304.99" fill="#2a9d8c" stroke="#fff" stroke-width="1" />
<rect x="865.2" y="348.52" width="9.76" height="283.08" fill="#2a9d8c" stroke="#fff" stroke-width="1" />
<rect x="874.96" y="378.65" width="9.76" height="252.95" fill="#2a9d8c" stroke="#fff" stroke-width="1" />
<rect x="884.72" y="380.02" width="9.76" height="251.58" fill="#2a9d8c" stroke="#fff" stroke-width="1" />
<rect x="894.47" y="437.54" width="9.76" height="194.06" fill="#2a9d8c" stroke="#fff" stroke-width="1" />
<rect x="904.23" y="408.78" width="9.76" height="222.82" fill="#2a9d8c" stroke="#fff" stroke-width="1" />
<rect x="913.98" y="466.3" width="9.76" height="165.3" fill="#2a9d8c" stroke="#fff" stroke-width="1" />
<rect x="923.74" y="475.89" width="9.76" height="155.71" fill="#2a9d8c" stroke="#fff" stroke-width="1" />
<rect x="933.49" y="471.78" width="9.76" height="159.82" fill="#2a9d8c" stroke="#fff" stroke-width="1" />
<rect x="943.25" y="506.02" width="9.76" height="125.58" fill="#2a9d8c" stroke="#fff" stroke-width="1" />
<rect x="953" y="495.06" width="9.76" height="136.54" fill="#2a9d8c" stroke="#fff" stroke-width="1" />
<rect x="962.75" y="497.8" width="9.76" height="133.8" fill="#2a9d8c" stroke="#fff" stroke-width="1" />
<rect x="972.51" y="522.45" width="9.76" height="109.15" fill="#2a9d8c" stroke="#fff" stroke-width="1" />
<rect x="982.26" y="545.73" width="9.76" height="85.87" fill="#2a9d8c" stroke="#fff" stroke-width="1" />
<rect x="992.02" y="542.99" width="9.76" height="88.61" fill="#2a9d8c" stroke="#fff" stroke-width="1" />
<rect x="1001.77" y="560.8" width="9.76" height="70.8" fill="#2a9d8c" stroke="#fff" stroke-width="1" />
<rect x="1011.53" y="569.01" width="9.76" height="62.59" fill="#2a9d8c" stroke="#fff" stroke-width="1" />
<rect x="1021.29" y="571.75" width="9.76" height="59.85" fill="#2a9d8c" stroke="#fff" stroke-width="1" />
<rect x="1031.04" y="575.86" width="9.76" height="55.74" fill="#2a9d8c" stroke="#fff" stroke-width="1" />
<rect x="1040.8" y="588.19" width="9.76" height="43.41" fill="#2a9d8c" stroke="#fff" stroke-width="1" />
<rect x="1050.55" y="593.66" width="9.76" height="37.94" fill="#2a9d8c" stroke="#fff" stroke-width="1" />
<rect x="1060.31" y="596.4" width="9.76" height="35.2" fill="#2a9d8c" stroke="#fff" stroke-width="1" />
<rect x="1070.06" y="599.14" width="9.76" height="32.46" fill="#2a9d8c" stroke="#fff" stroke-width="1" />
<rect x="1079.82" y="610.1" width="9.76" height="21.5" fill="#2a9d8c" stroke="#fff" stroke-width="1" />
<rect x="1089.57" y="605.99" width="9.76" height="25.61" fill="#2a9d8c" stroke="#fff" stroke-width="1" />
<rect x="1099.33" y="599.14" width="9.76" height="32.46" fill="#2a9d8c" stroke="#fff" stroke-width="1" />
<rect x="1109.08" y="608.73" width="9.76" height="22.87" fill="#2a9d8c" stroke="#fff" stroke-width="1" />
<rect x="1118.84" y="603.25" width="9.76" height="28.35" fill="#2a9d8c" stroke="#fff" stroke-width="1" />
<rect x="1128.59" y="611.47" width="9.76" height="20.13" fill="#2a9d8c" stroke="#fff" stroke-width="1" />
<rect x="1138.35" y="611.47" width="9.76" height="20.13" fill="#2a9d8c" stroke="#fff" stroke-width="1" />
<rect x="1148.1" y="611.47" width="9.76" height="20.13" fill="#2a9d8c" stroke="#fff" stroke-width="1" />
<rect x="1157.86" y="618.32" width="9.76" height="13.28" fill="#2a9d8c" stroke="#fff" stroke-width="1" />
<rect x="1167.61" y="621.05" width="9.76" height="10.55" fill="#2a9d8c" stroke="#fff" stroke-width="1" />
<rect x="1177.37" y="622.42" width="9.76" height="9.18" fill="#2a9d8c" stroke="#fff" stroke-width="1" />
<rect x="1187.12" y="626.53" width="9.76" height="5.07" fill="#2a9d8c" stroke="#fff" stroke-width="1" />
<rect x="1196.88" y="619.69" width="9.76" height="11.91" fill="#2a9d8c" stroke="#fff" stroke-width="1" />
<rect x="1206.63" y="618.32" width="9.76" height="13.28" fill="#2a9d8c" stroke="#fff" stroke-width="1" />
<rect x="1216.38" y="622.42" width="9.76" height="9.18" fill="#2a9d8c" stroke="#fff" stroke-width="1" />
<rect x="1226.14" y="626.53" width="9.76" height="5.07" fill="#2a9d8c" stroke="#fff" stroke-width="1" />
<rect x="1235.89" y="626.53" width="9.76" height="5.07" fill="#2a9d8c" stroke="#fff" stroke-width="1" />
<line x1="859.4" y1="84" x2="859.4" y2="631.6" stroke="#e8706f" stroke-width="1.3" stroke-dasharray="5.5,3"/>
<rect x="732.6" y="84" width="536.3" height="547.6" fill="none" stroke="#444" stroke-width="1.3"/>
<line x1="729.2" y1="631.6" x2="732.6" y2="631.6" stroke="#333" stroke-width="1" />
<text transform="translate(724.5,643.3) scale(1,1.035)" font-size="34" text-anchor="end" >0</text>
<line x1="729.2" y1="563.12" x2="732.6" y2="563.12" stroke="#333" stroke-width="1" />
<text transform="translate(724.5,574.83) scale(1,1.035)" font-size="34" text-anchor="end" >50</text>
<line x1="729.2" y1="494.65" x2="732.6" y2="494.65" stroke="#333" stroke-width="1" />
<text transform="translate(724.5,506.35) scale(1,1.035)" font-size="34" text-anchor="end" >100</text>
<line x1="729.2" y1="426.18" x2="732.6" y2="426.18" stroke="#333" stroke-width="1" />
<text transform="translate(724.5,437.88) scale(1,1.035)" font-size="34" text-anchor="end" >150</text>
<line x1="729.2" y1="357.7" x2="732.6" y2="357.7" stroke="#333" stroke-width="1" />
<text transform="translate(724.5,369.4) scale(1,1.035)" font-size="34" text-anchor="end" >200</text>
<line x1="729.2" y1="289.23" x2="732.6" y2="289.23" stroke="#333" stroke-width="1" />
<text transform="translate(724.5,300.93) scale(1,1.035)" font-size="34" text-anchor="end" >250</text>
<line x1="729.2" y1="220.75" x2="732.6" y2="220.75" stroke="#333" stroke-width="1" />
<text transform="translate(724.5,232.45) scale(1,1.035)" font-size="34" text-anchor="end" >300</text>
<line x1="729.2" y1="152.28" x2="732.6" y2="152.28" stroke="#333" stroke-width="1" />
<text transform="translate(724.5,163.98) scale(1,1.035)" font-size="34" text-anchor="end" >350</text>
<line x1="729.2" y1="83.8" x2="732.6" y2="83.8" stroke="#333" stroke-width="1" />
<text transform="translate(724.5,95.5) scale(1,1.035)" font-size="34" text-anchor="end" >400</text>
<line x1="761.9" y1="631.6" x2="761.9" y2="635.2" stroke="#333" stroke-width="1" />
<text transform="translate(762.9,663) scale(1,1.035)" font-size="34" text-anchor="middle" >0</text>
<line x1="859.4" y1="631.6" x2="859.4" y2="635.2" stroke="#333" stroke-width="1" />
<text transform="translate(860.96,663) scale(1,1.035)" font-size="34" text-anchor="middle" >200</text>
<line x1="956.9" y1="631.6" x2="956.9" y2="635.2" stroke="#333" stroke-width="1" />
<text transform="translate(959.02,663) scale(1,1.035)" font-size="34" text-anchor="middle" >400</text>
<line x1="1054.4" y1="631.6" x2="1054.4" y2="635.2" stroke="#333" stroke-width="1" />
<text transform="translate(1057.08,663) scale(1,1.035)" font-size="34" text-anchor="middle" >600</text>
<line x1="1151.9" y1="631.6" x2="1151.9" y2="635.2" stroke="#333" stroke-width="1" />
<text transform="translate(1155.14,663) scale(1,1.035)" font-size="34" text-anchor="middle" >800</text>
<line x1="1249.4" y1="631.6" x2="1249.4" y2="635.2" stroke="#333" stroke-width="1" />
<text transform="translate(1253.2,663) scale(1,1.035)" font-size="34" text-anchor="middle" >1000</text>
<text transform="translate(1018.7,699.3) scale(1,1.035)" font-size="34" text-anchor="middle" >&#916;<tspan font-style="italic">E</tspan> (kcal/mol)</text>
<text transform="translate(664.5,330.2) rotate(-90) scale(1,1.035)" font-size="33.6" text-anchor="middle" >Number of Molecules</text>
<text transform="translate(712.2,57.1) scale(1,1.035)" font-size="26" font-weight="bold" fill="#c00000" textLength="558.5" lengthAdjust="spacingAndGlyphs">Dynamically adjust the threshold for labeling</text>
<polygon points="854.3,67.3 865.4,67.3 859.85,78.5" fill="#ff0000"/>
<text transform="translate(783.6,124.7) scale(1,1.035)" font-size="30.2" font-weight="bold" fill="#c00000" >Valid</text>
<text transform="translate(865.2,124.7) scale(1,1.035)" font-size="30.2" font-weight="bold" fill="#c00000" >Invalid</text>
<line x1="1522.08" y1="82.3" x2="1522.08" y2="629.5" stroke="#c8c8c8" stroke-width="1" />
<line x1="1631.86" y1="82.3" x2="1631.86" y2="629.5" stroke="#c8c8c8" stroke-width="1" />
<line x1="1741.64" y1="82.3" x2="1741.64" y2="629.5" stroke="#c8c8c8" stroke-width="1" />
<line x1="1851.42" y1="82.3" x2="1851.42" y2="629.5" stroke="#c8c8c8" stroke-width="1" />
<line x1="1412.3" y1="538.3" x2="1960.3" y2="538.3" stroke="#c8c8c8" stroke-width="1" />
<line x1="1412.3" y1="447.1" x2="1960.3" y2="447.1" stroke="#c8c8c8" stroke-width="1" />
<line x1="1412.3" y1="355.9" x2="1960.3" y2="355.9" stroke="#c8c8c8" stroke-width="1" />
<line x1="1412.3" y1="264.7" x2="1960.3" y2="264.7" stroke="#c8c8c8" stroke-width="1" />
<line x1="1412.3" y1="173.5" x2="1960.3" y2="173.5" stroke="#c8c8c8" stroke-width="1" />
<polyline points="1412.4,536.3 1413.6,537.1 1414.9,537.9 1416.1,538.7 1417.3,539.5 1418.4,540.3 1419.6,541.1 1420.8,541.9 1422.2,543.5 1423.6,545.2 1424.8,546.0 1426.1,546.7 1427.3,547.5 1428.7,547.0 1430.1,546.5 1431.4,544.9 1432.8,543.3 1433.9,542.2 1435.0,541.1 1436.1,540.0 1437.2,536.3 1438.4,532.6 1439.6,529.2 1440.9,525.8 1442.1,522.4 1443.5,517.3 1444.9,512.2 1446.1,506.0 1447.4,499.8 1448.6,493.6 1449.8,486.2 1451.1,478.8 1452.3,471.4 1453.7,460.2 1455.1,449.1 1456.3,441.1 1457.6,433.0 1458.8,425.0 1460.0,416.3 1461.3,407.7 1462.5,399.0 1463.8,390.9 1465.0,382.9 1466.3,374.3 1467.4,364.5 1468.6,353.6 1469.9,346.4 1471.2,340.3 1472.5,333.7 1473.6,329.7 1474.6,325.5 1475.7,320.2 1476.8,314.9 1477.9,310.9 1479.0,305.1 1480.3,302.1 1481.6,297.6 1482.9,294.7 1484.2,292.1 1485.5,288.4 1486.8,286.3 1488.1,279.8 1489.4,272.0 1491.3,262.9 1492.4,260.2 1493.4,257.3 1494.5,253.0 1495.8,246.3 1497.1,240.2 1498.4,233.1 1499.4,232.1 1500.5,231.1 1501.5,229.9 1502.6,228.2 1503.6,226.9 1504.9,223.4 1506.2,220.3 1507.5,216.6 1508.8,213.2 1510.1,211.3 1511.4,207.9 1512.4,207.2 1513.5,205.8 1514.5,206.1 1515.6,205.2 1516.6,203.4 1517.9,199.8 1519.2,196.4 1520.5,192.5 1521.8,188.9 1523.1,184.3 1524.4,179.7 1525.7,174.2 1527.0,168.5 1528.0,167.1 1529.1,165.7 1530.1,163.8 1531.2,161.5 1532.2,159.8 1533.5,157.3 1534.8,155.9 1536.1,154.9 1537.1,151.5 1538.2,148.4 1539.2,146.0 1540.3,143.4 1541.3,140.5 1542.3,139.2 1543.4,138.4 1544.4,137.6 1545.5,137.0 1546.5,135.7 1547.6,135.1 1548.7,134.8 1549.8,133.7 1551.0,133.2 1552.1,133.7 1553.2,133.6 1554.3,132.6 1555.5,131.9 1556.8,131.0 1558.0,131.0 1559.0,131.0 1560.0,130.0 1561.0,129.1 1562.0,128.8 1563.0,127.3 1564.0,127.0 1565.1,126.7 1566.2,125.2 1567.3,124.0 1568.9,115.7 1570.0,116.3 1571.1,117.2 1572.2,116.1 1573.2,116.2 1574.2,115.2 1575.3,114.3 1576.3,113.1 1577.3,112.4 1578.3,111.2 1579.3,110.4 1580.3,109.4 1581.4,109.1 1582.5,110.6 1583.5,110.4 1584.6,110.1 1585.7,110.8 1586.8,111.1 1587.8,110.2 1588.8,109.5 1589.9,109.1 1590.9,108.5 1592.0,109.8 1593.2,111.0 1594.3,111.8 1595.5,113.4 1596.6,114.7 1597.6,114.7 1598.7,114.5 1599.7,113.8 1600.7,113.2 1601.9,112.2 1603.1,110.4 1604.3,110.2 1605.5,108.9 1606.6,108.3 1607.8,108.3 1608.9,108.5 1610.1,109.7 1611.2,109.1 1612.3,109.8 1613.4,111.3 1614.5,111.8 1615.5,110.8 1616.5,110.3 1617.5,110.2 1618.5,109.0 1619.6,109.1 1620.8,109.6 1621.9,109.2 1623.1,108.9 1624.2,109.1 1625.2,109.5 1626.2,111.0 1627.3,112.1 1628.3,112.8 1629.5,111.2 1630.7,110.9 1631.8,109.7 1633.0,108.7 1634.1,108.6 1635.2,108.3 1636.3,107.9 1637.3,108.5 1638.4,109.3 1639.4,110.8 1640.5,110.6 1641.6,112.4 1642.8,113.3 1643.9,114.1 1645.1,114.6 1646.2,116.7 1647.2,116.9 1648.2,117.0 1649.2,117.1 1650.2,118.3 1651.3,118.4 1652.3,119.2 1653.3,119.3 1654.3,120.3 1655.4,120.4 1656.5,121.7 1657.5,123.6 1658.6,124.4 1659.7,124.6 1660.8,126.3 1661.9,125.8 1663.0,126.9 1664.1,126.9 1665.2,126.7 1666.2,126.8 1667.3,126.7 1668.4,128.2 1669.5,127.3 1670.6,128.6 1671.8,129.8 1673.0,130.1 1674.2,130.5 1675.4,132.4 1676.4,133.0 1677.5,133.0 1678.5,133.1 1679.5,133.3 1680.5,133.7 1681.5,133.9 1682.6,134.9 1683.6,135.0 1684.7,134.9 1685.7,135.0 1686.8,136.0 1687.9,135.7 1688.9,136.3 1690.0,136.3 1691.0,137.4 1692.1,137.9 1693.1,137.1 1694.1,137.8 1695.2,138.3 1696.2,139.7 1697.3,139.8 1698.3,139.6 1699.3,139.9 1700.4,140.9 1701.4,141.6 1702.4,142.0 1703.4,141.4 1704.4,142.4 1705.4,142.4 1706.4,142.4 1707.4,143.4 1708.4,142.6 1709.4,143.6 1710.4,143.0 1711.4,143.4 1712.5,144.7 1713.5,144.0 1714.5,145.0 1715.5,145.0 1716.5,145.6 1717.5,145.3 1718.5,145.5 1719.5,145.7 1720.5,146.8 1721.5,146.7 1722.5,147.4 1723.5,147.8 1724.5,147.1 1725.6,148.1 1726.6,147.9 1727.6,148.2 1728.7,148.7 1729.7,150.2 1730.7,150.1 1731.7,150.2 1732.7,150.4 1733.7,150.5 1734.8,150.7 1735.8,150.8 1736.8,151.0 1737.8,151.2 1738.8,151.3 1739.8,151.4 1740.8,151.6 1741.8,151.8 1742.9,151.9 1743.9,152.1 1744.9,152.2 1745.9,152.3 1746.9,152.5 1747.9,152.6 1748.9,152.7 1750.0,152.7 1751.0,152.8 1752.0,152.9 1753.0,153.0 1754.0,153.1 1755.1,153.2 1756.1,153.2 1757.1,153.3 1758.1,153.4 1759.1,153.5 1760.1,153.6 1761.2,153.6 1762.2,153.7 1763.2,153.8 1764.2,153.8 1765.2,153.9 1766.2,153.9 1767.3,153.9 1768.3,153.9 1769.3,154.0 1770.3,154.0 1771.3,154.0 1772.3,154.1 1773.4,154.1 1774.4,154.1 1775.4,154.2 1776.4,154.2 1777.4,154.2 1778.5,154.2 1779.5,154.3 1780.5,154.3 1781.5,154.3 1782.5,154.4 1783.5,154.4 1784.5,154.4 1785.6,154.4 1786.6,154.5 1787.6,154.5 1788.6,154.5 1789.6,154.5 1790.6,154.4 1791.7,154.4 1792.7,154.4 1793.7,154.4 1794.7,154.4 1795.7,154.4 1796.8,154.3 1797.8,154.3 1798.8,154.3 1799.8,154.3 1800.8,154.3 1801.8,154.3 1802.8,154.2 1803.9,154.2 1804.9,154.2 1805.9,154.2 1806.9,154.2 1807.9,154.2 1809.0,154.2 1810.0,154.1 1811.0,154.1 1812.0,154.1 1813.0,154.1 1814.0,154.0 1815.0,154.0 1816.0,153.9 1817.1,153.9 1818.1,153.8 1819.1,153.8 1820.1,153.7 1821.1,153.7 1822.1,153.6 1823.1,153.6 1824.2,153.6 1825.2,153.5 1826.2,153.5 1827.2,153.4 1828.2,153.4 1829.2,153.3 1830.2,153.3 1831.2,153.2 1832.2,153.2 1833.3,153.1 1834.3,153.1 1835.3,153.0 1836.3,153.0 1837.3,152.9 1838.3,152.8 1839.4,152.8 1840.4,152.7 1841.4,152.6 1842.4,152.5 1843.4,152.4 1844.4,152.3 1845.5,152.3 1846.5,152.2 1847.5,152.1 1848.5,152.0 1849.5,151.9 1850.6,151.9 1851.6,151.8 1852.6,151.7 1853.6,151.6 1854.6,151.6 1855.6,151.5 1856.7,151.5 1857.7,151.4 1858.7,151.3 1859.7,151.3 1860.7,151.2 1861.7,151.2 1862.8,151.1 1863.8,151.0 1864.8,151.0 1865.8,150.9 1866.8,150.9 1867.8,150.8 1868.8,150.8 1869.9,150.7 1870.9,150.6 1871.9,150.6 1872.9,150.5 1873.9,150.5 1874.9,150.4 1876.0,150.3 1877.0,150.3 1878.0,150.2 1879.0,150.2 1880.0,150.1 1881.0,150.0 1882.1,150.0 1883.1,149.9 1884.1,149.9 1885.1,149.8 1886.1,149.7 1887.1,149.7 1888.1,149.6 1889.2,149.5 1890.2,149.5 1891.2,149.4 1892.2,149.3 1893.2,149.2 1894.2,149.2 1895.3,149.1 1896.3,149.0 1897.3,149.0 1898.3,148.9 1899.3,148.8 1900.3,148.8 1901.3,148.7 1902.4,148.6 1903.4,148.6 1904.4,148.5 1905.4,148.4 1906.4,148.4 1907.4,148.3 1908.5,148.2 1909.5,148.2 1910.5,148.1 1911.5,148.0 1912.5,147.9 1913.5,147.9 1914.6,147.8 1915.6,147.7 1916.6,147.7 1917.6,147.6 1918.6,147.5 1919.6,147.5 1920.6,147.4 1921.6,147.4 1922.6,147.3 1923.7,147.2 1924.7,147.2 1925.7,147.1 1926.7,147.0 1927.7,147.0 1928.7,146.9 1929.7,146.9 1930.7,146.8 1931.7,146.7 1932.7,146.7 1933.8,146.6 1934.8,146.5 1935.8,146.5 1936.8,146.4 1937.8,146.4 1938.8,146.3 1939.8,146.3 1940.8,146.3 1941.8,146.3 1942.8,146.2 1943.8,146.2 1944.8,146.2 1945.8,146.2 1946.8,146.2 1947.8,146.2 1948.8,146.2 1949.9,146.1 1950.9,146.1 1951.9,146.1 1952.9,146.1 1953.9,146.1 1954.9,146.1 1955.9,146.1 1956.9,146.0 1957.9,146.0 1958.9,146.0 1959.9,146.0" fill="none" stroke="#fbb035" stroke-width="3.7" stroke-linejoin="round"/>
<polyline points="1412.0,504.8 1413.0,506.2 1414.0,507.6 1415.1,508.9 1416.1,510.3 1417.5,514.0 1418.9,517.8 1420.1,519.4 1421.2,521.0 1422.4,522.7 1423.6,524.3 1424.6,525.1 1425.6,525.8 1426.6,526.6 1427.6,527.4 1428.6,528.1 1429.6,528.9 1430.7,528.0 1431.7,527.0 1432.8,526.1 1433.8,525.9 1434.9,525.7 1436.0,525.4 1437.0,525.2 1438.1,522.7 1439.2,520.3 1440.3,517.8 1441.5,513.5 1442.8,509.1 1444.0,504.8 1445.2,499.9 1446.3,495.1 1447.4,490.2 1448.6,485.3 1449.8,479.1 1451.1,472.9 1452.3,466.7 1453.5,460.8 1454.8,455.0 1456.0,449.1 1457.2,444.5 1458.3,439.8 1459.5,435.1 1460.7,430.5 1461.9,422.5 1463.2,414.4 1464.4,406.4 1465.5,400.3 1466.6,394.8 1467.8,388.7 1468.9,381.3 1470.0,375.2 1471.3,370.9 1472.5,365.4 1473.8,359.9 1474.8,356.1 1475.9,353.1 1476.9,349.8 1478.0,346.4 1479.0,342.4 1480.3,341.9 1481.6,341.0 1482.9,340.6 1484.2,334.5 1485.5,327.9 1486.8,323.0 1488.1,318.6 1489.4,314.0 1490.7,307.8 1491.9,301.9 1493.2,300.0 1494.5,297.1 1495.8,294.6 1497.1,292.7 1498.4,289.6 1499.7,287.1 1500.7,285.3 1501.8,283.7 1502.8,282.9 1503.9,281.3 1504.9,280.5 1506.1,279.4 1507.3,277.1 1508.4,274.6 1509.6,273.8 1510.8,271.8 1511.9,266.5 1512.9,261.6 1514.0,256.2 1515.3,254.1 1516.6,251.3 1517.9,250.1 1518.9,247.7 1520.0,244.2 1521.0,242.7 1522.1,240.3 1523.1,237.6 1524.4,234.3 1525.7,230.8 1527.0,227.9 1528.0,226.0 1529.1,225.2 1530.1,223.2 1531.2,222.6 1532.2,221.4 1533.3,218.1 1534.5,215.7 1535.7,213.6 1536.8,210.7 1538.0,209.3 1539.1,207.9 1540.3,207.0 1541.4,206.5 1542.6,204.7 1543.6,202.7 1544.7,198.6 1545.7,196.4 1546.8,192.5 1547.8,190.2 1548.8,188.6 1549.9,187.0 1550.9,185.7 1552.0,184.6 1553.0,183.2 1554.0,181.8 1555.1,180.6 1556.1,180.0 1557.2,179.5 1558.2,178.1 1559.2,175.7 1560.2,175.1 1561.3,173.3 1562.3,171.9 1563.3,169.3 1564.4,168.9 1565.5,166.8 1566.7,166.5 1567.8,164.8 1568.9,163.6 1569.9,164.5 1570.9,163.4 1571.9,163.9 1572.9,164.3 1573.9,163.4 1574.9,163.3 1575.9,164.2 1576.9,163.5 1577.9,163.9 1579.0,162.4 1580.2,162.2 1581.3,161.4 1582.5,161.5 1583.6,160.1 1584.7,161.9 1585.9,161.2 1587.0,162.8 1588.2,162.3 1589.3,163.3 1590.4,162.8 1591.6,160.7 1592.7,159.5 1593.9,159.0 1595.0,157.3 1596.0,156.8 1597.1,158.0 1598.2,156.8 1599.2,156.5 1600.2,156.9 1601.3,157.2 1602.3,157.3 1603.4,156.3 1604.5,156.6 1605.5,156.0 1606.6,156.9 1607.8,157.7 1608.9,158.0 1610.1,158.5 1611.2,158.7 1612.3,159.4 1613.5,159.9 1614.6,160.2 1615.8,160.5 1616.9,161.7 1617.9,161.9 1618.9,162.2 1619.9,163.3 1621.0,164.5 1622.0,164.0 1623.0,165.3 1624.0,165.6 1625.0,166.4 1626.1,165.9 1627.2,167.0 1628.2,166.1 1629.3,166.5 1630.4,166.3 1631.5,165.7 1632.7,166.3 1634.0,165.5 1635.2,165.2 1636.4,164.9 1637.5,166.1 1638.6,167.0 1639.7,168.8 1640.8,169.6 1641.8,171.3 1642.9,172.2 1644.0,173.3 1645.1,173.2 1646.2,174.5 1647.2,174.5 1648.3,175.3 1649.3,175.6 1650.3,176.2 1651.4,176.3 1652.4,176.0 1653.5,176.5 1654.5,177.0 1655.5,176.5 1656.6,176.9 1657.6,177.7 1658.6,177.8 1659.7,179.3 1660.7,179.2 1661.8,179.6 1662.8,180.3 1663.9,180.9 1664.9,181.5 1666.1,181.3 1667.3,180.6 1668.6,179.8 1669.8,179.6 1670.9,179.1 1671.9,180.1 1673.0,180.2 1674.0,180.0 1675.1,179.6 1676.2,179.8 1677.2,179.9 1678.3,179.3 1679.4,179.8 1680.4,180.1 1681.5,179.6 1682.5,179.6 1683.6,180.6 1684.7,179.9 1685.7,179.9 1686.8,180.3 1687.9,179.8 1688.9,179.2 1690.0,180.0 1691.1,179.0 1692.2,178.4 1693.2,179.2 1694.3,178.2 1695.4,178.4 1696.5,179.0 1697.6,179.1 1698.7,178.5 1699.8,179.4 1700.8,179.7 1701.9,180.1 1703.0,180.1 1704.0,180.8 1705.0,180.2 1706.0,180.7 1707.0,181.0 1708.0,181.9 1709.0,180.9 1710.0,182.0 1711.0,181.4 1712.0,182.1 1713.0,182.0 1714.0,182.2 1715.0,182.8 1716.0,182.5 1717.2,181.7 1718.5,181.3 1719.7,180.8 1720.9,181.5 1722.0,181.5 1723.1,182.3 1724.2,182.3 1725.2,181.7 1726.3,183.0 1727.4,183.5 1728.4,183.3 1729.5,182.9 1730.5,182.8 1731.6,182.7 1732.6,182.6 1733.7,182.5 1734.7,182.4 1735.7,182.4 1736.8,182.3 1737.8,182.2 1738.9,182.1 1739.9,182.0 1741.0,181.9 1742.0,181.8 1743.0,181.9 1744.0,182.0 1745.1,182.2 1746.1,182.3 1747.1,182.4 1748.1,182.5 1749.1,182.6 1750.2,182.8 1751.2,182.9 1752.2,183.0 1753.2,183.1 1754.2,183.2 1755.2,183.3 1756.3,183.5 1757.3,183.6 1758.3,183.7 1759.4,183.8 1760.5,183.8 1761.5,183.9 1762.6,183.9 1763.7,184.0 1764.8,184.0 1765.8,184.1 1766.9,184.1 1768.0,184.2 1769.0,184.1 1770.1,183.9 1771.1,183.8 1772.1,183.7 1773.2,183.6 1774.2,183.4 1775.2,183.3 1776.3,183.2 1777.3,183.1 1778.3,182.9 1779.3,182.8 1780.4,182.7 1781.4,182.6 1782.4,182.4 1783.5,182.3 1784.5,182.2 1785.5,182.1 1786.6,181.9 1787.6,181.8 1788.6,181.7 1789.6,181.7 1790.6,181.6 1791.7,181.6 1792.7,181.5 1793.7,181.4 1794.7,181.4 1795.7,181.3 1796.7,181.2 1797.8,181.2 1798.8,181.1 1799.8,181.1 1800.8,181.0 1801.8,180.9 1802.8,180.9 1803.8,180.8 1804.9,180.7 1805.9,180.7 1806.9,180.6 1807.9,180.6 1808.9,180.5 1809.9,180.4 1811.0,180.4 1812.0,180.3 1813.0,180.2 1814.0,180.2 1815.0,180.1 1816.0,180.1 1817.1,180.0 1818.1,179.9 1819.1,179.9 1820.1,179.8 1821.1,179.7 1822.1,179.5 1823.1,179.4 1824.1,179.3 1825.2,179.1 1826.2,179.0 1827.2,178.9 1828.2,178.8 1829.2,178.6 1830.2,178.5 1831.2,178.4 1832.2,178.2 1833.3,178.1 1834.3,178.0 1835.3,177.8 1836.3,177.7 1837.3,177.6 1838.3,177.5 1839.4,177.3 1840.4,177.2 1841.4,177.1 1842.4,177.0 1843.4,176.9 1844.4,176.8 1845.5,176.6 1846.5,176.5 1847.5,176.4 1848.5,176.3 1849.5,176.2 1850.6,176.0 1851.6,175.9 1852.6,175.8 1853.6,175.7 1854.6,175.6 1855.6,175.5 1856.7,175.4 1857.7,175.3 1858.7,175.2 1859.7,175.1 1860.7,175.1 1861.7,175.0 1862.8,174.9 1863.8,174.8 1864.8,174.7 1865.8,174.6 1866.8,174.5 1867.8,174.4 1868.8,174.3 1869.9,174.2 1870.9,174.1 1871.9,174.0 1872.9,173.9 1873.9,173.8 1874.9,173.7 1876.0,173.6 1877.0,173.6 1878.0,173.5 1879.0,173.4 1880.0,173.3 1881.0,173.2 1882.1,173.1 1883.1,173.0 1884.1,172.9 1885.1,172.8 1886.1,172.8 1887.1,172.7 1888.1,172.7 1889.2,172.6 1890.2,172.6 1891.2,172.5 1892.2,172.5 1893.2,172.4 1894.2,172.3 1895.3,172.3 1896.3,172.2 1897.3,172.2 1898.3,172.2 1899.3,172.1 1900.3,172.1 1901.3,172.0 1902.4,171.9 1903.4,171.9 1904.4,171.8 1905.4,171.8 1906.4,171.8 1907.4,171.7 1908.5,171.7 1909.5,171.6 1910.5,171.5 1911.5,171.5 1912.5,171.4 1913.5,171.4 1914.6,171.3 1915.6,171.3 1916.6,171.2 1917.6,171.2 1918.6,171.1 1919.6,171.1 1920.6,171.0 1921.6,171.0 1922.6,170.9 1923.6,170.9 1924.6,170.8 1925.7,170.8 1926.7,170.8 1927.7,170.7 1928.7,170.6 1929.7,170.6 1930.7,170.5 1931.7,170.5 1932.7,170.4 1933.7,170.4 1934.7,170.3 1935.7,170.3 1936.7,170.2 1937.7,170.2 1938.8,170.1 1939.8,170.1 1940.8,170.0 1941.8,170.0 1942.8,169.9 1943.8,169.9 1944.8,169.8 1945.8,169.8 1946.8,169.8 1947.8,169.7 1948.8,169.7 1949.8,169.6 1950.8,169.5 1951.8,169.5 1952.9,169.4 1953.9,169.4 1954.9,169.3 1955.9,169.3 1956.9,169.2 1957.9,169.2 1958.9,169.2 1959.9,169.1" fill="none" stroke="#0a4d96" stroke-width="3.7" stroke-linejoin="round"/>
<rect x="1412.3" y="82.3" width="548" height="547.2" fill="none" stroke="#222" stroke-width="1.3"/>
<line x1="1409" y1="629.5" x2="1412.3" y2="629.5" stroke="#333" stroke-width="1" />
<text transform="translate(1400.7,641.5) scale(1,1.035)" font-size="34" text-anchor="end" >0.50</text>
<line x1="1409" y1="538.3" x2="1412.3" y2="538.3" stroke="#333" stroke-width="1" />
<text transform="translate(1400.7,550.3) scale(1,1.035)" font-size="34" text-anchor="end" >0.55</text>
<line x1="1409" y1="447.1" x2="1412.3" y2="447.1" stroke="#333" stroke-width="1" />
<text transform="translate(1400.7,459.1) scale(1,1.035)" font-size="34" text-anchor="end" >0.60</text>
<line x1="1409" y1="355.9" x2="1412.3" y2="355.9" stroke="#333" stroke-width="1" />
<text transform="translate(1400.7,367.9) scale(1,1.035)" font-size="34" text-anchor="end" >0.65</text>
<line x1="1409" y1="264.7" x2="1412.3" y2="264.7" stroke="#333" stroke-width="1" />
<text transform="translate(1400.7,276.7) scale(1,1.035)" font-size="34" text-anchor="end" >0.70</text>
<line x1="1409" y1="173.5" x2="1412.3" y2="173.5" stroke="#333" stroke-width="1" />
<text transform="translate(1400.7,185.5) scale(1,1.035)" font-size="34" text-anchor="end" >0.75</text>
<line x1="1409" y1="82.3" x2="1412.3" y2="82.3" stroke="#333" stroke-width="1" />
<text transform="translate(1400.7,94.3) scale(1,1.035)" font-size="34" text-anchor="end" >0.80</text>
<line x1="1412.3" y1="629.5" x2="1412.3" y2="633" stroke="#333" stroke-width="1" />
<text transform="translate(1412.3,662.7) scale(1,1.035)" font-size="34" text-anchor="middle" >0</text>
<line x1="1522.08" y1="629.5" x2="1522.08" y2="633" stroke="#333" stroke-width="1" />
<text transform="translate(1513.28,662.7) scale(1,1.035)" font-size="34" text-anchor="middle" >200</text>
<line x1="1631.86" y1="629.5" x2="1631.86" y2="633" stroke="#333" stroke-width="1" />
<text transform="translate(1624.86,662.7) scale(1,1.035)" font-size="34" text-anchor="middle" >400</text>
<line x1="1741.64" y1="629.5" x2="1741.64" y2="633" stroke="#333" stroke-width="1" />
<text transform="translate(1736.24,662.7) scale(1,1.035)" font-size="34" text-anchor="middle" >600</text>
<line x1="1851.42" y1="629.5" x2="1851.42" y2="633" stroke="#333" stroke-width="1" />
<text transform="translate(1843.32,662.7) scale(1,1.035)" font-size="34" text-anchor="middle" >800</text>
<line x1="1961.2" y1="629.5" x2="1961.2" y2="633" stroke="#333" stroke-width="1" />
<text transform="translate(1954.6,662.7) scale(1,1.035)" font-size="34" text-anchor="middle" >1000</text>
<text transform="translate(1680,696.8) scale(1,1.035)" font-size="34" text-anchor="middle" >&#916;<tspan font-style="italic">E</tspan> threshold for labeling (kcal/mol)</text>
<text transform="translate(1328.9,351.2) rotate(-90) scale(1,1.035)" font-size="33.7" text-anchor="middle" >Weighted F1 Score</text>
<rect x="1711.2" y="536" width="225.8" height="77.7" rx="2" fill="#fff" stroke="#d4d4d4" stroke-width="1"/>
<line x1="1729.3" y1="561.8" x2="1786" y2="561.8" stroke="#fbb035" stroke-width="5.6" />
<line x1="1729.3" y1="588.8" x2="1786" y2="588.8" stroke="#0a4d96" stroke-width="5.6" />
<text transform="translate(1795.4,570.6) scale(1,1.035)" font-size="23" >HEAD</text>
<text transform="translate(1795.4,597.6) scale(1,1.035)" font-size="23" >PoseBusters</text>
<line x1="0" y1="736.9" x2="1984.5" y2="736.9" stroke="#6f6b6b" stroke-width="1.5" stroke-dasharray="7.6,5.5"/>
<line x1="0" y1="1192.7" x2="1984.5" y2="1192.7" stroke="#6f6b6b" stroke-width="1.5" stroke-dasharray="7.6,5.5"/>
<line x1="0" y1="1631" x2="1984.5" y2="1631" stroke="#6f6b6b" stroke-width="1.5" stroke-dasharray="7.6,5.5"/>
<line x1="0" y1="2068.6" x2="1984.5" y2="2068.6" stroke="#6f6b6b" stroke-width="1.5" stroke-dasharray="7.6,5.5"/>
<rect x="774.29" y="1090.4" width="23.75" height="18.66" fill="#90bde0" stroke="#111" stroke-width="2.2" />
<rect x="803.98" y="1090.4" width="23.75" height="7.26" fill="#90bde0" stroke="#111" stroke-width="2.2" />
<rect x="833.66" y="1090.4" width="23.75" height="1.66" fill="#90bde0" stroke="#111" stroke-width="2.2" />
<rect x="863.35" y="1090.4" width="23.75" height="12.65" fill="#90bde0" stroke="#111" stroke-width="2.2" />
<rect x="893.04" y="1080.66" width="23.75" height="9.74" fill="#90bde0" stroke="#111" stroke-width="2.2" />
<rect x="922.72" y="1090.4" width="23.75" height="7.26" fill="#90bde0" stroke="#111" stroke-width="2.2" />
<rect x="952.41" y="1078.58" width="23.75" height="11.82" fill="#90bde0" stroke="#111" stroke-width="2.2" />
<rect x="982.09" y="1090.4" width="23.75" height="15.55" fill="#90bde0" stroke="#111" stroke-width="2.2" />
<rect x="1011.78" y="1043.76" width="23.75" height="46.64" fill="#90bde0" stroke="#111" stroke-width="2.2" />
<rect x="1041.47" y="1090.4" width="23.75" height="10.57" fill="#90bde0" stroke="#111" stroke-width="2.2" />
<rect x="1071.15" y="1086.67" width="23.75" height="3.73" fill="#90bde0" stroke="#111" stroke-width="2.2" />
<rect x="1100.84" y="1090.4" width="23.75" height="13.06" fill="#90bde0" stroke="#111" stroke-width="2.2" />
<rect x="1130.52" y="780.69" width="23.75" height="309.71" fill="#e57a7e" stroke="#111" stroke-width="2.2" />
<rect x="1160.21" y="1090.4" width="23.75" height="17.41" fill="#90bde0" stroke="#111" stroke-width="2.2" />
<rect x="1189.9" y="1070.91" width="23.75" height="19.49" fill="#90bde0" stroke="#111" stroke-width="2.2" />
<rect x="1219.58" y="1090.4" width="23.75" height="22.39" fill="#90bde0" stroke="#111" stroke-width="2.2" />
<rect x="1249.27" y="1090.4" width="23.75" height="3.32" fill="#90bde0" stroke="#111" stroke-width="2.2" />
<rect x="1278.95" y="1070.08" width="23.75" height="20.32" fill="#90bde0" stroke="#111" stroke-width="2.2" />
<rect x="1308.64" y="1057.65" width="23.75" height="32.75" fill="#90bde0" stroke="#111" stroke-width="2.2" />
<rect x="1338.33" y="1090.4" width="23.75" height="9.74" fill="#90bde0" stroke="#111" stroke-width="2.2" />
<rect x="1368.01" y="1063.87" width="23.75" height="26.53" fill="#90bde0" stroke="#111" stroke-width="2.2" />
<rect x="1397.7" y="1065.52" width="23.75" height="24.88" fill="#90bde0" stroke="#111" stroke-width="2.2" />
<rect x="1427.38" y="1090.4" width="23.75" height="6.43" fill="#90bde0" stroke="#111" stroke-width="2.2" />
<rect x="1457.07" y="1090.4" width="23.75" height="6.43" fill="#90bde0" stroke="#111" stroke-width="2.2" />
<rect x="1486.76" y="1037.75" width="23.75" height="52.65" fill="#90bde0" stroke="#111" stroke-width="2.2" />
<rect x="1516.44" y="1086.46" width="23.75" height="3.94" fill="#90bde0" stroke="#111" stroke-width="2.2" />
<rect x="1546.13" y="1083.97" width="23.75" height="6.43" fill="#90bde0" stroke="#111" stroke-width="2.2" />
<rect x="1575.81" y="1051.01" width="23.75" height="39.39" fill="#90bde0" stroke="#111" stroke-width="2.2" />
<rect x="1605.5" y="1064.9" width="23.75" height="25.5" fill="#90bde0" stroke="#111" stroke-width="2.2" />
<rect x="1635.19" y="1090.4" width="23.75" height="5.6" fill="#90bde0" stroke="#111" stroke-width="2.2" />
<rect x="1664.87" y="1090.4" width="23.75" height="4.35" fill="#90bde0" stroke="#111" stroke-width="2.2" />
<rect x="1694.56" y="1088.33" width="23.75" height="2.07" fill="#90bde0" stroke="#111" stroke-width="2.2" />
<rect x="1724.24" y="1090.4" width="23.75" height="6.84" fill="#90bde0" stroke="#111" stroke-width="2.2" />
<rect x="1753.93" y="1090.4" width="23.75" height="4.35" fill="#90bde0" stroke="#111" stroke-width="2.2" />
<rect x="1783.62" y="1090.4" width="23.75" height="5.6" fill="#90bde0" stroke="#111" stroke-width="2.2" />
<rect x="1813.3" y="1085.63" width="23.75" height="4.77" fill="#90bde0" stroke="#111" stroke-width="2.2" />
<rect x="1842.99" y="1013.49" width="23.75" height="76.91" fill="#e57a7e" stroke="#111" stroke-width="2.2" />
<rect x="1872.67" y="1090.4" width="23.75" height="6.84" fill="#90bde0" stroke="#111" stroke-width="2.2" />
<rect x="1902.36" y="1090.4" width="23.75" height="1.66" fill="#90bde0" stroke="#111" stroke-width="2.2" />
<rect x="716.7" y="764.3" width="1267.0" height="364.9000000000001" fill="none" stroke="#111" stroke-width="1.4"/>
<line x1="710.4" y1="1090.4" x2="716.7" y2="1090.4" stroke="#111" stroke-width="1.3" />
<text transform="translate(708.5,1105.3) scale(1,1.035)" font-size="34" text-anchor="end" >0</text>
<line x1="710.4" y1="986.75" x2="716.7" y2="986.75" stroke="#111" stroke-width="1.3" />
<text transform="translate(708.5,999.6) scale(1,1.035)" font-size="34" text-anchor="end" >50</text>
<line x1="710.4" y1="883.1" x2="716.7" y2="883.1" stroke="#111" stroke-width="1.3" />
<text transform="translate(708.5,893.4) scale(1,1.035)" font-size="34" text-anchor="end" >100</text>
<line x1="710.4" y1="779.45" x2="716.7" y2="779.45" stroke="#111" stroke-width="1.3" />
<text transform="translate(708.5,788.9) scale(1,1.035)" font-size="34" text-anchor="end" >150</text>
<line x1="786.17" y1="1129.2" x2="786.17" y2="1135.2" stroke="#111" stroke-width="1.3" />
<text transform="translate(795.57,1139.7) rotate(-90) scale(1,1.035)" font-size="26.3" text-anchor="end" >C1</text>
<line x1="815.85" y1="1129.2" x2="815.85" y2="1135.2" stroke="#111" stroke-width="1.3" />
<text transform="translate(825.25,1139.7) rotate(-90) scale(1,1.035)" font-size="26.3" text-anchor="end" >C2</text>
<line x1="845.54" y1="1129.2" x2="845.54" y2="1135.2" stroke="#111" stroke-width="1.3" />
<text transform="translate(854.94,1139.7) rotate(-90) scale(1,1.035)" font-size="26.3" text-anchor="end" >C3</text>
<line x1="875.22" y1="1129.2" x2="875.22" y2="1135.2" stroke="#111" stroke-width="1.3" />
<text transform="translate(884.62,1139.7) rotate(-90) scale(1,1.035)" font-size="26.3" text-anchor="end" >C4</text>
<line x1="904.91" y1="1129.2" x2="904.91" y2="1135.2" stroke="#111" stroke-width="1.3" />
<text transform="translate(914.31,1139.7) rotate(-90) scale(1,1.035)" font-size="26.3" text-anchor="end" >C5</text>
<line x1="934.6" y1="1129.2" x2="934.6" y2="1135.2" stroke="#111" stroke-width="1.3" />
<text transform="translate(944,1139.7) rotate(-90) scale(1,1.035)" font-size="26.3" text-anchor="end" >C6</text>
<line x1="964.28" y1="1129.2" x2="964.28" y2="1135.2" stroke="#111" stroke-width="1.3" />
<text transform="translate(973.68,1139.7) rotate(-90) scale(1,1.035)" font-size="26.3" text-anchor="end" >C7</text>
<line x1="993.97" y1="1129.2" x2="993.97" y2="1135.2" stroke="#111" stroke-width="1.3" />
<text transform="translate(1003.37,1139.7) rotate(-90) scale(1,1.035)" font-size="26.3" text-anchor="end" >C8</text>
<line x1="1023.65" y1="1129.2" x2="1023.65" y2="1135.2" stroke="#111" stroke-width="1.3" />
<text transform="translate(1033.05,1139.7) rotate(-90) scale(1,1.035)" font-size="26.3" text-anchor="end" >C9</text>
<line x1="1053.34" y1="1129.2" x2="1053.34" y2="1135.2" stroke="#111" stroke-width="1.3" />
<text transform="translate(1062.74,1139.7) rotate(-90) scale(1,1.035)" font-size="26.3" text-anchor="end" >C10</text>
<line x1="1083.03" y1="1129.2" x2="1083.03" y2="1135.2" stroke="#111" stroke-width="1.3" />
<text transform="translate(1092.43,1139.7) rotate(-90) scale(1,1.035)" font-size="26.3" text-anchor="end" >O11</text>
<line x1="1112.71" y1="1129.2" x2="1112.71" y2="1135.2" stroke="#111" stroke-width="1.3" />
<text transform="translate(1122.11,1139.7) rotate(-90) scale(1,1.035)" font-size="26.3" text-anchor="end" >C12</text>
<line x1="1142.4" y1="1129.2" x2="1142.4" y2="1135.2" stroke="#111" stroke-width="1.3" />
<text transform="translate(1151.8,1139.7) rotate(-90) scale(1,1.035)" font-size="26.3" text-anchor="end" >Cl13</text>
<line x1="1172.08" y1="1129.2" x2="1172.08" y2="1135.2" stroke="#111" stroke-width="1.3" />
<text transform="translate(1181.48,1139.7) rotate(-90) scale(1,1.035)" font-size="26.3" text-anchor="end" >C14</text>
<line x1="1201.77" y1="1129.2" x2="1201.77" y2="1135.2" stroke="#111" stroke-width="1.3" />
<text transform="translate(1211.17,1139.7) rotate(-90) scale(1,1.035)" font-size="26.3" text-anchor="end" >O15</text>
<line x1="1231.46" y1="1129.2" x2="1231.46" y2="1135.2" stroke="#111" stroke-width="1.3" />
<text transform="translate(1240.86,1139.7) rotate(-90) scale(1,1.035)" font-size="26.3" text-anchor="end" >O16</text>
<line x1="1261.14" y1="1129.2" x2="1261.14" y2="1135.2" stroke="#111" stroke-width="1.3" />
<text transform="translate(1270.54,1139.7) rotate(-90) scale(1,1.035)" font-size="26.3" text-anchor="end" >C17</text>
<line x1="1290.83" y1="1129.2" x2="1290.83" y2="1135.2" stroke="#111" stroke-width="1.3" />
<text transform="translate(1300.23,1139.7) rotate(-90) scale(1,1.035)" font-size="26.3" text-anchor="end" >C18</text>
<line x1="1320.51" y1="1129.2" x2="1320.51" y2="1135.2" stroke="#111" stroke-width="1.3" />
<text transform="translate(1329.91,1139.7) rotate(-90) scale(1,1.035)" font-size="26.3" text-anchor="end" >C19</text>
<line x1="1350.2" y1="1129.2" x2="1350.2" y2="1135.2" stroke="#111" stroke-width="1.3" />
<text transform="translate(1359.6,1139.7) rotate(-90) scale(1,1.035)" font-size="26.3" text-anchor="end" >C20</text>
<line x1="1379.89" y1="1129.2" x2="1379.89" y2="1135.2" stroke="#111" stroke-width="1.3" />
<text transform="translate(1389.29,1139.7) rotate(-90) scale(1,1.035)" font-size="26.3" text-anchor="end" >C21</text>
<line x1="1409.57" y1="1129.2" x2="1409.57" y2="1135.2" stroke="#111" stroke-width="1.3" />
<text transform="translate(1418.97,1139.7) rotate(-90) scale(1,1.035)" font-size="26.3" text-anchor="end" >C22</text>
<line x1="1439.26" y1="1129.2" x2="1439.26" y2="1135.2" stroke="#111" stroke-width="1.3" />
<text transform="translate(1448.66,1139.7) rotate(-90) scale(1,1.035)" font-size="26.3" text-anchor="end" >H23</text>
<line x1="1468.94" y1="1129.2" x2="1468.94" y2="1135.2" stroke="#111" stroke-width="1.3" />
<text transform="translate(1478.34,1139.7) rotate(-90) scale(1,1.035)" font-size="26.3" text-anchor="end" >H24</text>
<line x1="1498.63" y1="1129.2" x2="1498.63" y2="1135.2" stroke="#111" stroke-width="1.3" />
<text transform="translate(1508.03,1139.7) rotate(-90) scale(1,1.035)" font-size="26.3" text-anchor="end" >H25</text>
<line x1="1528.32" y1="1129.2" x2="1528.32" y2="1135.2" stroke="#111" stroke-width="1.3" />
<text transform="translate(1537.72,1139.7) rotate(-90) scale(1,1.035)" font-size="26.3" text-anchor="end" >H26</text>
<line x1="1558" y1="1129.2" x2="1558" y2="1135.2" stroke="#111" stroke-width="1.3" />
<text transform="translate(1567.4,1139.7) rotate(-90) scale(1,1.035)" font-size="26.3" text-anchor="end" >H27</text>
<line x1="1587.69" y1="1129.2" x2="1587.69" y2="1135.2" stroke="#111" stroke-width="1.3" />
<text transform="translate(1597.09,1139.7) rotate(-90) scale(1,1.035)" font-size="26.3" text-anchor="end" >H28</text>
<line x1="1617.37" y1="1129.2" x2="1617.37" y2="1135.2" stroke="#111" stroke-width="1.3" />
<text transform="translate(1626.77,1139.7) rotate(-90) scale(1,1.035)" font-size="26.3" text-anchor="end" >H29</text>
<line x1="1647.06" y1="1129.2" x2="1647.06" y2="1135.2" stroke="#111" stroke-width="1.3" />
<text transform="translate(1656.46,1139.7) rotate(-90) scale(1,1.035)" font-size="26.3" text-anchor="end" >H30</text>
<line x1="1676.75" y1="1129.2" x2="1676.75" y2="1135.2" stroke="#111" stroke-width="1.3" />
<text transform="translate(1686.15,1139.7) rotate(-90) scale(1,1.035)" font-size="26.3" text-anchor="end" >H31</text>
<line x1="1706.43" y1="1129.2" x2="1706.43" y2="1135.2" stroke="#111" stroke-width="1.3" />
<text transform="translate(1715.83,1139.7) rotate(-90) scale(1,1.035)" font-size="26.3" text-anchor="end" >H32</text>
<line x1="1736.12" y1="1129.2" x2="1736.12" y2="1135.2" stroke="#111" stroke-width="1.3" />
<text transform="translate(1745.52,1139.7) rotate(-90) scale(1,1.035)" font-size="26.3" text-anchor="end" >H33</text>
<line x1="1765.8" y1="1129.2" x2="1765.8" y2="1135.2" stroke="#111" stroke-width="1.3" />
<text transform="translate(1775.2,1139.7) rotate(-90) scale(1,1.035)" font-size="26.3" text-anchor="end" >H34</text>
<line x1="1795.49" y1="1129.2" x2="1795.49" y2="1135.2" stroke="#111" stroke-width="1.3" />
<text transform="translate(1804.89,1139.7) rotate(-90) scale(1,1.035)" font-size="26.3" text-anchor="end" >H35</text>
<line x1="1825.18" y1="1129.2" x2="1825.18" y2="1135.2" stroke="#111" stroke-width="1.3" />
<text transform="translate(1834.58,1139.7) rotate(-90) scale(1,1.035)" font-size="26.3" text-anchor="end" >H36</text>
<line x1="1854.86" y1="1129.2" x2="1854.86" y2="1135.2" stroke="#111" stroke-width="1.3" />
<text transform="translate(1864.26,1139.7) rotate(-90) scale(1,1.035)" font-size="26.3" text-anchor="end" >H37</text>
<line x1="1884.55" y1="1129.2" x2="1884.55" y2="1135.2" stroke="#111" stroke-width="1.3" />
<text transform="translate(1893.95,1139.7) rotate(-90) scale(1,1.035)" font-size="26.3" text-anchor="end" >H38</text>
<line x1="1914.23" y1="1129.2" x2="1914.23" y2="1135.2" stroke="#111" stroke-width="1.3" />
<text transform="translate(1923.63,1139.7) rotate(-90) scale(1,1.035)" font-size="26.3" text-anchor="end" >H39</text>
<text transform="translate(636.2,941.7) rotate(-90) scale(1,1.035)" font-size="33.4" text-anchor="middle" >Atomic Energy (kcal/mol)</text>
<rect x="774.29" y="1382.05" width="20.12" height="92.55" fill="#90bde0" stroke="#111" stroke-width="2.2" />
<rect x="799.44" y="1336.29" width="20.12" height="138.31" fill="#e57a7e" stroke="#111" stroke-width="2.2" />
<rect x="824.59" y="1218.65" width="20.12" height="255.94" fill="#e57a7e" stroke="#111" stroke-width="2.2" />
<rect x="849.74" y="1309.17" width="20.12" height="165.43" fill="#e57a7e" stroke="#111" stroke-width="2.2" />
<rect x="874.89" y="1431.55" width="20.12" height="43.05" fill="#90bde0" stroke="#111" stroke-width="2.2" />
<rect x="900.04" y="1474.6" width="20.12" height="4.75" fill="#90bde0" stroke="#111" stroke-width="2.2" />
<rect x="925.18" y="1411.88" width="20.12" height="62.71" fill="#90bde0" stroke="#111" stroke-width="2.2" />
<rect x="950.33" y="1474.6" width="20.12" height="4.07" fill="#90bde0" stroke="#111" stroke-width="2.2" />
<rect x="975.48" y="1474.6" width="20.12" height="75.94" fill="#90bde0" stroke="#111" stroke-width="2.2" />
<rect x="1000.63" y="1445.78" width="20.12" height="28.82" fill="#90bde0" stroke="#111" stroke-width="2.2" />
<rect x="1025.78" y="1474.6" width="20.12" height="42.04" fill="#90bde0" stroke="#111" stroke-width="2.2" />
<rect x="1050.93" y="1444.43" width="20.12" height="30.17" fill="#90bde0" stroke="#111" stroke-width="2.2" />
<rect x="1076.08" y="1470.53" width="20.12" height="4.07" fill="#90bde0" stroke="#111" stroke-width="2.2" />
<rect x="1101.23" y="1474.6" width="20.12" height="15.59" fill="#90bde0" stroke="#111" stroke-width="2.2" />
<rect x="1126.38" y="1474.6" width="20.12" height="3.39" fill="#90bde0" stroke="#111" stroke-width="2.2" />
<rect x="1151.52" y="1460.36" width="20.12" height="14.24" fill="#90bde0" stroke="#111" stroke-width="2.2" />
<rect x="1176.67" y="1465.11" width="20.12" height="9.49" fill="#90bde0" stroke="#111" stroke-width="2.2" />
<rect x="1201.82" y="1375.95" width="20.12" height="98.65" fill="#90bde0" stroke="#111" stroke-width="2.2" />
<rect x="1226.97" y="1378.32" width="20.12" height="96.28" fill="#90bde0" stroke="#111" stroke-width="2.2" />
<rect x="1252.12" y="1465.11" width="20.12" height="9.49" fill="#90bde0" stroke="#111" stroke-width="2.2" />
<rect x="1277.27" y="1474.6" width="20.12" height="40" fill="#90bde0" stroke="#111" stroke-width="2.2" />
<rect x="1302.42" y="1474.6" width="20.12" height="1.69" fill="#90bde0" stroke="#111" stroke-width="2.2" />
<rect x="1327.57" y="1471.55" width="20.12" height="3.05" fill="#90bde0" stroke="#111" stroke-width="2.2" />
<rect x="1352.71" y="1468.5" width="20.12" height="6.1" fill="#90bde0" stroke="#111" stroke-width="2.2" />
<rect x="1377.86" y="1474.6" width="20.12" height="9.49" fill="#90bde0" stroke="#111" stroke-width="2.2" />
<rect x="1403.01" y="1474.6" width="20.12" height="9.49" fill="#90bde0" stroke="#111" stroke-width="2.2" />
<rect x="1428.16" y="1469.51" width="20.12" height="5.09" fill="#90bde0" stroke="#111" stroke-width="2.2" />
<rect x="1453.31" y="1455.95" width="20.12" height="18.64" fill="#90bde0" stroke="#111" stroke-width="2.2" />
<rect x="1478.46" y="1435.28" width="20.12" height="39.32" fill="#90bde0" stroke="#111" stroke-width="2.2" />
<rect x="1503.61" y="1474.6" width="20.12" height="18.64" fill="#90bde0" stroke="#111" stroke-width="2.2" />
<rect x="1528.76" y="1474.6" width="20.12" height="10.51" fill="#90bde0" stroke="#111" stroke-width="2.2" />
<rect x="1553.91" y="1474.6" width="20.12" height="3.05" fill="#90bde0" stroke="#111" stroke-width="2.2" />
<rect x="1579.05" y="1459.34" width="20.12" height="15.26" fill="#90bde0" stroke="#111" stroke-width="2.2" />
<rect x="1604.2" y="1448.16" width="20.12" height="26.44" fill="#90bde0" stroke="#111" stroke-width="2.2" />
<rect x="1629.35" y="1474.6" width="20.12" height="3.39" fill="#90bde0" stroke="#111" stroke-width="2.2" />
<rect x="1654.5" y="1474.6" width="20.12" height="10.17" fill="#90bde0" stroke="#111" stroke-width="2.2" />
<rect x="1679.65" y="1474.6" width="20.12" height="10.17" fill="#90bde0" stroke="#111" stroke-width="2.2" />
<rect x="1704.8" y="1474.6" width="20.12" height="8.81" fill="#90bde0" stroke="#111" stroke-width="2.2" />
<rect x="1729.95" y="1474.6" width="20.12" height="11.53" fill="#90bde0" stroke="#111" stroke-width="2.2" />
<rect x="1755.1" y="1474.6" width="20.12" height="5.76" fill="#90bde0" stroke="#111" stroke-width="2.2" />
<rect x="1780.25" y="1468.16" width="20.12" height="6.44" fill="#90bde0" stroke="#111" stroke-width="2.2" />
<rect x="1805.39" y="1474.6" width="20.12" height="13.9" fill="#90bde0" stroke="#111" stroke-width="2.2" />
<rect x="1830.54" y="1474.6" width="20.12" height="6.78" fill="#90bde0" stroke="#111" stroke-width="2.2" />
<rect x="1855.69" y="1474.6" width="20.12" height="5.76" fill="#90bde0" stroke="#111" stroke-width="2.2" />
<rect x="1880.84" y="1474.6" width="20.12" height="11.53" fill="#90bde0" stroke="#111" stroke-width="2.2" />
<rect x="1905.99" y="1474.6" width="20.12" height="9.49" fill="#90bde0" stroke="#111" stroke-width="2.2" />
<rect x="716.7" y="1202.3" width="1267.0" height="365.0" fill="none" stroke="#111" stroke-width="1.4"/>
<line x1="710.4" y1="1474.6" x2="716.7" y2="1474.6" stroke="#111" stroke-width="1.3" />
<text transform="translate(708.5,1483.8) scale(1,1.035)" font-size="34" text-anchor="end" >0</text>
<line x1="710.4" y1="1305.1" x2="716.7" y2="1305.1" stroke="#111" stroke-width="1.3" />
<text transform="translate(708.5,1318.5) scale(1,1.035)" font-size="34" text-anchor="end" >50</text>
<line x1="784.35" y1="1567.3" x2="784.35" y2="1573.3" stroke="#111" stroke-width="1.3" />
<text transform="translate(793.75,1577.8) rotate(-90) scale(1,1.035)" font-size="26.3" text-anchor="end" >C1</text>
<line x1="809.5" y1="1567.3" x2="809.5" y2="1573.3" stroke="#111" stroke-width="1.3" />
<text transform="translate(818.9,1577.8) rotate(-90) scale(1,1.035)" font-size="26.3" text-anchor="end" >C2</text>
<line x1="834.65" y1="1567.3" x2="834.65" y2="1573.3" stroke="#111" stroke-width="1.3" />
<text transform="translate(844.05,1577.8) rotate(-90) scale(1,1.035)" font-size="26.3" text-anchor="end" >C3</text>
<line x1="859.8" y1="1567.3" x2="859.8" y2="1573.3" stroke="#111" stroke-width="1.3" />
<text transform="translate(869.2,1577.8) rotate(-90) scale(1,1.035)" font-size="26.3" text-anchor="end" >C4</text>
<line x1="884.95" y1="1567.3" x2="884.95" y2="1573.3" stroke="#111" stroke-width="1.3" />
<text transform="translate(894.35,1577.8) rotate(-90) scale(1,1.035)" font-size="26.3" text-anchor="end" >C5</text>
<line x1="910.09" y1="1567.3" x2="910.09" y2="1573.3" stroke="#111" stroke-width="1.3" />
<text transform="translate(919.49,1577.8) rotate(-90) scale(1,1.035)" font-size="26.3" text-anchor="end" >C6</text>
<line x1="935.24" y1="1567.3" x2="935.24" y2="1573.3" stroke="#111" stroke-width="1.3" />
<text transform="translate(944.64,1577.8) rotate(-90) scale(1,1.035)" font-size="26.3" text-anchor="end" >C7</text>
<line x1="960.39" y1="1567.3" x2="960.39" y2="1573.3" stroke="#111" stroke-width="1.3" />
<text transform="translate(969.79,1577.8) rotate(-90) scale(1,1.035)" font-size="26.3" text-anchor="end" >N8</text>
<line x1="985.54" y1="1567.3" x2="985.54" y2="1573.3" stroke="#111" stroke-width="1.3" />
<text transform="translate(994.94,1577.8) rotate(-90) scale(1,1.035)" font-size="26.3" text-anchor="end" >C9</text>
<line x1="1010.69" y1="1567.3" x2="1010.69" y2="1573.3" stroke="#111" stroke-width="1.3" />
<text transform="translate(1020.09,1577.8) rotate(-90) scale(1,1.035)" font-size="26.3" text-anchor="end" >C10</text>
<line x1="1035.84" y1="1567.3" x2="1035.84" y2="1573.3" stroke="#111" stroke-width="1.3" />
<text transform="translate(1045.24,1577.8) rotate(-90) scale(1,1.035)" font-size="26.3" text-anchor="end" >C11</text>
<line x1="1060.99" y1="1567.3" x2="1060.99" y2="1573.3" stroke="#111" stroke-width="1.3" />
<text transform="translate(1070.39,1577.8) rotate(-90) scale(1,1.035)" font-size="26.3" text-anchor="end" >C12</text>
<line x1="1086.14" y1="1567.3" x2="1086.14" y2="1573.3" stroke="#111" stroke-width="1.3" />
<text transform="translate(1095.54,1577.8) rotate(-90) scale(1,1.035)" font-size="26.3" text-anchor="end" >C13</text>
<line x1="1111.29" y1="1567.3" x2="1111.29" y2="1573.3" stroke="#111" stroke-width="1.3" />
<text transform="translate(1120.69,1577.8) rotate(-90) scale(1,1.035)" font-size="26.3" text-anchor="end" >C14</text>
<line x1="1136.43" y1="1567.3" x2="1136.43" y2="1573.3" stroke="#111" stroke-width="1.3" />
<text transform="translate(1145.83,1577.8) rotate(-90) scale(1,1.035)" font-size="26.3" text-anchor="end" >C15</text>
<line x1="1161.58" y1="1567.3" x2="1161.58" y2="1573.3" stroke="#111" stroke-width="1.3" />
<text transform="translate(1170.98,1577.8) rotate(-90) scale(1,1.035)" font-size="26.3" text-anchor="end" >C16</text>
<line x1="1186.73" y1="1567.3" x2="1186.73" y2="1573.3" stroke="#111" stroke-width="1.3" />
<text transform="translate(1196.13,1577.8) rotate(-90) scale(1,1.035)" font-size="26.3" text-anchor="end" >O17</text>
<line x1="1211.88" y1="1567.3" x2="1211.88" y2="1573.3" stroke="#111" stroke-width="1.3" />
<text transform="translate(1221.28,1577.8) rotate(-90) scale(1,1.035)" font-size="26.3" text-anchor="end" >N18</text>
<line x1="1237.03" y1="1567.3" x2="1237.03" y2="1573.3" stroke="#111" stroke-width="1.3" />
<text transform="translate(1246.43,1577.8) rotate(-90) scale(1,1.035)" font-size="26.3" text-anchor="end" >O19</text>
<line x1="1262.18" y1="1567.3" x2="1262.18" y2="1573.3" stroke="#111" stroke-width="1.3" />
<text transform="translate(1271.58,1577.8) rotate(-90) scale(1,1.035)" font-size="26.3" text-anchor="end" >C20</text>
<line x1="1287.33" y1="1567.3" x2="1287.33" y2="1573.3" stroke="#111" stroke-width="1.3" />
<text transform="translate(1296.73,1577.8) rotate(-90) scale(1,1.035)" font-size="26.3" text-anchor="end" >C21</text>
<line x1="1312.48" y1="1567.3" x2="1312.48" y2="1573.3" stroke="#111" stroke-width="1.3" />
<text transform="translate(1321.88,1577.8) rotate(-90) scale(1,1.035)" font-size="26.3" text-anchor="end" >C22</text>
<line x1="1337.63" y1="1567.3" x2="1337.63" y2="1573.3" stroke="#111" stroke-width="1.3" />
<text transform="translate(1347.03,1577.8) rotate(-90) scale(1,1.035)" font-size="26.3" text-anchor="end" >C23</text>
<line x1="1362.77" y1="1567.3" x2="1362.77" y2="1573.3" stroke="#111" stroke-width="1.3" />
<text transform="translate(1372.17,1577.8) rotate(-90) scale(1,1.035)" font-size="26.3" text-anchor="end" >C24</text>
<line x1="1387.92" y1="1567.3" x2="1387.92" y2="1573.3" stroke="#111" stroke-width="1.3" />
<text transform="translate(1397.32,1577.8) rotate(-90) scale(1,1.035)" font-size="26.3" text-anchor="end" >C25</text>
<line x1="1413.07" y1="1567.3" x2="1413.07" y2="1573.3" stroke="#111" stroke-width="1.3" />
<text transform="translate(1422.47,1577.8) rotate(-90) scale(1,1.035)" font-size="26.3" text-anchor="end" >C26</text>
<line x1="1438.22" y1="1567.3" x2="1438.22" y2="1573.3" stroke="#111" stroke-width="1.3" />
<text transform="translate(1447.62,1577.8) rotate(-90) scale(1,1.035)" font-size="26.3" text-anchor="end" >H27</text>
<line x1="1463.37" y1="1567.3" x2="1463.37" y2="1573.3" stroke="#111" stroke-width="1.3" />
<text transform="translate(1472.77,1577.8) rotate(-90) scale(1,1.035)" font-size="26.3" text-anchor="end" >H28</text>
<line x1="1488.52" y1="1567.3" x2="1488.52" y2="1573.3" stroke="#111" stroke-width="1.3" />
<text transform="translate(1497.92,1577.8) rotate(-90) scale(1,1.035)" font-size="26.3" text-anchor="end" >H29</text>
<line x1="1513.67" y1="1567.3" x2="1513.67" y2="1573.3" stroke="#111" stroke-width="1.3" />
<text transform="translate(1523.07,1577.8) rotate(-90) scale(1,1.035)" font-size="26.3" text-anchor="end" >H30</text>
<line x1="1538.82" y1="1567.3" x2="1538.82" y2="1573.3" stroke="#111" stroke-width="1.3" />
<text transform="translate(1548.22,1577.8) rotate(-90) scale(1,1.035)" font-size="26.3" text-anchor="end" >H31</text>
<line x1="1563.97" y1="1567.3" x2="1563.97" y2="1573.3" stroke="#111" stroke-width="1.3" />
<text transform="translate(1573.37,1577.8) rotate(-90) scale(1,1.035)" font-size="26.3" text-anchor="end" >H32</text>
<line x1="1589.11" y1="1567.3" x2="1589.11" y2="1573.3" stroke="#111" stroke-width="1.3" />
<text transform="translate(1598.51,1577.8) rotate(-90) scale(1,1.035)" font-size="26.3" text-anchor="end" >H33</text>
<line x1="1614.26" y1="1567.3" x2="1614.26" y2="1573.3" stroke="#111" stroke-width="1.3" />
<text transform="translate(1623.66,1577.8) rotate(-90) scale(1,1.035)" font-size="26.3" text-anchor="end" >H34</text>
<line x1="1639.41" y1="1567.3" x2="1639.41" y2="1573.3" stroke="#111" stroke-width="1.3" />
<text transform="translate(1648.81,1577.8) rotate(-90) scale(1,1.035)" font-size="26.3" text-anchor="end" >H35</text>
<line x1="1664.56" y1="1567.3" x2="1664.56" y2="1573.3" stroke="#111" stroke-width="1.3" />
<text transform="translate(1673.96,1577.8) rotate(-90) scale(1,1.035)" font-size="26.3" text-anchor="end" >H36</text>
<line x1="1689.71" y1="1567.3" x2="1689.71" y2="1573.3" stroke="#111" stroke-width="1.3" />
<text transform="translate(1699.11,1577.8) rotate(-90) scale(1,1.035)" font-size="26.3" text-anchor="end" >H37</text>
<line x1="1714.86" y1="1567.3" x2="1714.86" y2="1573.3" stroke="#111" stroke-width="1.3" />
<text transform="translate(1724.26,1577.8) rotate(-90) scale(1,1.035)" font-size="26.3" text-anchor="end" >H38</text>
<line x1="1740.01" y1="1567.3" x2="1740.01" y2="1573.3" stroke="#111" stroke-width="1.3" />
<text transform="translate(1749.41,1577.8) rotate(-90) scale(1,1.035)" font-size="26.3" text-anchor="end" >H39</text>
<line x1="1765.16" y1="1567.3" x2="1765.16" y2="1573.3" stroke="#111" stroke-width="1.3" />
<text transform="translate(1774.56,1577.8) rotate(-90) scale(1,1.035)" font-size="26.3" text-anchor="end" >H40</text>
<line x1="1790.31" y1="1567.3" x2="1790.31" y2="1573.3" stroke="#111" stroke-width="1.3" />
<text transform="translate(1799.71,1577.8) rotate(-90) scale(1,1.035)" font-size="26.3" text-anchor="end" >H41</text>
<line x1="1815.45" y1="1567.3" x2="1815.45" y2="1573.3" stroke="#111" stroke-width="1.3" />
<text transform="translate(1824.85,1577.8) rotate(-90) scale(1,1.035)" font-size="26.3" text-anchor="end" >H42</text>
<line x1="1840.6" y1="1567.3" x2="1840.6" y2="1573.3" stroke="#111" stroke-width="1.3" />
<text transform="translate(1850,1577.8) rotate(-90) scale(1,1.035)" font-size="26.3" text-anchor="end" >H43</text>
<line x1="1865.75" y1="1567.3" x2="1865.75" y2="1573.3" stroke="#111" stroke-width="1.3" />
<text transform="translate(1875.15,1577.8) rotate(-90) scale(1,1.035)" font-size="26.3" text-anchor="end" >H44</text>
<line x1="1890.9" y1="1567.3" x2="1890.9" y2="1573.3" stroke="#111" stroke-width="1.3" />
<text transform="translate(1900.3,1577.8) rotate(-90) scale(1,1.035)" font-size="26.3" text-anchor="end" >H45</text>
<line x1="1916.05" y1="1567.3" x2="1916.05" y2="1573.3" stroke="#111" stroke-width="1.3" />
<text transform="translate(1925.45,1577.8) rotate(-90) scale(1,1.035)" font-size="26.3" text-anchor="end" >H46</text>
<text transform="translate(636.2,1394) rotate(-90) scale(1,1.035)" font-size="33.4" text-anchor="middle" >Atomic Energy (kcal/mol)</text>
<rect x="774.29" y="1919.8" width="19.69" height="3.58" fill="#90bde0" stroke="#111" stroke-width="2.2" />
<rect x="798.9" y="1894.05" width="19.69" height="25.75" fill="#90bde0" stroke="#111" stroke-width="2.2" />
<rect x="823.51" y="1919.8" width="19.69" height="3.58" fill="#90bde0" stroke="#111" stroke-width="2.2" />
<rect x="848.13" y="1817.86" width="19.69" height="101.94" fill="#90bde0" stroke="#111" stroke-width="2.2" />
<rect x="872.74" y="1656.53" width="19.69" height="263.27" fill="#e57a7e" stroke="#111" stroke-width="2.2" />
<rect x="897.35" y="1919.8" width="19.69" height="8.23" fill="#90bde0" stroke="#111" stroke-width="2.2" />
<rect x="921.96" y="1919.8" width="19.69" height="0.72" fill="#90bde0" stroke="#111" stroke-width="2.2" />
<rect x="946.57" y="1911.22" width="19.69" height="8.58" fill="#90bde0" stroke="#111" stroke-width="2.2" />
<rect x="971.18" y="1786.74" width="19.69" height="133.06" fill="#90bde0" stroke="#111" stroke-width="2.2" />
<rect x="995.79" y="1919.8" width="19.69" height="42.57" fill="#90bde0" stroke="#111" stroke-width="2.2" />
<rect x="1020.41" y="1919.8" width="19.69" height="11.09" fill="#90bde0" stroke="#111" stroke-width="2.2" />
<rect x="1045.02" y="1908.35" width="19.69" height="11.45" fill="#90bde0" stroke="#111" stroke-width="2.2" />
<rect x="1069.63" y="1895.83" width="19.69" height="23.97" fill="#90bde0" stroke="#111" stroke-width="2.2" />
<rect x="1094.24" y="1919.8" width="19.69" height="11.45" fill="#90bde0" stroke="#111" stroke-width="2.2" />
<rect x="1118.85" y="1875.45" width="19.69" height="44.35" fill="#90bde0" stroke="#111" stroke-width="2.2" />
<rect x="1143.46" y="1919.8" width="19.69" height="21.1" fill="#90bde0" stroke="#111" stroke-width="2.2" />
<rect x="1168.07" y="1919.8" width="19.69" height="28.62" fill="#90bde0" stroke="#111" stroke-width="2.2" />
<rect x="1192.69" y="1919.8" width="19.69" height="54.73" fill="#90bde0" stroke="#111" stroke-width="2.2" />
<rect x="1217.3" y="1919.8" width="19.69" height="68.68" fill="#90bde0" stroke="#111" stroke-width="2.2" />
<rect x="1241.91" y="1876.88" width="19.69" height="42.92" fill="#90bde0" stroke="#111" stroke-width="2.2" />
<rect x="1266.52" y="1910.14" width="19.69" height="9.66" fill="#90bde0" stroke="#111" stroke-width="2.2" />
<rect x="1291.13" y="1919.8" width="19.69" height="10.73" fill="#90bde0" stroke="#111" stroke-width="2.2" />
<rect x="1315.74" y="1919.8" width="19.69" height="10.73" fill="#90bde0" stroke="#111" stroke-width="2.2" />
<rect x="1340.36" y="1919.8" width="19.69" height="31.48" fill="#90bde0" stroke="#111" stroke-width="2.2" />
<rect x="1364.97" y="1919.8" width="19.69" height="7.51" fill="#90bde0" stroke="#111" stroke-width="2.2" />
<rect x="1389.58" y="1919.8" width="19.69" height="19.32" fill="#90bde0" stroke="#111" stroke-width="2.2" />
<rect x="1414.19" y="1919.8" width="19.69" height="7.15" fill="#90bde0" stroke="#111" stroke-width="2.2" />
<rect x="1438.8" y="1919.8" width="19.69" height="16.1" fill="#90bde0" stroke="#111" stroke-width="2.2" />
<rect x="1463.41" y="1919.8" width="19.69" height="10.02" fill="#90bde0" stroke="#111" stroke-width="2.2" />
<rect x="1488.02" y="1919.8" width="19.69" height="9.3" fill="#90bde0" stroke="#111" stroke-width="2.2" />
<rect x="1512.64" y="1919.8" width="19.69" height="10.73" fill="#90bde0" stroke="#111" stroke-width="2.2" />
<rect x="1537.25" y="1916.94" width="19.69" height="2.86" fill="#90bde0" stroke="#111" stroke-width="2.2" />
<rect x="1561.86" y="1894.4" width="19.69" height="25.4" fill="#90bde0" stroke="#111" stroke-width="2.2" />
<rect x="1586.47" y="1906.57" width="19.69" height="13.23" fill="#90bde0" stroke="#111" stroke-width="2.2" />
<rect x="1611.08" y="1919.8" width="19.69" height="12.16" fill="#90bde0" stroke="#111" stroke-width="2.2" />
<rect x="1635.69" y="1919.8" width="19.69" height="4.29" fill="#90bde0" stroke="#111" stroke-width="2.2" />
<rect x="1660.3" y="1919.8" width="19.69" height="13.23" fill="#90bde0" stroke="#111" stroke-width="2.2" />
<rect x="1684.92" y="1726.28" width="19.69" height="193.52" fill="#e57a7e" stroke="#111" stroke-width="2.2" />
<rect x="1709.53" y="1824.29" width="19.69" height="95.51" fill="#90bde0" stroke="#111" stroke-width="2.2" />
<rect x="1734.14" y="1919.8" width="19.69" height="4.29" fill="#90bde0" stroke="#111" stroke-width="2.2" />
<rect x="1758.75" y="1917.65" width="19.69" height="2.15" fill="#90bde0" stroke="#111" stroke-width="2.2" />
<rect x="1783.36" y="1919.8" width="19.69" height="4.29" fill="#90bde0" stroke="#111" stroke-width="2.2" />
<rect x="1807.97" y="1896.55" width="19.69" height="23.25" fill="#90bde0" stroke="#111" stroke-width="2.2" />
<rect x="1832.59" y="1919.8" width="19.69" height="9.3" fill="#90bde0" stroke="#111" stroke-width="2.2" />
<rect x="1857.2" y="1820" width="19.69" height="99.8" fill="#90bde0" stroke="#111" stroke-width="2.2" />
<rect x="1881.81" y="1784.95" width="19.69" height="134.85" fill="#e57a7e" stroke="#111" stroke-width="2.2" />
<rect x="1906.42" y="1919.8" width="19.69" height="11.8" fill="#90bde0" stroke="#111" stroke-width="2.2" />
<rect x="716.7" y="1640.2" width="1267.0" height="364.5999999999999" fill="none" stroke="#111" stroke-width="1.4"/>
<line x1="710.4" y1="1919.8" x2="716.7" y2="1919.8" stroke="#111" stroke-width="1.3" />
<text transform="translate(708.5,1927.4) scale(1,1.035)" font-size="34" text-anchor="end" >0</text>
<line x1="710.4" y1="1740.95" x2="716.7" y2="1740.95" stroke="#111" stroke-width="1.3" />
<text transform="translate(708.5,1753.9) scale(1,1.035)" font-size="34" text-anchor="end" >50</text>
<line x1="784.14" y1="2004.8" x2="784.14" y2="2010.8" stroke="#111" stroke-width="1.3" />
<text transform="translate(793.54,2015.3) rotate(-90) scale(1,1.035)" font-size="26.3" text-anchor="end" >C1</text>
<line x1="808.75" y1="2004.8" x2="808.75" y2="2010.8" stroke="#111" stroke-width="1.3" />
<text transform="translate(818.15,2015.3) rotate(-90) scale(1,1.035)" font-size="26.3" text-anchor="end" >C2</text>
<line x1="833.36" y1="2004.8" x2="833.36" y2="2010.8" stroke="#111" stroke-width="1.3" />
<text transform="translate(842.76,2015.3) rotate(-90) scale(1,1.035)" font-size="26.3" text-anchor="end" >C3</text>
<line x1="857.97" y1="2004.8" x2="857.97" y2="2010.8" stroke="#111" stroke-width="1.3" />
<text transform="translate(867.37,2015.3) rotate(-90) scale(1,1.035)" font-size="26.3" text-anchor="end" >O4</text>
<line x1="882.58" y1="2004.8" x2="882.58" y2="2010.8" stroke="#111" stroke-width="1.3" />
<text transform="translate(891.98,2015.3) rotate(-90) scale(1,1.035)" font-size="26.3" text-anchor="end" >O5</text>
<line x1="907.19" y1="2004.8" x2="907.19" y2="2010.8" stroke="#111" stroke-width="1.3" />
<text transform="translate(916.59,2015.3) rotate(-90) scale(1,1.035)" font-size="26.3" text-anchor="end" >C6</text>
<line x1="931.8" y1="2004.8" x2="931.8" y2="2010.8" stroke="#111" stroke-width="1.3" />
<text transform="translate(941.2,2015.3) rotate(-90) scale(1,1.035)" font-size="26.3" text-anchor="end" >O7</text>
<line x1="956.42" y1="2004.8" x2="956.42" y2="2010.8" stroke="#111" stroke-width="1.3" />
<text transform="translate(965.82,2015.3) rotate(-90) scale(1,1.035)" font-size="26.3" text-anchor="end" >C8</text>
<line x1="981.03" y1="2004.8" x2="981.03" y2="2010.8" stroke="#111" stroke-width="1.3" />
<text transform="translate(990.43,2015.3) rotate(-90) scale(1,1.035)" font-size="26.3" text-anchor="end" >O9</text>
<line x1="1005.64" y1="2004.8" x2="1005.64" y2="2010.8" stroke="#111" stroke-width="1.3" />
<text transform="translate(1015.04,2015.3) rotate(-90) scale(1,1.035)" font-size="26.3" text-anchor="end" >N10</text>
<line x1="1030.25" y1="2004.8" x2="1030.25" y2="2010.8" stroke="#111" stroke-width="1.3" />
<text transform="translate(1039.65,2015.3) rotate(-90) scale(1,1.035)" font-size="26.3" text-anchor="end" >C11</text>
<line x1="1054.86" y1="2004.8" x2="1054.86" y2="2010.8" stroke="#111" stroke-width="1.3" />
<text transform="translate(1064.26,2015.3) rotate(-90) scale(1,1.035)" font-size="26.3" text-anchor="end" >C12</text>
<line x1="1079.47" y1="2004.8" x2="1079.47" y2="2010.8" stroke="#111" stroke-width="1.3" />
<text transform="translate(1088.87,2015.3) rotate(-90) scale(1,1.035)" font-size="26.3" text-anchor="end" >C13</text>
<line x1="1104.09" y1="2004.8" x2="1104.09" y2="2010.8" stroke="#111" stroke-width="1.3" />
<text transform="translate(1113.49,2015.3) rotate(-90) scale(1,1.035)" font-size="26.3" text-anchor="end" >C14</text>
<line x1="1128.7" y1="2004.8" x2="1128.7" y2="2010.8" stroke="#111" stroke-width="1.3" />
<text transform="translate(1138.1,2015.3) rotate(-90) scale(1,1.035)" font-size="26.3" text-anchor="end" >C15</text>
<line x1="1153.31" y1="2004.8" x2="1153.31" y2="2010.8" stroke="#111" stroke-width="1.3" />
<text transform="translate(1162.71,2015.3) rotate(-90) scale(1,1.035)" font-size="26.3" text-anchor="end" >N16</text>
<line x1="1177.92" y1="2004.8" x2="1177.92" y2="2010.8" stroke="#111" stroke-width="1.3" />
<text transform="translate(1187.32,2015.3) rotate(-90) scale(1,1.035)" font-size="26.3" text-anchor="end" >C17</text>
<line x1="1202.53" y1="2004.8" x2="1202.53" y2="2010.8" stroke="#111" stroke-width="1.3" />
<text transform="translate(1211.93,2015.3) rotate(-90) scale(1,1.035)" font-size="26.3" text-anchor="end" >N18</text>
<line x1="1227.14" y1="2004.8" x2="1227.14" y2="2010.8" stroke="#111" stroke-width="1.3" />
<text transform="translate(1236.54,2015.3) rotate(-90) scale(1,1.035)" font-size="26.3" text-anchor="end" >N19</text>
<line x1="1251.75" y1="2004.8" x2="1251.75" y2="2010.8" stroke="#111" stroke-width="1.3" />
<text transform="translate(1261.15,2015.3) rotate(-90) scale(1,1.035)" font-size="26.3" text-anchor="end" >C20</text>
<line x1="1276.37" y1="2004.8" x2="1276.37" y2="2010.8" stroke="#111" stroke-width="1.3" />
<text transform="translate(1285.77,2015.3) rotate(-90) scale(1,1.035)" font-size="26.3" text-anchor="end" >C21</text>
<line x1="1300.98" y1="2004.8" x2="1300.98" y2="2010.8" stroke="#111" stroke-width="1.3" />
<text transform="translate(1310.38,2015.3) rotate(-90) scale(1,1.035)" font-size="26.3" text-anchor="end" >C22</text>
<line x1="1325.59" y1="2004.8" x2="1325.59" y2="2010.8" stroke="#111" stroke-width="1.3" />
<text transform="translate(1334.99,2015.3) rotate(-90) scale(1,1.035)" font-size="26.3" text-anchor="end" >C23</text>
<line x1="1350.2" y1="2004.8" x2="1350.2" y2="2010.8" stroke="#111" stroke-width="1.3" />
<text transform="translate(1359.6,2015.3) rotate(-90) scale(1,1.035)" font-size="26.3" text-anchor="end" >C24</text>
<line x1="1374.81" y1="2004.8" x2="1374.81" y2="2010.8" stroke="#111" stroke-width="1.3" />
<text transform="translate(1384.21,2015.3) rotate(-90) scale(1,1.035)" font-size="26.3" text-anchor="end" >C25</text>
<line x1="1399.42" y1="2004.8" x2="1399.42" y2="2010.8" stroke="#111" stroke-width="1.3" />
<text transform="translate(1408.82,2015.3) rotate(-90) scale(1,1.035)" font-size="26.3" text-anchor="end" >N26</text>
<line x1="1424.03" y1="2004.8" x2="1424.03" y2="2010.8" stroke="#111" stroke-width="1.3" />
<text transform="translate(1433.43,2015.3) rotate(-90) scale(1,1.035)" font-size="26.3" text-anchor="end" >H27</text>
<line x1="1448.65" y1="2004.8" x2="1448.65" y2="2010.8" stroke="#111" stroke-width="1.3" />
<text transform="translate(1458.05,2015.3) rotate(-90) scale(1,1.035)" font-size="26.3" text-anchor="end" >H28</text>
<line x1="1473.26" y1="2004.8" x2="1473.26" y2="2010.8" stroke="#111" stroke-width="1.3" />
<text transform="translate(1482.66,2015.3) rotate(-90) scale(1,1.035)" font-size="26.3" text-anchor="end" >H29</text>
<line x1="1497.87" y1="2004.8" x2="1497.87" y2="2010.8" stroke="#111" stroke-width="1.3" />
<text transform="translate(1507.27,2015.3) rotate(-90) scale(1,1.035)" font-size="26.3" text-anchor="end" >H30</text>
<line x1="1522.48" y1="2004.8" x2="1522.48" y2="2010.8" stroke="#111" stroke-width="1.3" />
<text transform="translate(1531.88,2015.3) rotate(-90) scale(1,1.035)" font-size="26.3" text-anchor="end" >H31</text>
<line x1="1547.09" y1="2004.8" x2="1547.09" y2="2010.8" stroke="#111" stroke-width="1.3" />
<text transform="translate(1556.49,2015.3) rotate(-90) scale(1,1.035)" font-size="26.3" text-anchor="end" >H32</text>
<line x1="1571.7" y1="2004.8" x2="1571.7" y2="2010.8" stroke="#111" stroke-width="1.3" />
<text transform="translate(1581.1,2015.3) rotate(-90) scale(1,1.035)" font-size="26.3" text-anchor="end" >H33</text>
<line x1="1596.31" y1="2004.8" x2="1596.31" y2="2010.8" stroke="#111" stroke-width="1.3" />
<text transform="translate(1605.71,2015.3) rotate(-90) scale(1,1.035)" font-size="26.3" text-anchor="end" >H34</text>
<line x1="1620.93" y1="2004.8" x2="1620.93" y2="2010.8" stroke="#111" stroke-width="1.3" />
<text transform="translate(1630.33,2015.3) rotate(-90) scale(1,1.035)" font-size="26.3" text-anchor="end" >H35</text>
<line x1="1645.54" y1="2004.8" x2="1645.54" y2="2010.8" stroke="#111" stroke-width="1.3" />
<text transform="translate(1654.94,2015.3) rotate(-90) scale(1,1.035)" font-size="26.3" text-anchor="end" >H36</text>
<line x1="1670.15" y1="2004.8" x2="1670.15" y2="2010.8" stroke="#111" stroke-width="1.3" />
<text transform="translate(1679.55,2015.3) rotate(-90) scale(1,1.035)" font-size="26.3" text-anchor="end" >H37</text>
<line x1="1694.76" y1="2004.8" x2="1694.76" y2="2010.8" stroke="#111" stroke-width="1.3" />
<text transform="translate(1704.16,2015.3) rotate(-90) scale(1,1.035)" font-size="26.3" text-anchor="end" >H38</text>
<line x1="1719.37" y1="2004.8" x2="1719.37" y2="2010.8" stroke="#111" stroke-width="1.3" />
<text transform="translate(1728.77,2015.3) rotate(-90) scale(1,1.035)" font-size="26.3" text-anchor="end" >H39</text>
<line x1="1743.98" y1="2004.8" x2="1743.98" y2="2010.8" stroke="#111" stroke-width="1.3" />
<text transform="translate(1753.38,2015.3) rotate(-90) scale(1,1.035)" font-size="26.3" text-anchor="end" >H40</text>
<line x1="1768.6" y1="2004.8" x2="1768.6" y2="2010.8" stroke="#111" stroke-width="1.3" />
<text transform="translate(1778,2015.3) rotate(-90) scale(1,1.035)" font-size="26.3" text-anchor="end" >H41</text>
<line x1="1793.21" y1="2004.8" x2="1793.21" y2="2010.8" stroke="#111" stroke-width="1.3" />
<text transform="translate(1802.61,2015.3) rotate(-90) scale(1,1.035)" font-size="26.3" text-anchor="end" >H42</text>
<line x1="1817.82" y1="2004.8" x2="1817.82" y2="2010.8" stroke="#111" stroke-width="1.3" />
<text transform="translate(1827.22,2015.3) rotate(-90) scale(1,1.035)" font-size="26.3" text-anchor="end" >H43</text>
<line x1="1842.43" y1="2004.8" x2="1842.43" y2="2010.8" stroke="#111" stroke-width="1.3" />
<text transform="translate(1851.83,2015.3) rotate(-90) scale(1,1.035)" font-size="26.3" text-anchor="end" >H44</text>
<line x1="1867.04" y1="2004.8" x2="1867.04" y2="2010.8" stroke="#111" stroke-width="1.3" />
<text transform="translate(1876.44,2015.3) rotate(-90) scale(1,1.035)" font-size="26.3" text-anchor="end" >H45</text>
<line x1="1891.65" y1="2004.8" x2="1891.65" y2="2010.8" stroke="#111" stroke-width="1.3" />
<text transform="translate(1901.05,2015.3) rotate(-90) scale(1,1.035)" font-size="26.3" text-anchor="end" >H46</text>
<line x1="1916.26" y1="2004.8" x2="1916.26" y2="2010.8" stroke="#111" stroke-width="1.3" />
<text transform="translate(1925.66,2015.3) rotate(-90) scale(1,1.035)" font-size="26.3" text-anchor="end" >H47</text>
<text transform="translate(636.2,1830) rotate(-90) scale(1,1.035)" font-size="33.4" text-anchor="middle" >Atomic Energy (kcal/mol)</text>
<rect x="774.29" y="2335.47" width="18.14" height="37.13" fill="#90bde0" stroke="#111" stroke-width="2.2" />
<rect x="796.96" y="2372.6" width="18.14" height="35.9" fill="#90bde0" stroke="#111" stroke-width="2.2" />
<rect x="819.64" y="2318.34" width="18.14" height="54.26" fill="#90bde0" stroke="#111" stroke-width="2.2" />
<rect x="842.31" y="2372.6" width="18.14" height="8.98" fill="#90bde0" stroke="#111" stroke-width="2.2" />
<rect x="864.99" y="2372.6" width="18.14" height="0.41" fill="#90bde0" stroke="#111" stroke-width="2.2" />
<rect x="887.66" y="2360.36" width="18.14" height="12.24" fill="#90bde0" stroke="#111" stroke-width="2.2" />
<rect x="910.33" y="2094.75" width="18.14" height="277.85" fill="#e57a7e" stroke="#111" stroke-width="2.2" />
<rect x="933.01" y="2372.6" width="18.14" height="15.1" fill="#90bde0" stroke="#111" stroke-width="2.2" />
<rect x="955.68" y="2329.35" width="18.14" height="43.25" fill="#90bde0" stroke="#111" stroke-width="2.2" />
<rect x="978.35" y="2372.6" width="18.14" height="16.73" fill="#90bde0" stroke="#111" stroke-width="2.2" />
<rect x="1001.03" y="2202.46" width="18.14" height="170.14" fill="#e57a7e" stroke="#111" stroke-width="2.2" />
<rect x="1023.7" y="2372.6" width="18.14" height="53.86" fill="#90bde0" stroke="#111" stroke-width="2.2" />
<rect x="1046.37" y="2318.74" width="18.14" height="53.86" fill="#90bde0" stroke="#111" stroke-width="2.2" />
<rect x="1069.05" y="2372.6" width="18.14" height="8.98" fill="#90bde0" stroke="#111" stroke-width="2.2" />
<rect x="1091.72" y="2372.6" width="18.14" height="12.65" fill="#90bde0" stroke="#111" stroke-width="2.2" />
<rect x="1114.39" y="2300.38" width="18.14" height="72.22" fill="#90bde0" stroke="#111" stroke-width="2.2" />
<rect x="1137.07" y="2372.6" width="18.14" height="8.98" fill="#90bde0" stroke="#111" stroke-width="2.2" />
<rect x="1159.74" y="2370.97" width="18.14" height="1.63" fill="#90bde0" stroke="#111" stroke-width="2.2" />
<rect x="1182.42" y="2364.85" width="18.14" height="7.75" fill="#90bde0" stroke="#111" stroke-width="2.2" />
<rect x="1205.09" y="2359.14" width="18.14" height="13.46" fill="#90bde0" stroke="#111" stroke-width="2.2" />
<rect x="1227.76" y="2359.14" width="18.14" height="13.46" fill="#90bde0" stroke="#111" stroke-width="2.2" />
<rect x="1250.44" y="2372.6" width="18.14" height="8.16" fill="#90bde0" stroke="#111" stroke-width="2.2" />
<rect x="1273.11" y="2342.41" width="18.14" height="30.19" fill="#90bde0" stroke="#111" stroke-width="2.2" />
<rect x="1295.78" y="2372.6" width="18.14" height="14.28" fill="#90bde0" stroke="#111" stroke-width="2.2" />
<rect x="1318.46" y="2361.18" width="18.14" height="11.42" fill="#90bde0" stroke="#111" stroke-width="2.2" />
<rect x="1341.13" y="2359.14" width="18.14" height="13.46" fill="#90bde0" stroke="#111" stroke-width="2.2" />
<rect x="1363.8" y="2369.74" width="18.14" height="2.86" fill="#90bde0" stroke="#111" stroke-width="2.2" />
<rect x="1386.48" y="2338.33" width="18.14" height="34.27" fill="#90bde0" stroke="#111" stroke-width="2.2" />
<rect x="1409.15" y="2339.14" width="18.14" height="33.46" fill="#90bde0" stroke="#111" stroke-width="2.2" />
<rect x="1431.82" y="2267.34" width="18.14" height="105.26" fill="#90bde0" stroke="#111" stroke-width="2.2" />
<rect x="1454.5" y="2247.75" width="18.14" height="124.85" fill="#90bde0" stroke="#111" stroke-width="2.2" />
<rect x="1477.17" y="2372.6" width="18.14" height="8.16" fill="#90bde0" stroke="#111" stroke-width="2.2" />
<rect x="1499.85" y="2372.6" width="18.14" height="17.54" fill="#90bde0" stroke="#111" stroke-width="2.2" />
<rect x="1522.52" y="2372.6" width="18.14" height="15.1" fill="#90bde0" stroke="#111" stroke-width="2.2" />
<rect x="1545.19" y="2372.6" width="18.14" height="11.02" fill="#90bde0" stroke="#111" stroke-width="2.2" />
<rect x="1567.87" y="2335.88" width="18.14" height="36.72" fill="#90bde0" stroke="#111" stroke-width="2.2" />
<rect x="1590.54" y="2372.6" width="18.14" height="3.26" fill="#90bde0" stroke="#111" stroke-width="2.2" />
<rect x="1613.21" y="2368.11" width="18.14" height="4.49" fill="#90bde0" stroke="#111" stroke-width="2.2" />
<rect x="1635.89" y="2372.6" width="18.14" height="13.06" fill="#90bde0" stroke="#111" stroke-width="2.2" />
<rect x="1658.56" y="2372.6" width="18.14" height="15.91" fill="#90bde0" stroke="#111" stroke-width="2.2" />
<rect x="1681.23" y="2372.6" width="18.14" height="14.69" fill="#90bde0" stroke="#111" stroke-width="2.2" />
<rect x="1703.91" y="2372.6" width="18.14" height="4.08" fill="#90bde0" stroke="#111" stroke-width="2.2" />
<rect x="1726.58" y="2369.74" width="18.14" height="2.86" fill="#90bde0" stroke="#111" stroke-width="2.2" />
<rect x="1749.26" y="2372.6" width="18.14" height="13.46" fill="#90bde0" stroke="#111" stroke-width="2.2" />
<rect x="1771.93" y="2372.6" width="18.14" height="15.1" fill="#90bde0" stroke="#111" stroke-width="2.2" />
<rect x="1794.6" y="2372.6" width="18.14" height="13.06" fill="#90bde0" stroke="#111" stroke-width="2.2" />
<rect x="1817.28" y="2372.6" width="18.14" height="0.41" fill="#90bde0" stroke="#111" stroke-width="2.2" />
<rect x="1839.95" y="2361.99" width="18.14" height="10.61" fill="#90bde0" stroke="#111" stroke-width="2.2" />
<rect x="1862.62" y="2372.6" width="18.14" height="12.65" fill="#90bde0" stroke="#111" stroke-width="2.2" />
<rect x="1885.3" y="2372.6" width="18.14" height="7.34" fill="#90bde0" stroke="#111" stroke-width="2.2" />
<rect x="1907.97" y="2372.6" width="18.14" height="16.32" fill="#90bde0" stroke="#111" stroke-width="2.2" />
<rect x="716.7" y="2077.9" width="1267.0" height="365.0999999999999" fill="none" stroke="#111" stroke-width="1.4"/>
<line x1="710.4" y1="2372.6" x2="716.7" y2="2372.6" stroke="#111" stroke-width="1.3" />
<text transform="translate(708.5,2382.8) scale(1,1.035)" font-size="34" text-anchor="end" >0</text>
<line x1="710.4" y1="2270.6" x2="716.7" y2="2270.6" stroke="#111" stroke-width="1.3" />
<text transform="translate(708.5,2281.9) scale(1,1.035)" font-size="34" text-anchor="end" >25</text>
<line x1="710.4" y1="2168.6" x2="716.7" y2="2168.6" stroke="#111" stroke-width="1.3" />
<text transform="translate(708.5,2180.4) scale(1,1.035)" font-size="34" text-anchor="end" >50</text>
<line x1="783.36" y1="2443" x2="783.36" y2="2449" stroke="#111" stroke-width="1.3" />
<text transform="translate(792.76,2453.5) rotate(-90) scale(1,1.035)" font-size="26.3" text-anchor="end" >C1</text>
<line x1="806.03" y1="2443" x2="806.03" y2="2449" stroke="#111" stroke-width="1.3" />
<text transform="translate(815.43,2453.5) rotate(-90) scale(1,1.035)" font-size="26.3" text-anchor="end" >N2</text>
<line x1="828.71" y1="2443" x2="828.71" y2="2449" stroke="#111" stroke-width="1.3" />
<text transform="translate(838.11,2453.5) rotate(-90) scale(1,1.035)" font-size="26.3" text-anchor="end" >C3</text>
<line x1="851.38" y1="2443" x2="851.38" y2="2449" stroke="#111" stroke-width="1.3" />
<text transform="translate(860.78,2453.5) rotate(-90) scale(1,1.035)" font-size="26.3" text-anchor="end" >C4</text>
<line x1="874.05" y1="2443" x2="874.05" y2="2449" stroke="#111" stroke-width="1.3" />
<text transform="translate(883.45,2453.5) rotate(-90) scale(1,1.035)" font-size="26.3" text-anchor="end" >C5</text>
<line x1="896.73" y1="2443" x2="896.73" y2="2449" stroke="#111" stroke-width="1.3" />
<text transform="translate(906.13,2453.5) rotate(-90) scale(1,1.035)" font-size="26.3" text-anchor="end" >C6</text>
<line x1="919.4" y1="2443" x2="919.4" y2="2449" stroke="#111" stroke-width="1.3" />
<text transform="translate(928.8,2453.5) rotate(-90) scale(1,1.035)" font-size="26.3" text-anchor="end" >C7</text>
<line x1="942.08" y1="2443" x2="942.08" y2="2449" stroke="#111" stroke-width="1.3" />
<text transform="translate(951.48,2453.5) rotate(-90) scale(1,1.035)" font-size="26.3" text-anchor="end" >C8</text>
<line x1="964.75" y1="2443" x2="964.75" y2="2449" stroke="#111" stroke-width="1.3" />
<text transform="translate(974.15,2453.5) rotate(-90) scale(1,1.035)" font-size="26.3" text-anchor="end" >C9</text>
<line x1="987.42" y1="2443" x2="987.42" y2="2449" stroke="#111" stroke-width="1.3" />
<text transform="translate(996.82,2453.5) rotate(-90) scale(1,1.035)" font-size="26.3" text-anchor="end" >C10</text>
<line x1="1010.1" y1="2443" x2="1010.1" y2="2449" stroke="#111" stroke-width="1.3" />
<text transform="translate(1019.5,2453.5) rotate(-90) scale(1,1.035)" font-size="26.3" text-anchor="end" >C11</text>
<line x1="1032.77" y1="2443" x2="1032.77" y2="2449" stroke="#111" stroke-width="1.3" />
<text transform="translate(1042.17,2453.5) rotate(-90) scale(1,1.035)" font-size="26.3" text-anchor="end" >C12</text>
<line x1="1055.44" y1="2443" x2="1055.44" y2="2449" stroke="#111" stroke-width="1.3" />
<text transform="translate(1064.84,2453.5) rotate(-90) scale(1,1.035)" font-size="26.3" text-anchor="end" >C13</text>
<line x1="1078.12" y1="2443" x2="1078.12" y2="2449" stroke="#111" stroke-width="1.3" />
<text transform="translate(1087.52,2453.5) rotate(-90) scale(1,1.035)" font-size="26.3" text-anchor="end" >C14</text>
<line x1="1100.79" y1="2443" x2="1100.79" y2="2449" stroke="#111" stroke-width="1.3" />
<text transform="translate(1110.19,2453.5) rotate(-90) scale(1,1.035)" font-size="26.3" text-anchor="end" >C15</text>
<line x1="1123.46" y1="2443" x2="1123.46" y2="2449" stroke="#111" stroke-width="1.3" />
<text transform="translate(1132.86,2453.5) rotate(-90) scale(1,1.035)" font-size="26.3" text-anchor="end" >C16</text>
<line x1="1146.14" y1="2443" x2="1146.14" y2="2449" stroke="#111" stroke-width="1.3" />
<text transform="translate(1155.54,2453.5) rotate(-90) scale(1,1.035)" font-size="26.3" text-anchor="end" >C17</text>
<line x1="1168.81" y1="2443" x2="1168.81" y2="2449" stroke="#111" stroke-width="1.3" />
<text transform="translate(1178.21,2453.5) rotate(-90) scale(1,1.035)" font-size="26.3" text-anchor="end" >C18</text>
<line x1="1191.48" y1="2443" x2="1191.48" y2="2449" stroke="#111" stroke-width="1.3" />
<text transform="translate(1200.88,2453.5) rotate(-90) scale(1,1.035)" font-size="26.3" text-anchor="end" >C19</text>
<line x1="1214.16" y1="2443" x2="1214.16" y2="2449" stroke="#111" stroke-width="1.3" />
<text transform="translate(1223.56,2453.5) rotate(-90) scale(1,1.035)" font-size="26.3" text-anchor="end" >C20</text>
<line x1="1236.83" y1="2443" x2="1236.83" y2="2449" stroke="#111" stroke-width="1.3" />
<text transform="translate(1246.23,2453.5) rotate(-90) scale(1,1.035)" font-size="26.3" text-anchor="end" >C21</text>
<line x1="1259.51" y1="2443" x2="1259.51" y2="2449" stroke="#111" stroke-width="1.3" />
<text transform="translate(1268.91,2453.5) rotate(-90) scale(1,1.035)" font-size="26.3" text-anchor="end" >N22</text>
<line x1="1282.18" y1="2443" x2="1282.18" y2="2449" stroke="#111" stroke-width="1.3" />
<text transform="translate(1291.58,2453.5) rotate(-90) scale(1,1.035)" font-size="26.3" text-anchor="end" >C23</text>
<line x1="1304.85" y1="2443" x2="1304.85" y2="2449" stroke="#111" stroke-width="1.3" />
<text transform="translate(1314.25,2453.5) rotate(-90) scale(1,1.035)" font-size="26.3" text-anchor="end" >N24</text>
<line x1="1327.53" y1="2443" x2="1327.53" y2="2449" stroke="#111" stroke-width="1.3" />
<text transform="translate(1336.93,2453.5) rotate(-90) scale(1,1.035)" font-size="26.3" text-anchor="end" >C25</text>
<line x1="1350.2" y1="2443" x2="1350.2" y2="2449" stroke="#111" stroke-width="1.3" />
<text transform="translate(1359.6,2453.5) rotate(-90) scale(1,1.035)" font-size="26.3" text-anchor="end" >C26</text>
<line x1="1372.87" y1="2443" x2="1372.87" y2="2449" stroke="#111" stroke-width="1.3" />
<text transform="translate(1382.27,2453.5) rotate(-90) scale(1,1.035)" font-size="26.3" text-anchor="end" >N27</text>
<line x1="1395.55" y1="2443" x2="1395.55" y2="2449" stroke="#111" stroke-width="1.3" />
<text transform="translate(1404.95,2453.5) rotate(-90) scale(1,1.035)" font-size="26.3" text-anchor="end" >H28</text>
<line x1="1418.22" y1="2443" x2="1418.22" y2="2449" stroke="#111" stroke-width="1.3" />
<text transform="translate(1427.62,2453.5) rotate(-90) scale(1,1.035)" font-size="26.3" text-anchor="end" >H29</text>
<line x1="1440.89" y1="2443" x2="1440.89" y2="2449" stroke="#111" stroke-width="1.3" />
<text transform="translate(1450.29,2453.5) rotate(-90) scale(1,1.035)" font-size="26.3" text-anchor="end" >H30</text>
<line x1="1463.57" y1="2443" x2="1463.57" y2="2449" stroke="#111" stroke-width="1.3" />
<text transform="translate(1472.97,2453.5) rotate(-90) scale(1,1.035)" font-size="26.3" text-anchor="end" >H31</text>
<line x1="1486.24" y1="2443" x2="1486.24" y2="2449" stroke="#111" stroke-width="1.3" />
<text transform="translate(1495.64,2453.5) rotate(-90) scale(1,1.035)" font-size="26.3" text-anchor="end" >H32</text>
<line x1="1508.92" y1="2443" x2="1508.92" y2="2449" stroke="#111" stroke-width="1.3" />
<text transform="translate(1518.32,2453.5) rotate(-90) scale(1,1.035)" font-size="26.3" text-anchor="end" >H33</text>
<line x1="1531.59" y1="2443" x2="1531.59" y2="2449" stroke="#111" stroke-width="1.3" />
<text transform="translate(1540.99,2453.5) rotate(-90) scale(1,1.035)" font-size="26.3" text-anchor="end" >H34</text>
<line x1="1554.26" y1="2443" x2="1554.26" y2="2449" stroke="#111" stroke-width="1.3" />
<text transform="translate(1563.66,2453.5) rotate(-90) scale(1,1.035)" font-size="26.3" text-anchor="end" >H35</text>
<line x1="1576.94" y1="2443" x2="1576.94" y2="2449" stroke="#111" stroke-width="1.3" />
<text transform="translate(1586.34,2453.5) rotate(-90) scale(1,1.035)" font-size="26.3" text-anchor="end" >H36</text>
<line x1="1599.61" y1="2443" x2="1599.61" y2="2449" stroke="#111" stroke-width="1.3" />
<text transform="translate(1609.01,2453.5) rotate(-90) scale(1,1.035)" font-size="26.3" text-anchor="end" >H37</text>
<line x1="1622.28" y1="2443" x2="1622.28" y2="2449" stroke="#111" stroke-width="1.3" />
<text transform="translate(1631.68,2453.5) rotate(-90) scale(1,1.035)" font-size="26.3" text-anchor="end" >H38</text>
<line x1="1644.96" y1="2443" x2="1644.96" y2="2449" stroke="#111" stroke-width="1.3" />
<text transform="translate(1654.36,2453.5) rotate(-90) scale(1,1.035)" font-size="26.3" text-anchor="end" >H39</text>
<line x1="1667.63" y1="2443" x2="1667.63" y2="2449" stroke="#111" stroke-width="1.3" />
<text transform="translate(1677.03,2453.5) rotate(-90) scale(1,1.035)" font-size="26.3" text-anchor="end" >H40</text>
<line x1="1690.3" y1="2443" x2="1690.3" y2="2449" stroke="#111" stroke-width="1.3" />
<text transform="translate(1699.7,2453.5) rotate(-90) scale(1,1.035)" font-size="26.3" text-anchor="end" >H41</text>
<line x1="1712.98" y1="2443" x2="1712.98" y2="2449" stroke="#111" stroke-width="1.3" />
<text transform="translate(1722.38,2453.5) rotate(-90) scale(1,1.035)" font-size="26.3" text-anchor="end" >H42</text>
<line x1="1735.65" y1="2443" x2="1735.65" y2="2449" stroke="#111" stroke-width="1.3" />
<text transform="translate(1745.05,2453.5) rotate(-90) scale(1,1.035)" font-size="26.3" text-anchor="end" >H43</text>
<line x1="1758.32" y1="2443" x2="1758.32" y2="2449" stroke="#111" stroke-width="1.3" />
<text transform="translate(1767.72,2453.5) rotate(-90) scale(1,1.035)" font-size="26.3" text-anchor="end" >H44</text>
<line x1="1781" y1="2443" x2="1781" y2="2449" stroke="#111" stroke-width="1.3" />
<text transform="translate(1790.4,2453.5) rotate(-90) scale(1,1.035)" font-size="26.3" text-anchor="end" >H45</text>
<line x1="1803.67" y1="2443" x2="1803.67" y2="2449" stroke="#111" stroke-width="1.3" />
<text transform="translate(1813.07,2453.5) rotate(-90) scale(1,1.035)" font-size="26.3" text-anchor="end" >H46</text>
<line x1="1826.35" y1="2443" x2="1826.35" y2="2449" stroke="#111" stroke-width="1.3" />
<text transform="translate(1835.75,2453.5) rotate(-90) scale(1,1.035)" font-size="26.3" text-anchor="end" >H47</text>
<line x1="1849.02" y1="2443" x2="1849.02" y2="2449" stroke="#111" stroke-width="1.3" />
<text transform="translate(1858.42,2453.5) rotate(-90) scale(1,1.035)" font-size="26.3" text-anchor="end" >H48</text>
<line x1="1871.69" y1="2443" x2="1871.69" y2="2449" stroke="#111" stroke-width="1.3" />
<text transform="translate(1881.09,2453.5) rotate(-90) scale(1,1.035)" font-size="26.3" text-anchor="end" >H49</text>
<line x1="1894.37" y1="2443" x2="1894.37" y2="2449" stroke="#111" stroke-width="1.3" />
<text transform="translate(1903.77,2453.5) rotate(-90) scale(1,1.035)" font-size="26.3" text-anchor="end" >H50</text>
<line x1="1917.04" y1="2443" x2="1917.04" y2="2449" stroke="#111" stroke-width="1.3" />
<text transform="translate(1926.44,2453.5) rotate(-90) scale(1,1.035)" font-size="26.3" text-anchor="end" >H51</text>
<text transform="translate(636.2,2268) rotate(-90) scale(1,1.035)" font-size="33.4" text-anchor="middle" >Atomic Energy (kcal/mol)</text>
</svg></body></html>
